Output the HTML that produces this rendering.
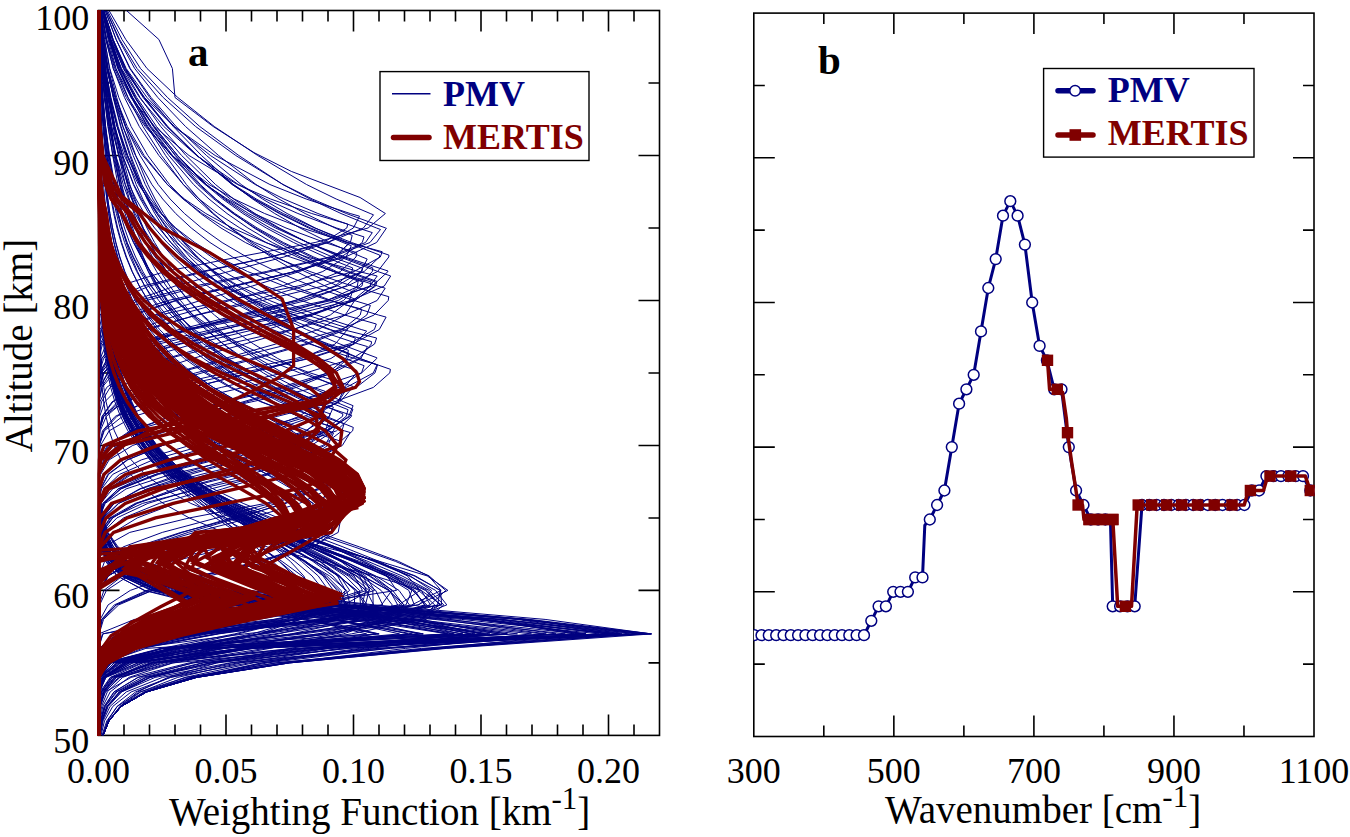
<!DOCTYPE html><html><head><meta charset="utf-8"><style>html,body{margin:0;padding:0;background:#fff}svg{display:block}</style></head><body>
<svg width="1350" height="837" viewBox="0 0 1350 837">
<rect width="1350" height="837" fill="#fff"/>
<rect x="98.5" y="10.5" width="561.00" height="724.90" fill="none" stroke="#000" stroke-width="1.6"/><path d="M226.00 735.4V714.4M226.00 10.5V31.5M353.50 735.4V714.4M353.50 10.5V31.5M481.00 735.4V714.4M481.00 10.5V31.5M608.50 735.4V714.4M608.50 10.5V31.5M124.00 735.4V724.4M124.00 10.5V21.5M149.50 735.4V724.4M149.50 10.5V21.5M175.00 735.4V724.4M175.00 10.5V21.5M200.50 735.4V724.4M200.50 10.5V21.5M251.50 735.4V724.4M251.50 10.5V21.5M277.00 735.4V724.4M277.00 10.5V21.5M302.50 735.4V724.4M302.50 10.5V21.5M328.00 735.4V724.4M328.00 10.5V21.5M379.00 735.4V724.4M379.00 10.5V21.5M404.50 735.4V724.4M404.50 10.5V21.5M430.00 735.4V724.4M430.00 10.5V21.5M455.50 735.4V724.4M455.50 10.5V21.5M506.50 735.4V724.4M506.50 10.5V21.5M532.00 735.4V724.4M532.00 10.5V21.5M557.50 735.4V724.4M557.50 10.5V21.5M583.00 735.4V724.4M583.00 10.5V21.5M634.00 735.4V724.4M634.00 10.5V21.5M98.5 590.42H119.5M659.5 590.42H638.5M98.5 445.44H119.5M659.5 445.44H638.5M98.5 300.46H119.5M659.5 300.46H638.5M98.5 155.48H119.5M659.5 155.48H638.5M98.5 662.91H109.5M659.5 662.91H648.5M98.5 517.93H109.5M659.5 517.93H648.5M98.5 372.95H109.5M659.5 372.95H648.5M98.5 227.97H109.5M659.5 227.97H648.5M98.5 82.99H109.5M659.5 82.99H648.5" stroke="#000" stroke-width="1.6" fill="none"/>
<rect x="753.8" y="13.1" width="560.20" height="723.40" fill="none" stroke="#000" stroke-width="1.6"/><path d="M893.85 736.5V715.5M893.85 13.1V34.1M1033.90 736.5V715.5M1033.90 13.1V34.1M1173.95 736.5V715.5M1173.95 13.1V34.1M823.82 736.5V725.5M823.82 13.1V24.1M963.88 736.5V725.5M963.88 13.1V24.1M1103.92 736.5V725.5M1103.92 13.1V24.1M1243.97 736.5V725.5M1243.97 13.1V24.1M753.8 591.82H774.8M1314.0 591.82H1293.0M753.8 447.14H774.8M1314.0 447.14H1293.0M753.8 302.46H774.8M1314.0 302.46H1293.0M753.8 157.78H774.8M1314.0 157.78H1293.0M753.8 664.16H764.8M1314.0 664.16H1303.0M753.8 519.48H764.8M1314.0 519.48H1303.0M753.8 374.80H764.8M1314.0 374.80H1303.0M753.8 230.12H764.8M1314.0 230.12H1303.0M753.8 85.44H764.8M1314.0 85.44H1303.0" stroke="#000" stroke-width="1.6" fill="none"/>
<defs><clipPath id="cl"><rect x="97.8" y="10.5" width="561.7" height="724.9"/></clipPath><clipPath id="cr"><rect x="753.8" y="13.1" width="561.0" height="723.4"/></clipPath></defs>
<g clip-path="url(#cl)"><g fill="none" stroke="#000080" stroke-width="1" stroke-linejoin="miter"><path d="M126.5 10.5 158.9 39.5 172.4 68.5 175.0 97.5 213.2 126.5 254.0 152.6 291.3 171.4 360.1 197.5 385.4 213.5 368.1 228.0 315.1 242.5 238.4 257.0 165.1 271.5 119.2 286.0 102.1 300.5 98.8 315.0 98.5 329.5 98.5 344.0 98.5 358.5 98.5 372.9 98.5 387.4 98.5 401.9 98.5 416.4 98.5 430.9 98.5 445.4 98.5 459.9 98.5 474.4 98.5 488.9 98.5 503.4 98.5 517.9 98.5 532.4 98.5 546.9 98.5 561.4 98.5 575.9 98.5 590.4 98.5 604.9 98.5 619.4 98.5 633.9 98.5 648.4 98.5 662.9 98.5 677.4 98.5 691.9 98.5 706.4 98.5 720.9 98.5 735.4"/><path d="M102.8 10.5 109.9 39.5 118.8 68.5 131.7 97.5 147.1 126.5 165.6 155.5 186.4 184.5 199.1 199.0 213.7 213.5 230.4 228.0 249.5 242.5 271.4 257.0 296.4 271.5 325.0 286.0 354.8 299.2 354.7 300.5 345.2 315.0 318.2 329.5 275.8 344.0 224.6 358.5 174.9 372.9 136.1 387.4 112.8 401.9 102.4 416.4 99.2 430.9 98.6 445.4 98.5 459.9 98.5 474.4 98.5 488.9 98.5 503.4 98.5 517.9 98.5 532.4 98.5 546.9 98.5 561.4 98.5 575.9 98.5 590.4 98.5 604.9 98.5 619.4 98.5 633.9 98.5 648.4 98.5 662.9 98.5 677.4 98.5 691.9 98.5 706.4 98.5 720.9 98.5 735.4"/><path d="M99.5 10.5 101.6 39.5 104.6 68.5 109.8 97.5 117.2 126.5 127.5 155.5 141.3 184.5 150.5 199.0 161.6 213.5 175.2 228.0 191.6 242.5 211.6 257.0 235.9 271.5 265.4 286.0 301.2 300.5 344.7 315.0 376.3 324.0 374.4 329.5 349.1 344.0 295.6 358.5 226.0 372.9 161.7 387.4 120.3 401.9 103.1 416.4 99.0 430.9 98.5 445.4 98.5 459.9 98.5 474.4 98.5 488.9 98.5 503.4 98.5 517.9 98.5 532.4 98.5 546.9 98.5 561.4 98.5 575.9 98.5 590.4 98.5 604.9 98.5 619.4 98.5 633.9 98.5 648.4 98.5 662.9 98.5 677.4 98.5 691.9 98.5 706.4 98.5 720.9 98.5 735.4"/><path d="M99.1 10.5 100.3 39.5 102.1 68.5 105.1 97.5 109.3 126.5 115.3 155.5 123.3 184.5 128.6 199.0 135.1 213.5 143.0 228.0 152.5 242.5 164.1 257.0 178.2 271.5 195.4 286.0 216.2 300.5 241.5 315.0 272.2 329.5 309.5 344.0 354.8 358.5 377.6 364.8 375.0 372.9 356.2 387.4 319.2 401.9 268.4 416.4 212.6 430.9 162.9 445.4 127.7 459.9 108.5 474.4 100.9 488.9 98.9 503.4 98.5 517.9 98.5 532.4 98.5 546.9 98.5 561.4 98.5 575.9 98.5 590.4 98.5 604.9 98.5 619.4 98.5 633.9 98.5 648.4 98.5 662.9 98.5 677.4 98.5 691.9 98.5 706.4 98.5 720.9 98.5 735.4"/><path d="M98.7 10.5 99.0 39.5 99.5 68.5 100.3 97.5 101.6 126.5 103.4 155.5 106.0 184.5 107.7 199.0 109.9 213.5 112.6 228.0 115.9 242.5 119.9 257.0 124.9 271.5 131.1 286.0 138.7 300.5 148.0 315.0 159.6 329.5 173.9 344.0 191.5 358.5 213.2 372.9 239.9 387.4 273.0 401.9 313.7 416.4 328.8 421.1 325.2 430.9 305.7 445.4 269.8 459.9 223.0 474.4 175.1 488.9 136.5 503.4 112.8 517.9 102.3 532.4 99.1 546.9 98.6 561.4 98.5 575.9 98.5 590.4 98.5 604.9 98.5 619.4 98.5 633.9 98.5 648.4 98.5 662.9 98.5 677.4 98.5 691.9 98.5 706.4 98.5 720.9 98.5 735.4"/><path d="M99.5 10.5 101.3 39.5 104.0 68.5 108.4 97.5 114.5 126.5 122.7 155.5 133.4 184.5 140.4 199.0 148.8 213.5 158.9 228.0 171.0 242.5 185.5 257.0 202.9 271.5 223.9 286.0 249.0 300.5 279.1 315.0 315.3 329.5 358.7 344.0 367.5 346.6 360.8 358.5 332.9 372.9 285.2 387.4 226.5 401.9 170.7 416.4 130.0 430.9 108.4 445.4 100.5 459.9 98.7 474.4 98.5 488.9 98.5 503.4 98.5 517.9 98.5 532.4 98.5 546.9 98.5 561.4 98.5 575.9 98.5 590.4 98.5 604.9 98.5 619.4 98.5 633.9 98.5 648.4 98.5 662.9 98.5 677.4 98.5 691.9 98.5 706.4 98.5 720.9 98.5 735.4"/><path d="M99.8 10.5 102.2 39.5 105.5 68.5 110.9 97.5 118.1 126.5 127.7 155.5 139.7 184.5 147.5 199.0 156.7 213.5 167.7 228.0 180.7 242.5 196.2 257.0 214.7 271.5 236.6 286.0 262.6 300.5 293.5 315.0 330.3 329.5 355.4 338.1 353.5 344.0 330.9 358.5 283.5 372.9 221.3 387.4 162.3 401.9 122.4 416.4 104.2 430.9 99.3 445.4 98.5 459.9 98.5 474.4 98.5 488.9 98.5 503.4 98.5 517.9 98.5 532.4 98.5 546.9 98.5 561.4 98.5 575.9 98.5 590.4 98.5 604.9 98.5 619.4 98.5 633.9 98.5 648.4 98.5 662.9 98.5 677.4 98.5 691.9 98.5 706.4 98.5 720.9 98.5 735.4"/><path d="M99.4 10.5 101.0 39.5 103.1 68.5 106.4 97.5 110.5 126.5 115.6 155.5 121.7 184.5 125.5 199.0 130.0 213.5 135.2 228.0 141.3 242.5 148.4 257.0 156.6 271.5 166.2 286.0 177.4 300.5 190.4 315.0 205.6 329.5 223.3 344.0 243.9 358.5 267.9 372.9 295.9 387.4 328.5 401.9 348.1 409.7 346.1 416.4 327.7 430.9 290.0 445.4 238.5 459.9 184.5 474.4 140.7 488.9 113.9 503.4 102.3 517.9 99.1 532.4 98.5 546.9 98.5 561.4 98.5 575.9 98.5 590.4 98.5 604.9 98.5 619.4 98.5 633.9 98.5 648.4 98.5 662.9 98.5 677.4 98.5 691.9 98.5 706.4 98.5 720.9 98.5 735.4"/><path d="M102.7 10.5 110.4 39.5 121.5 68.5 139.5 97.5 163.8 126.5 196.6 155.5 238.3 184.5 265.5 199.0 297.9 213.5 336.6 228.0 364.0 236.9 362.3 242.5 341.2 257.0 296.3 271.5 235.6 286.0 175.2 300.5 130.7 315.0 107.8 329.5 100.1 344.0 98.6 358.5 98.5 372.9 98.5 387.4 98.5 401.9 98.5 416.4 98.5 430.9 98.5 445.4 98.5 459.9 98.5 474.4 98.5 488.9 98.5 503.4 98.5 517.9 98.5 532.4 98.5 546.9 98.5 561.4 98.5 575.9 98.5 590.4 98.5 604.9 98.5 619.4 98.5 633.9 98.5 648.4 98.5 662.9 98.5 677.4 98.5 691.9 98.5 706.4 98.5 720.9 98.5 735.4"/><path d="M99.0 10.5 100.0 39.5 101.6 68.5 104.5 97.5 109.0 126.5 115.7 155.5 125.2 184.5 131.8 199.0 140.1 213.5 150.4 228.0 163.3 242.5 179.3 257.0 199.3 271.5 224.3 286.0 255.4 300.5 294.3 315.0 342.7 329.5 376.6 338.0 374.6 344.0 352.5 358.5 306.0 372.9 243.5 387.4 180.8 401.9 133.9 416.4 109.1 430.9 100.5 445.4 98.7 459.9 98.5 474.4 98.5 488.9 98.5 503.4 98.5 517.9 98.5 532.4 98.5 546.9 98.5 561.4 98.5 575.9 98.5 590.4 98.5 604.9 98.5 619.4 98.5 633.9 98.5 648.4 98.5 662.9 98.5 677.4 98.5 691.9 98.5 706.4 98.5 720.9 98.5 735.4"/><path d="M99.2 10.5 100.7 39.5 103.2 68.5 107.6 97.5 114.3 126.5 124.3 155.5 138.5 184.5 148.4 199.0 160.6 213.5 175.8 228.0 194.7 242.5 218.2 257.0 247.5 271.5 284.0 286.0 329.5 300.5 361.7 309.1 360.2 315.0 342.6 329.5 304.9 344.0 252.2 358.5 195.6 372.9 148.0 387.4 117.6 401.9 103.7 416.4 99.4 430.9 98.6 445.4 98.5 459.9 98.5 474.4 98.5 488.9 98.5 503.4 98.5 517.9 98.5 532.4 98.5 546.9 98.5 561.4 98.5 575.9 98.5 590.4 98.5 604.9 98.5 619.4 98.5 633.9 98.5 648.4 98.5 662.9 98.5 677.4 98.5 691.9 98.5 706.4 98.5 720.9 98.5 735.4"/><path d="M98.7 10.5 99.0 39.5 99.4 68.5 100.2 97.5 101.4 126.5 103.1 155.5 105.3 184.5 106.8 199.0 108.7 213.5 111.0 228.0 113.8 242.5 117.2 257.0 121.4 271.5 126.5 286.0 132.7 300.5 140.4 315.0 149.7 329.5 161.2 344.0 175.1 358.5 192.3 372.9 213.2 387.4 238.8 401.9 270.2 416.4 308.5 430.9 340.2 441.0 338.9 445.4 315.7 459.9 264.5 474.4 199.0 488.9 142.6 503.4 110.8 517.9 100.3 532.4 98.6 546.9 98.5 561.4 98.5 575.9 98.5 590.4 98.5 604.9 98.5 619.4 98.5 633.9 98.5 648.4 98.5 662.9 98.5 677.4 98.5 691.9 98.5 706.4 98.5 720.9 98.5 735.4"/><path d="M98.8 10.5 99.3 39.5 100.2 68.5 101.7 97.5 103.9 126.5 107.0 155.5 111.2 184.5 114.1 199.0 117.5 213.5 121.8 228.0 127.0 242.5 133.4 257.0 141.2 271.5 150.8 286.0 162.5 300.5 176.8 315.0 194.3 329.5 215.7 344.0 241.9 358.5 274.0 372.9 313.3 387.4 324.9 391.2 320.4 401.9 299.1 416.4 261.1 430.9 213.0 445.4 165.6 459.9 129.5 474.4 109.0 488.9 100.9 503.4 98.8 517.9 98.5 532.4 98.5 546.9 98.5 561.4 98.5 575.9 98.5 590.4 98.5 604.9 98.5 619.4 98.5 633.9 98.5 648.4 98.5 662.9 98.5 677.4 98.5 691.9 98.5 706.4 98.5 720.9 98.5 735.4"/><path d="M102.7 10.5 110.0 39.5 119.7 68.5 134.7 97.5 153.7 126.5 177.6 155.5 206.4 184.5 224.4 199.0 245.5 213.5 270.1 228.0 298.9 242.5 332.5 257.0 362.5 268.3 362.0 271.5 345.7 286.0 306.1 300.5 248.9 315.0 188.2 329.5 139.9 344.0 112.1 358.5 101.3 372.9 98.8 387.4 98.5 401.9 98.5 416.4 98.5 430.9 98.5 445.4 98.5 459.9 98.5 474.4 98.5 488.9 98.5 503.4 98.5 517.9 98.5 532.4 98.5 546.9 98.5 561.4 98.5 575.9 98.5 590.4 98.5 604.9 98.5 619.4 98.5 633.9 98.5 648.4 98.5 662.9 98.5 677.4 98.5 691.9 98.5 706.4 98.5 720.9 98.5 735.4"/><path d="M100.0 10.5 102.7 39.5 106.8 68.5 113.6 97.5 122.8 126.5 135.5 155.5 151.9 184.5 162.7 199.0 175.7 213.5 191.3 228.0 210.0 242.5 232.6 257.0 259.6 271.5 292.2 286.0 331.3 300.5 378.4 315.0 386.1 317.1 379.3 329.5 352.8 344.0 307.4 358.5 250.1 372.9 192.3 387.4 145.8 401.9 116.9 416.4 103.6 430.9 99.4 445.4 98.6 459.9 98.5 474.4 98.5 488.9 98.5 503.4 98.5 517.9 98.5 532.4 98.5 546.9 98.5 561.4 98.5 575.9 98.5 590.4 98.5 604.9 98.5 619.4 98.5 633.9 98.5 648.4 98.5 662.9 98.5 677.4 98.5 691.9 98.5 706.4 98.5 720.9 98.5 735.4"/><path d="M99.7 10.5 102.3 39.5 106.5 68.5 114.0 97.5 125.5 126.5 142.8 155.5 167.4 184.5 184.5 199.0 205.8 213.5 232.4 228.0 265.6 242.5 306.9 257.0 358.6 271.5 377.2 276.0 369.9 286.0 331.5 300.5 265.5 315.0 191.7 329.5 135.4 344.0 107.6 358.5 99.7 372.9 98.6 387.4 98.5 401.9 98.5 416.4 98.5 430.9 98.5 445.4 98.5 459.9 98.5 474.4 98.5 488.9 98.5 503.4 98.5 517.9 98.5 532.4 98.5 546.9 98.5 561.4 98.5 575.9 98.5 590.4 98.5 604.9 98.5 619.4 98.5 633.9 98.5 648.4 98.5 662.9 98.5 677.4 98.5 691.9 98.5 706.4 98.5 720.9 98.5 735.4"/><path d="M99.6 10.5 101.4 39.5 103.7 68.5 107.0 97.5 111.0 126.5 115.8 155.5 121.2 184.5 124.5 199.0 128.3 213.5 132.7 228.0 137.7 242.5 143.4 257.0 150.0 271.5 157.5 286.0 166.1 300.5 176.0 315.0 187.3 329.5 200.2 344.0 215.1 358.5 232.1 372.9 251.6 387.4 274.0 401.9 299.6 416.4 329.0 430.9 333.5 433.0 327.9 445.4 306.2 459.9 269.2 474.4 222.5 488.9 175.3 503.4 137.3 517.9 113.6 532.4 102.7 546.9 99.3 561.4 98.6 575.9 98.5 590.4 98.5 604.9 98.5 619.4 98.5 633.9 98.5 648.4 98.5 662.9 98.5 677.4 98.5 691.9 98.5 706.4 98.5 720.9 98.5 735.4"/><path d="M103.9 10.5 113.2 39.5 125.6 68.5 144.3 97.5 167.8 126.5 197.2 155.5 232.0 184.5 253.8 199.0 279.2 213.5 308.6 228.0 342.9 242.5 351.3 245.7 346.1 257.0 322.8 271.5 282.0 286.0 230.0 300.5 178.0 315.0 137.1 329.5 112.6 344.0 102.1 358.5 99.1 372.9 98.5 387.4 98.5 401.9 98.5 416.4 98.5 430.9 98.5 445.4 98.5 459.9 98.5 474.4 98.5 488.9 98.5 503.4 98.5 517.9 98.5 532.4 98.5 546.9 98.5 561.4 98.5 575.9 98.5 590.4 98.5 604.9 98.5 619.4 98.5 633.9 98.5 648.4 98.5 662.9 98.5 677.4 98.5 691.9 98.5 706.4 98.5 720.9 98.5 735.4"/><path d="M100.9 10.5 105.7 39.5 113.3 68.5 126.3 97.5 145.1 126.5 172.2 155.5 209.1 184.5 234.1 199.0 264.6 213.5 302.0 228.0 347.9 242.5 382.2 251.7 380.3 257.0 354.1 271.5 298.1 286.0 225.7 300.5 159.9 315.0 118.8 329.5 102.5 344.0 98.9 358.5 98.5 372.9 98.5 387.4 98.5 401.9 98.5 416.4 98.5 430.9 98.5 445.4 98.5 459.9 98.5 474.4 98.5 488.9 98.5 503.4 98.5 517.9 98.5 532.4 98.5 546.9 98.5 561.4 98.5 575.9 98.5 590.4 98.5 604.9 98.5 619.4 98.5 633.9 98.5 648.4 98.5 662.9 98.5 677.4 98.5 691.9 98.5 706.4 98.5 720.9 98.5 735.4"/><path d="M105.2 10.5 116.2 39.5 130.3 68.5 151.1 97.5 176.1 126.5 206.5 155.5 241.2 184.5 262.5 199.0 287.1 213.5 315.3 228.0 347.7 242.5 379.7 255.1 379.5 257.0 364.1 271.5 323.2 286.0 262.6 300.5 197.1 315.0 144.2 329.5 113.5 344.0 101.6 358.5 98.9 372.9 98.5 387.4 98.5 401.9 98.5 416.4 98.5 430.9 98.5 445.4 98.5 459.9 98.5 474.4 98.5 488.9 98.5 503.4 98.5 517.9 98.5 532.4 98.5 546.9 98.5 561.4 98.5 575.9 98.5 590.4 98.5 604.9 98.5 619.4 98.5 633.9 98.5 648.4 98.5 662.9 98.5 677.4 98.5 691.9 98.5 706.4 98.5 720.9 98.5 735.4"/><path d="M106.2 10.5 118.8 39.5 134.7 68.5 157.8 97.5 185.5 126.5 218.6 155.5 256.0 184.5 278.9 199.0 305.1 213.5 335.1 228.0 352.2 235.4 350.4 242.5 333.7 257.0 299.7 271.5 252.3 286.0 200.3 300.5 154.6 315.0 122.9 329.5 106.4 344.0 100.2 358.5 98.7 372.9 98.5 387.4 98.5 401.9 98.5 416.4 98.5 430.9 98.5 445.4 98.5 459.9 98.5 474.4 98.5 488.9 98.5 503.4 98.5 517.9 98.5 532.4 98.5 546.9 98.5 561.4 98.5 575.9 98.5 590.4 98.5 604.9 98.5 619.4 98.5 633.9 98.5 648.4 98.5 662.9 98.5 677.4 98.5 691.9 98.5 706.4 98.5 720.9 98.5 735.4"/><path d="M99.8 10.5 102.2 39.5 105.5 68.5 110.6 97.5 117.2 126.5 125.7 155.5 136.2 184.5 142.8 199.0 150.6 213.5 159.9 228.0 170.7 242.5 183.5 257.0 198.5 271.5 216.1 286.0 236.9 300.5 261.4 315.0 290.2 329.5 324.1 344.0 349.0 353.3 347.8 358.5 331.8 372.9 296.4 387.4 246.4 401.9 192.2 416.4 146.4 430.9 117.0 445.4 103.5 459.9 99.3 474.4 98.6 488.9 98.5 503.4 98.5 517.9 98.5 532.4 98.5 546.9 98.5 561.4 98.5 575.9 98.5 590.4 98.5 604.9 98.5 619.4 98.5 633.9 98.5 648.4 98.5 662.9 98.5 677.4 98.5 691.9 98.5 706.4 98.5 720.9 98.5 735.4"/><path d="M99.3 10.5 100.7 39.5 102.9 68.5 106.6 97.5 111.7 126.5 118.6 155.5 127.8 184.5 133.8 199.0 141.1 213.5 149.9 228.0 160.5 242.5 173.3 257.0 188.7 271.5 207.3 286.0 229.7 300.5 256.8 315.0 289.4 329.5 328.7 344.0 348.5 350.3 345.9 358.5 327.5 372.9 291.6 387.4 242.9 401.9 191.0 416.4 147.1 430.9 118.3 445.4 104.3 459.9 99.6 474.4 98.6 488.9 98.5 503.4 98.5 517.9 98.5 532.4 98.5 546.9 98.5 561.4 98.5 575.9 98.5 590.4 98.5 604.9 98.5 619.4 98.5 633.9 98.5 648.4 98.5 662.9 98.5 677.4 98.5 691.9 98.5 706.4 98.5 720.9 98.5 735.4"/><path d="M98.8 10.5 99.4 39.5 100.3 68.5 101.8 97.5 103.9 126.5 106.8 155.5 110.7 184.5 113.3 199.0 116.4 213.5 120.1 228.0 124.6 242.5 130.1 257.0 136.7 271.5 144.8 286.0 154.5 300.5 166.2 315.0 180.4 329.5 197.6 344.0 218.4 358.5 243.6 372.9 274.0 387.4 310.8 401.9 351.6 415.3 351.5 416.4 336.4 430.9 294.2 445.4 232.8 459.9 170.5 474.4 126.1 488.9 105.2 503.4 99.4 517.9 98.5 532.4 98.5 546.9 98.5 561.4 98.5 575.9 98.5 590.4 98.5 604.9 98.5 619.4 98.5 633.9 98.5 648.4 98.5 662.9 98.5 677.4 98.5 691.9 98.5 706.4 98.5 720.9 98.5 735.4"/><path d="M99.9 10.5 102.2 39.5 105.1 68.5 109.4 97.5 114.6 126.5 120.9 155.5 128.0 184.5 132.5 199.0 137.5 213.5 143.3 228.0 150.0 242.5 157.7 257.0 166.5 271.5 176.6 286.0 188.2 300.5 201.6 315.0 216.9 329.5 234.6 344.0 254.8 358.5 278.1 372.9 304.9 387.4 335.6 401.9 352.9 409.3 350.1 416.4 325.7 430.9 277.4 445.4 215.7 459.9 158.5 474.4 120.5 488.9 103.7 503.4 99.2 517.9 98.5 532.4 98.5 546.9 98.5 561.4 98.5 575.9 98.5 590.4 98.5 604.9 98.5 619.4 98.5 633.9 98.5 648.4 98.5 662.9 98.5 677.4 98.5 691.9 98.5 706.4 98.5 720.9 98.5 735.4"/><path d="M99.8 10.5 101.8 39.5 104.5 68.5 108.4 97.5 113.1 126.5 118.8 155.5 125.3 184.5 129.3 199.0 134.0 213.5 139.3 228.0 145.4 242.5 152.4 257.0 160.5 271.5 169.8 286.0 180.5 300.5 192.8 315.0 206.9 329.5 223.1 344.0 241.8 358.5 263.3 372.9 287.9 387.4 316.3 401.9 342.9 413.9 342.5 416.4 322.5 430.9 273.1 445.4 206.8 459.9 147.3 474.4 112.6 488.9 100.7 503.4 98.6 517.9 98.5 532.4 98.5 546.9 98.5 561.4 98.5 575.9 98.5 590.4 98.5 604.9 98.5 619.4 98.5 633.9 98.5 648.4 98.5 662.9 98.5 677.4 98.5 691.9 98.5 706.4 98.5 720.9 98.5 735.4"/><path d="M101.3 10.5 106.2 39.5 113.3 68.5 124.5 97.5 139.3 126.5 158.9 155.5 183.4 184.5 199.1 199.0 217.8 213.5 239.9 228.0 266.2 242.5 297.3 257.0 334.1 271.5 377.8 286.0 385.2 288.2 377.1 300.5 345.3 315.0 291.9 329.5 227.6 344.0 168.3 358.5 127.1 372.9 106.7 387.4 99.9 401.9 98.6 416.4 98.5 430.9 98.5 445.4 98.5 459.9 98.5 474.4 98.5 488.9 98.5 503.4 98.5 517.9 98.5 532.4 98.5 546.9 98.5 561.4 98.5 575.9 98.5 590.4 98.5 604.9 98.5 619.4 98.5 633.9 98.5 648.4 98.5 662.9 98.5 677.4 98.5 691.9 98.5 706.4 98.5 720.9 98.5 735.4"/><path d="M101.3 10.5 106.6 39.5 114.6 68.5 127.9 97.5 146.3 126.5 171.7 155.5 205.2 184.5 227.2 199.0 253.9 213.5 286.0 228.0 324.8 242.5 356.8 252.7 356.0 257.0 340.4 271.5 304.4 286.0 252.8 300.5 196.3 315.0 148.4 329.5 117.7 344.0 103.6 358.5 99.3 372.9 98.6 387.4 98.5 401.9 98.5 416.4 98.5 430.9 98.5 445.4 98.5 459.9 98.5 474.4 98.5 488.9 98.5 503.4 98.5 517.9 98.5 532.4 98.5 546.9 98.5 561.4 98.5 575.9 98.5 590.4 98.5 604.9 98.5 619.4 98.5 633.9 98.5 648.4 98.5 662.9 98.5 677.4 98.5 691.9 98.5 706.4 98.5 720.9 98.5 735.4"/><path d="M100.2 10.5 103.4 39.5 108.0 68.5 115.6 97.5 125.9 126.5 140.0 155.5 158.2 184.5 170.1 199.0 184.4 213.5 201.6 228.0 222.1 242.5 246.7 257.0 276.2 271.5 311.7 286.0 354.1 300.5 370.4 305.4 366.8 315.0 346.3 329.5 308.0 344.0 256.7 358.5 202.0 372.9 154.9 387.4 122.9 401.9 106.3 416.4 100.2 430.9 98.7 445.4 98.5 459.9 98.5 474.4 98.5 488.9 98.5 503.4 98.5 517.9 98.5 532.4 98.5 546.9 98.5 561.4 98.5 575.9 98.5 590.4 98.5 604.9 98.5 619.4 98.5 633.9 98.5 648.4 98.5 662.9 98.5 677.4 98.5 691.9 98.5 706.4 98.5 720.9 98.5 735.4"/><path d="M100.8 10.5 104.6 39.5 109.5 68.5 116.7 97.5 125.3 126.5 135.8 155.5 147.8 184.5 155.1 199.0 163.6 213.5 173.3 228.0 184.5 242.5 197.3 257.0 212.1 271.5 229.0 286.0 248.5 300.5 270.9 315.0 296.7 329.5 326.3 344.0 360.3 358.5 377.0 364.9 373.3 372.9 346.3 387.4 294.8 401.9 229.2 416.4 167.6 430.9 125.4 445.4 105.4 459.9 99.5 474.4 98.6 488.9 98.5 503.4 98.5 517.9 98.5 532.4 98.5 546.9 98.5 561.4 98.5 575.9 98.5 590.4 98.5 604.9 98.5 619.4 98.5 633.9 98.5 648.4 98.5 662.9 98.5 677.4 98.5 691.9 98.5 706.4 98.5 720.9 98.5 735.4"/><path d="M98.6 10.5 98.9 39.5 99.3 68.5 100.1 97.5 101.2 126.5 102.9 155.5 105.2 184.5 106.8 199.0 108.7 213.5 111.1 228.0 114.1 242.5 117.9 257.0 122.4 271.5 128.1 286.0 135.1 300.5 143.8 315.0 154.6 329.5 167.9 344.0 184.3 358.5 204.7 372.9 229.9 387.4 261.0 401.9 299.6 416.4 329.6 425.9 328.2 430.9 306.9 445.4 260.8 459.9 201.0 474.4 147.2 488.9 114.1 503.4 101.4 517.9 98.8 532.4 98.5 546.9 98.5 561.4 98.5 575.9 98.5 590.4 98.5 604.9 98.5 619.4 98.5 633.9 98.5 648.4 98.5 662.9 98.5 677.4 98.5 691.9 98.5 706.4 98.5 720.9 98.5 735.4"/><path d="M98.9 10.5 99.8 39.5 101.0 68.5 102.9 97.5 105.6 126.5 109.2 155.5 113.7 184.5 116.7 199.0 120.2 213.5 124.5 228.0 129.5 242.5 135.6 257.0 142.8 271.5 151.5 286.0 161.8 300.5 174.2 315.0 189.0 329.5 206.6 344.0 227.7 358.5 252.9 372.9 283.1 387.4 319.1 401.9 333.4 407.1 329.2 416.4 305.3 430.9 261.5 445.4 206.9 459.9 156.0 474.4 121.1 488.9 104.5 503.4 99.4 517.9 98.6 532.4 98.5 546.9 98.5 561.4 98.5 575.9 98.5 590.4 98.5 604.9 98.5 619.4 98.5 633.9 98.5 648.4 98.5 662.9 98.5 677.4 98.5 691.9 98.5 706.4 98.5 720.9 98.5 735.4"/><path d="M102.5 10.5 109.4 39.5 118.7 68.5 132.7 97.5 150.4 126.5 172.6 155.5 199.0 184.5 215.5 199.0 234.8 213.5 257.2 228.0 283.4 242.5 313.8 257.0 349.2 271.5 376.9 281.4 375.7 286.0 354.7 300.5 307.5 315.0 242.7 329.5 178.1 344.0 131.1 358.5 107.4 372.9 99.9 387.4 98.6 401.9 98.5 416.4 98.5 430.9 98.5 445.4 98.5 459.9 98.5 474.4 98.5 488.9 98.5 503.4 98.5 517.9 98.5 532.4 98.5 546.9 98.5 561.4 98.5 575.9 98.5 590.4 98.5 604.9 98.5 619.4 98.5 633.9 98.5 648.4 98.5 662.9 98.5 677.4 98.5 691.9 98.5 706.4 98.5 720.9 98.5 735.4"/><path d="M100.0 10.5 102.9 39.5 107.6 68.5 115.6 97.5 127.3 126.5 144.2 155.5 167.3 184.5 183.0 199.0 202.2 213.5 225.8 228.0 254.7 242.5 290.2 257.0 333.7 271.5 371.1 281.9 370.3 286.0 352.9 300.5 312.4 315.0 254.8 329.5 193.5 344.0 143.7 358.5 114.2 372.9 102.1 387.4 99.0 401.9 98.5 416.4 98.5 430.9 98.5 445.4 98.5 459.9 98.5 474.4 98.5 488.9 98.5 503.4 98.5 517.9 98.5 532.4 98.5 546.9 98.5 561.4 98.5 575.9 98.5 590.4 98.5 604.9 98.5 619.4 98.5 633.9 98.5 648.4 98.5 662.9 98.5 677.4 98.5 691.9 98.5 706.4 98.5 720.9 98.5 735.4"/><path d="M100.5 10.5 103.8 39.5 108.2 68.5 114.8 97.5 123.0 126.5 133.2 155.5 145.3 184.5 152.8 199.0 161.6 213.5 171.7 228.0 183.5 242.5 197.2 257.0 213.1 271.5 231.5 286.0 252.9 300.5 277.7 315.0 306.5 329.5 340.0 344.0 376.9 357.8 376.8 358.5 361.6 372.9 317.2 387.4 251.4 401.9 182.9 416.4 132.4 430.9 107.3 445.4 99.8 459.9 98.6 474.4 98.5 488.9 98.5 503.4 98.5 517.9 98.5 532.4 98.5 546.9 98.5 561.4 98.5 575.9 98.5 590.4 98.5 604.9 98.5 619.4 98.5 633.9 98.5 648.4 98.5 662.9 98.5 677.4 98.5 691.9 98.5 706.4 98.5 720.9 98.5 735.4"/><path d="M99.6 10.5 101.7 39.5 104.8 68.5 110.0 97.5 117.1 126.5 126.9 155.5 139.6 184.5 148.0 199.0 158.1 213.5 170.2 228.0 184.8 242.5 202.4 257.0 223.6 271.5 249.1 286.0 279.8 300.5 316.7 315.0 361.2 329.5 366.7 331.1 354.5 344.0 309.9 358.5 241.2 372.9 171.3 387.4 123.7 401.9 103.6 416.4 99.0 430.9 98.5 445.4 98.5 459.9 98.5 474.4 98.5 488.9 98.5 503.4 98.5 517.9 98.5 532.4 98.5 546.9 98.5 561.4 98.5 575.9 98.5 590.4 98.5 604.9 98.5 619.4 98.5 633.9 98.5 648.4 98.5 662.9 98.5 677.4 98.5 691.9 98.5 706.4 98.5 720.9 98.5 735.4"/><path d="M99.4 10.5 100.9 39.5 102.9 68.5 105.8 97.5 109.5 126.5 114.1 155.5 119.6 184.5 122.9 199.0 126.9 213.5 131.4 228.0 136.7 242.5 142.8 257.0 149.9 271.5 158.2 286.0 167.7 300.5 178.9 315.0 191.7 329.5 206.7 344.0 224.1 358.5 244.2 372.9 267.6 387.4 294.7 401.9 326.2 416.4 353.3 427.4 352.6 430.9 336.0 445.4 296.2 459.9 239.8 474.4 180.9 488.9 135.2 503.4 109.9 517.9 100.7 532.4 98.7 546.9 98.5 561.4 98.5 575.9 98.5 590.4 98.5 604.9 98.5 619.4 98.5 633.9 98.5 648.4 98.5 662.9 98.5 677.4 98.5 691.9 98.5 706.4 98.5 720.9 98.5 735.4"/><path d="M102.4 10.5 109.0 39.5 117.8 68.5 131.2 97.5 147.9 126.5 168.8 155.5 193.6 184.5 209.0 199.0 227.0 213.5 247.9 228.0 272.3 242.5 300.5 257.0 333.4 271.5 358.2 281.1 357.3 286.0 343.5 300.5 312.5 315.0 267.0 329.5 215.0 344.0 166.6 358.5 130.7 372.9 110.1 387.4 101.5 401.9 99.0 416.4 98.5 430.9 98.5 445.4 98.5 459.9 98.5 474.4 98.5 488.9 98.5 503.4 98.5 517.9 98.5 532.4 98.5 546.9 98.5 561.4 98.5 575.9 98.5 590.4 98.5 604.9 98.5 619.4 98.5 633.9 98.5 648.4 98.5 662.9 98.5 677.4 98.5 691.9 98.5 706.4 98.5 720.9 98.5 735.4"/><path d="M105.2 10.5 116.1 39.5 129.8 68.5 149.7 97.5 173.3 126.5 201.5 155.5 233.3 184.5 252.6 199.0 274.7 213.5 300.1 228.0 329.0 242.5 362.1 257.0 367.2 259.0 361.0 271.5 336.9 286.0 295.6 300.5 243.2 315.0 189.6 329.5 145.8 344.0 117.6 358.5 104.1 372.9 99.6 387.4 98.6 401.9 98.5 416.4 98.5 430.9 98.5 445.4 98.5 459.9 98.5 474.4 98.5 488.9 98.5 503.4 98.5 517.9 98.5 532.4 98.5 546.9 98.5 561.4 98.5 575.9 98.5 590.4 98.5 604.9 98.5 619.4 98.5 633.9 98.5 648.4 98.5 662.9 98.5 677.4 98.5 691.9 98.5 706.4 98.5 720.9 98.5 735.4"/><path d="M99.0 10.5 99.8 39.5 100.9 68.5 102.8 97.5 105.2 126.5 108.4 155.5 112.5 184.5 115.1 199.0 118.2 213.5 121.8 228.0 126.2 242.5 131.4 257.0 137.5 271.5 144.7 286.0 153.3 300.5 163.5 315.0 175.7 329.5 190.0 344.0 207.1 358.5 227.3 372.9 251.2 387.4 279.7 401.9 313.4 416.4 335.5 424.7 333.5 430.9 311.5 445.4 266.5 459.9 208.2 474.4 154.0 488.9 118.4 503.4 103.0 517.9 99.0 532.4 98.5 546.9 98.5 561.4 98.5 575.9 98.5 590.4 98.5 604.9 98.5 619.4 98.5 633.9 98.5 648.4 98.5 662.9 98.5 677.4 98.5 691.9 98.5 706.4 98.5 720.9 98.5 735.4"/><path d="M102.1 10.5 108.1 39.5 116.1 68.5 128.1 97.5 143.0 126.5 161.5 155.5 183.3 184.5 196.9 199.0 212.6 213.5 230.8 228.0 252.0 242.5 276.5 257.0 305.0 271.5 338.0 286.0 352.4 291.7 349.4 300.5 330.3 315.0 293.8 329.5 244.7 344.0 192.5 358.5 148.3 372.9 119.1 387.4 104.7 401.9 99.7 416.4 98.6 430.9 98.5 445.4 98.5 459.9 98.5 474.4 98.5 488.9 98.5 503.4 98.5 517.9 98.5 532.4 98.5 546.9 98.5 561.4 98.5 575.9 98.5 590.4 98.5 604.9 98.5 619.4 98.5 633.9 98.5 648.4 98.5 662.9 98.5 677.4 98.5 691.9 98.5 706.4 98.5 720.9 98.5 735.4"/><path d="M98.8 10.5 99.3 39.5 100.1 68.5 101.5 97.5 103.4 126.5 106.0 155.5 109.4 184.5 111.7 199.0 114.4 213.5 117.7 228.0 121.7 242.5 126.5 257.0 132.3 271.5 139.3 286.0 147.8 300.5 158.1 315.0 170.5 329.5 185.4 344.0 203.5 358.5 225.3 372.9 251.6 387.4 283.4 401.9 321.8 416.4 344.1 423.7 341.9 430.9 322.8 445.4 284.6 459.9 233.0 474.4 179.7 488.9 137.3 503.4 112.2 517.9 101.7 532.4 99.0 546.9 98.5 561.4 98.5 575.9 98.5 590.4 98.5 604.9 98.5 619.4 98.5 633.9 98.5 648.4 98.5 662.9 98.5 677.4 98.5 691.9 98.5 706.4 98.5 720.9 98.5 735.4"/><path d="M103.6 10.5 112.2 39.5 123.4 68.5 140.1 97.5 160.7 126.5 186.0 155.5 215.5 184.5 233.7 199.0 254.9 213.5 279.3 228.0 307.5 242.5 340.1 257.0 377.8 271.5 390.7 276.0 384.3 286.0 351.0 300.5 291.9 315.0 220.9 329.5 158.4 344.0 119.3 358.5 103.1 372.9 99.0 387.4 98.5 401.9 98.5 416.4 98.5 430.9 98.5 445.4 98.5 459.9 98.5 474.4 98.5 488.9 98.5 503.4 98.5 517.9 98.5 532.4 98.5 546.9 98.5 561.4 98.5 575.9 98.5 590.4 98.5 604.9 98.5 619.4 98.5 633.9 98.5 648.4 98.5 662.9 98.5 677.4 98.5 691.9 98.5 706.4 98.5 720.9 98.5 735.4"/><path d="M102.9 10.5 110.3 39.5 120.3 68.5 135.3 97.5 154.1 126.5 177.5 155.5 205.3 184.5 222.7 199.0 242.9 213.5 266.3 228.0 293.6 242.5 325.3 257.0 352.6 267.9 352.0 271.5 335.1 286.0 294.9 300.5 238.0 315.0 179.0 329.5 133.7 344.0 109.2 358.5 100.5 372.9 98.7 387.4 98.5 401.9 98.5 416.4 98.5 430.9 98.5 445.4 98.5 459.9 98.5 474.4 98.5 488.9 98.5 503.4 98.5 517.9 98.5 532.4 98.5 546.9 98.5 561.4 98.5 575.9 98.5 590.4 98.5 604.9 98.5 619.4 98.5 633.9 98.5 648.4 98.5 662.9 98.5 677.4 98.5 691.9 98.5 706.4 98.5 720.9 98.5 735.4"/><path d="M99.0 10.5 100.0 39.5 101.6 68.5 104.2 97.5 107.9 126.5 113.0 155.5 119.9 184.5 124.5 199.0 130.1 213.5 136.9 228.0 145.1 242.5 155.1 257.0 167.2 271.5 181.9 286.0 199.8 300.5 221.5 315.0 247.8 329.5 279.8 344.0 318.7 358.5 356.8 370.4 356.5 372.9 344.4 387.4 313.5 401.9 266.6 416.4 212.4 430.9 162.6 445.4 127.0 459.9 107.8 474.4 100.5 488.9 98.8 503.4 98.5 517.9 98.5 532.4 98.5 546.9 98.5 561.4 98.5 575.9 98.5 590.4 98.5 604.9 98.5 619.4 98.5 633.9 98.5 648.4 98.5 662.9 98.5 677.4 98.5 691.9 98.5 706.4 98.5 720.9 98.5 735.4"/><path d="M98.7 10.5 99.2 39.5 99.9 68.5 101.2 97.5 102.9 126.5 105.4 155.5 108.8 184.5 111.0 199.0 113.7 213.5 117.0 228.0 121.1 242.5 126.0 257.0 132.0 271.5 139.3 286.0 148.2 300.5 159.0 315.0 172.1 329.5 188.2 344.0 207.7 358.5 231.5 372.9 260.4 387.4 295.7 401.9 330.0 413.8 329.6 416.4 312.6 430.9 270.2 445.4 211.7 459.9 155.5 474.4 118.4 488.9 102.7 503.4 98.9 517.9 98.5 532.4 98.5 546.9 98.5 561.4 98.5 575.9 98.5 590.4 98.5 604.9 98.5 619.4 98.5 633.9 98.5 648.4 98.5 662.9 98.5 677.4 98.5 691.9 98.5 706.4 98.5 720.9 98.5 735.4"/><path d="M103.0 10.5 110.6 39.5 120.9 68.5 136.7 97.5 156.5 126.5 181.6 155.5 211.6 184.5 230.4 199.0 252.4 213.5 278.0 228.0 307.8 242.5 342.7 257.0 372.8 267.9 372.3 271.5 359.0 286.0 326.9 300.5 278.8 315.0 223.0 329.5 171.0 344.0 132.4 358.5 110.5 372.9 101.5 387.4 99.0 401.9 98.5 416.4 98.5 430.9 98.5 445.4 98.5 459.9 98.5 474.4 98.5 488.9 98.5 503.4 98.5 517.9 98.5 532.4 98.5 546.9 98.5 561.4 98.5 575.9 98.5 590.4 98.5 604.9 98.5 619.4 98.5 633.9 98.5 648.4 98.5 662.9 98.5 677.4 98.5 691.9 98.5 706.4 98.5 720.9 98.5 735.4"/><path d="M99.3 10.5 101.0 39.5 103.5 68.5 107.7 97.5 113.7 126.5 122.3 155.5 133.8 184.5 141.5 199.0 150.9 213.5 162.3 228.0 176.2 242.5 193.2 257.0 213.8 271.5 239.0 286.0 269.6 300.5 306.9 315.0 347.6 328.1 347.5 329.5 335.2 344.0 301.3 358.5 250.0 372.9 193.0 387.4 144.9 401.9 115.2 416.4 102.5 430.9 99.0 445.4 98.5 459.9 98.5 474.4 98.5 488.9 98.5 503.4 98.5 517.9 98.5 532.4 98.5 546.9 98.5 561.4 98.5 575.9 98.5 590.4 98.5 604.9 98.5 619.4 98.5 633.9 98.5 648.4 98.5 662.9 98.5 677.4 98.5 691.9 98.5 706.4 98.5 720.9 98.5 735.4"/><path d="M102.2 10.5 108.8 39.5 118.0 68.5 132.4 97.5 151.2 126.5 175.8 155.5 206.2 184.5 225.6 199.0 248.6 213.5 275.6 228.0 307.5 242.5 345.2 257.0 388.0 271.0 388.0 271.5 372.3 286.0 326.1 300.5 257.3 315.0 185.8 329.5 133.3 344.0 107.4 358.5 99.8 372.9 98.6 387.4 98.5 401.9 98.5 416.4 98.5 430.9 98.5 445.4 98.5 459.9 98.5 474.4 98.5 488.9 98.5 503.4 98.5 517.9 98.5 532.4 98.5 546.9 98.5 561.4 98.5 575.9 98.5 590.4 98.5 604.9 98.5 619.4 98.5 633.9 98.5 648.4 98.5 662.9 98.5 677.4 98.5 691.9 98.5 706.4 98.5 720.9 98.5 735.4"/><path d="M100.5 10.5 104.3 39.5 109.8 68.5 118.8 97.5 131.1 126.5 147.8 155.5 169.5 184.5 183.7 199.0 200.6 213.5 221.0 228.0 245.4 242.5 274.7 257.0 309.9 271.5 352.1 286.0 388.8 296.7 388.2 300.5 374.1 315.0 340.5 329.5 290.2 344.0 231.8 358.5 177.0 372.9 135.8 387.4 112.0 401.9 102.0 416.4 99.1 430.9 98.6 445.4 98.5 459.9 98.5 474.4 98.5 488.9 98.5 503.4 98.5 517.9 98.5 532.4 98.5 546.9 98.5 561.4 98.5 575.9 98.5 590.4 98.5 604.9 98.5 619.4 98.5 633.9 98.5 648.4 98.5 662.9 98.5 677.4 98.5 691.9 98.5 706.4 98.5 720.9 98.5 735.4"/><path d="M103.7 10.5 113.1 39.5 126.2 68.5 147.0 97.5 174.4 126.5 210.4 155.5 255.2 184.5 283.9 199.0 317.9 213.5 358.1 228.0 372.3 232.6 365.5 242.5 329.3 257.0 266.3 271.5 194.7 286.0 138.4 300.5 109.1 315.0 100.0 329.5 98.6 344.0 98.5 358.5 98.5 372.9 98.5 387.4 98.5 401.9 98.5 416.4 98.5 430.9 98.5 445.4 98.5 459.9 98.5 474.4 98.5 488.9 98.5 503.4 98.5 517.9 98.5 532.4 98.5 546.9 98.5 561.4 98.5 575.9 98.5 590.4 98.5 604.9 98.5 619.4 98.5 633.9 98.5 648.4 98.5 662.9 98.5 677.4 98.5 691.9 98.5 706.4 98.5 720.9 98.5 735.4"/><path d="M99.2 10.5 100.5 39.5 102.2 68.5 104.9 97.5 108.3 126.5 112.7 155.5 117.9 184.5 121.2 199.0 125.1 213.5 129.7 228.0 135.0 242.5 141.2 257.0 148.5 271.5 157.1 286.0 167.1 300.5 178.9 315.0 192.6 329.5 208.7 344.0 227.5 358.5 249.6 372.9 275.4 387.4 305.7 401.9 324.2 409.8 322.5 416.4 306.5 430.9 273.4 445.4 227.9 459.9 179.6 474.4 139.5 488.9 114.2 503.4 102.7 517.9 99.2 532.4 98.6 546.9 98.5 561.4 98.5 575.9 98.5 590.4 98.5 604.9 98.5 619.4 98.5 633.9 98.5 648.4 98.5 662.9 98.5 677.4 98.5 691.9 98.5 706.4 98.5 720.9 98.5 735.4"/><path d="M109.0 10.5 125.8 39.5 147.0 68.5 177.8 97.5 214.3 126.5 257.7 155.5 306.5 184.5 336.2 199.0 370.2 213.5 373.5 214.8 363.4 228.0 327.7 242.5 270.3 257.0 204.9 271.5 149.5 286.0 115.9 300.5 102.3 315.0 99.0 329.5 98.5 344.0 98.5 358.5 98.5 372.9 98.5 387.4 98.5 401.9 98.5 416.4 98.5 430.9 98.5 445.4 98.5 459.9 98.5 474.4 98.5 488.9 98.5 503.4 98.5 517.9 98.5 532.4 98.5 546.9 98.5 561.4 98.5 575.9 98.5 590.4 98.5 604.9 98.5 619.4 98.5 633.9 98.5 648.4 98.5 662.9 98.5 677.4 98.5 691.9 98.5 706.4 98.5 720.9 98.5 735.4"/><path d="M98.9 10.5 99.6 39.5 100.6 68.5 102.3 97.5 104.6 126.5 107.8 155.5 112.0 184.5 114.8 199.0 118.2 213.5 122.2 228.0 127.1 242.5 132.9 257.0 140.0 271.5 148.5 286.0 158.7 300.5 171.0 315.0 185.9 329.5 203.8 344.0 225.4 358.5 251.4 372.9 282.7 387.4 320.4 401.9 324.7 403.4 317.4 416.4 290.7 430.9 247.0 445.4 195.4 459.9 149.1 474.4 118.2 488.9 103.7 503.4 99.3 517.9 98.6 532.4 98.5 546.9 98.5 561.4 98.5 575.9 98.5 590.4 98.5 604.9 98.5 619.4 98.5 633.9 98.5 648.4 98.5 662.9 98.5 677.4 98.5 691.9 98.5 706.4 98.5 720.9 98.5 735.4"/><path d="M102.8 10.5 111.1 39.5 123.6 68.5 144.5 97.5 174.0 126.5 215.2 155.5 269.9 184.5 306.2 199.0 350.2 213.5 359.5 216.2 353.4 228.0 327.9 242.5 283.9 257.0 228.9 271.5 175.1 286.0 134.1 300.5 110.8 315.0 101.4 329.5 98.9 344.0 98.5 358.5 98.5 372.9 98.5 387.4 98.5 401.9 98.5 416.4 98.5 430.9 98.5 445.4 98.5 459.9 98.5 474.4 98.5 488.9 98.5 503.4 98.5 517.9 98.5 532.4 98.5 546.9 98.5 561.4 98.5 575.9 98.5 590.4 98.5 604.9 98.5 619.4 98.5 633.9 98.5 648.4 98.5 662.9 98.5 677.4 98.5 691.9 98.5 706.4 98.5 720.9 98.5 735.4"/><path d="M99.2 10.5 100.5 39.5 102.6 68.5 106.3 97.5 111.5 126.5 119.0 155.5 129.1 184.5 136.0 199.0 144.4 213.5 154.6 228.0 167.2 242.5 182.5 257.0 201.3 271.5 224.3 286.0 252.4 300.5 286.9 315.0 329.0 329.5 371.5 341.6 371.3 344.0 359.2 358.5 327.9 372.9 280.0 387.4 223.8 401.9 171.1 416.4 132.2 430.9 110.2 445.4 101.3 459.9 98.9 474.4 98.5 488.9 98.5 503.4 98.5 517.9 98.5 532.4 98.5 546.9 98.5 561.4 98.5 575.9 98.5 590.4 98.5 604.9 98.5 619.4 98.5 633.9 98.5 648.4 98.5 662.9 98.5 677.4 98.5 691.9 98.5 706.4 98.5 720.9 98.5 735.4"/><path d="M107.4 10.5 122.0 39.5 140.5 68.5 167.5 97.5 199.8 126.5 238.8 155.5 282.9 184.5 310.0 199.0 341.0 213.5 376.5 228.0 380.5 229.5 370.0 242.5 331.9 257.0 270.8 271.5 202.2 286.0 145.9 300.5 113.5 315.0 101.4 329.5 98.8 344.0 98.5 358.5 98.5 372.9 98.5 387.4 98.5 401.9 98.5 416.4 98.5 430.9 98.5 445.4 98.5 459.9 98.5 474.4 98.5 488.9 98.5 503.4 98.5 517.9 98.5 532.4 98.5 546.9 98.5 561.4 98.5 575.9 98.5 590.4 98.5 604.9 98.5 619.4 98.5 633.9 98.5 648.4 98.5 662.9 98.5 677.4 98.5 691.9 98.5 706.4 98.5 720.9 98.5 735.4"/><path d="M99.5 10.5 101.2 39.5 103.3 68.5 106.5 97.5 110.3 126.5 114.9 155.5 120.1 184.5 123.3 199.0 127.0 213.5 131.3 228.0 136.2 242.5 141.8 257.0 148.2 271.5 155.6 286.0 164.2 300.5 174.0 315.0 185.2 329.5 198.2 344.0 213.0 358.5 230.1 372.9 249.7 387.4 272.3 401.9 298.2 416.4 328.0 430.9 332.2 432.9 324.8 445.4 296.7 459.9 250.3 474.4 195.9 488.9 147.9 503.4 116.9 517.9 103.0 532.4 99.1 546.9 98.5 561.4 98.5 575.9 98.5 590.4 98.5 604.9 98.5 619.4 98.5 633.9 98.5 648.4 98.5 662.9 98.5 677.4 98.5 691.9 98.5 706.4 98.5 720.9 98.5 735.4"/><path d="M98.9 10.5 99.6 39.5 100.6 68.5 102.5 97.5 105.2 126.5 109.0 155.5 114.2 184.5 117.6 199.0 121.9 213.5 127.0 228.0 133.4 242.5 141.1 257.0 150.6 271.5 162.1 286.0 176.2 300.5 193.4 315.0 214.5 329.5 240.2 344.0 271.6 358.5 310.0 372.9 352.8 386.3 352.7 387.4 339.9 401.9 303.8 416.4 249.4 430.9 189.9 445.4 141.3 459.9 112.7 474.4 101.5 488.9 98.8 503.4 98.5 517.9 98.5 532.4 98.5 546.9 98.5 561.4 98.5 575.9 98.5 590.4 98.5 604.9 98.5 619.4 98.5 633.9 98.5 648.4 98.5 662.9 98.5 677.4 98.5 691.9 98.5 706.4 98.5 720.9 98.5 735.4"/><path d="M106.3 10.5 119.6 39.5 137.0 68.5 163.2 97.5 195.6 126.5 235.8 155.5 283.0 184.5 312.3 199.0 346.3 213.5 385.7 228.0 386.4 228.2 376.6 242.5 345.4 257.0 294.9 271.5 234.2 286.0 176.6 300.5 134.0 315.0 110.4 329.5 101.2 344.0 98.9 358.5 98.5 372.9 98.5 387.4 98.5 401.9 98.5 416.4 98.5 430.9 98.5 445.4 98.5 459.9 98.5 474.4 98.5 488.9 98.5 503.4 98.5 517.9 98.5 532.4 98.5 546.9 98.5 561.4 98.5 575.9 98.5 590.4 98.5 604.9 98.5 619.4 98.5 633.9 98.5 648.4 98.5 662.9 98.5 677.4 98.5 691.9 98.5 706.4 98.5 720.9 98.5 735.4"/><path d="M98.9 10.5 99.7 39.5 100.9 68.5 102.8 97.5 105.6 126.5 109.6 155.5 114.8 184.5 118.3 199.0 122.5 213.5 127.6 228.0 133.8 242.5 141.3 257.0 150.5 271.5 161.6 286.0 175.0 300.5 191.4 315.0 211.2 329.5 235.2 344.0 264.3 358.5 299.7 372.9 342.6 387.4 346.7 388.7 338.3 401.9 308.5 416.4 260.1 430.9 203.4 445.4 152.9 459.9 119.5 474.4 104.0 488.9 99.4 503.4 98.6 517.9 98.5 532.4 98.5 546.9 98.5 561.4 98.5 575.9 98.5 590.4 98.5 604.9 98.5 619.4 98.5 633.9 98.5 648.4 98.5 662.9 98.5 677.4 98.5 691.9 98.5 706.4 98.5 720.9 98.5 735.4"/><path d="M98.7 10.5 99.0 39.5 99.5 68.5 100.4 97.5 101.7 126.5 103.5 155.5 106.1 184.5 107.8 199.0 109.9 213.5 112.5 228.0 115.7 242.5 119.6 257.0 124.4 271.5 130.3 286.0 137.5 300.5 146.4 315.0 157.2 329.5 170.6 344.0 187.0 358.5 207.1 372.9 231.7 387.4 262.0 401.9 299.1 416.4 344.7 430.9 350.2 432.5 342.4 445.4 314.0 459.9 267.1 474.4 211.0 488.9 159.4 503.4 123.6 517.9 105.7 532.4 99.8 546.9 98.6 561.4 98.5 575.9 98.5 590.4 98.5 604.9 98.5 619.4 98.5 633.9 98.5 648.4 98.5 662.9 98.5 677.4 98.5 691.9 98.5 706.4 98.5 720.9 98.5 735.4"/><path d="M102.5 10.5 109.3 39.5 118.4 68.5 132.2 97.5 149.6 126.5 171.5 155.5 197.6 184.5 213.9 199.0 233.0 213.5 255.2 228.0 281.0 242.5 311.1 257.0 346.2 271.5 375.4 282.0 374.5 286.0 354.8 300.5 308.9 315.0 245.1 329.5 180.5 344.0 132.7 358.5 108.1 372.9 100.1 387.4 98.6 401.9 98.5 416.4 98.5 430.9 98.5 445.4 98.5 459.9 98.5 474.4 98.5 488.9 98.5 503.4 98.5 517.9 98.5 532.4 98.5 546.9 98.5 561.4 98.5 575.9 98.5 590.4 98.5 604.9 98.5 619.4 98.5 633.9 98.5 648.4 98.5 662.9 98.5 677.4 98.5 691.9 98.5 706.4 98.5 720.9 98.5 735.4"/><path d="M103.6 10.5 112.5 39.5 124.5 68.5 143.1 97.5 166.7 126.5 196.9 155.5 233.3 184.5 256.3 199.0 283.2 213.5 314.7 228.0 351.6 242.5 388.9 255.1 388.8 257.0 377.6 271.5 347.3 286.0 300.0 300.5 243.0 315.0 187.2 329.5 143.3 344.0 116.1 358.5 103.5 372.9 99.5 387.4 98.6 401.9 98.5 416.4 98.5 430.9 98.5 445.4 98.5 459.9 98.5 474.4 98.5 488.9 98.5 503.4 98.5 517.9 98.5 532.4 98.5 546.9 98.5 561.4 98.5 575.9 98.5 590.4 98.5 604.9 98.5 619.4 98.5 633.9 98.5 648.4 98.5 662.9 98.5 677.4 98.5 691.9 98.5 706.4 98.5 720.9 98.5 735.4"/><path d="M103.8 10.5 112.9 39.5 125.2 68.5 143.8 97.5 167.3 126.5 197.0 155.5 232.4 184.5 254.6 199.0 280.5 213.5 310.7 228.0 345.9 242.5 348.4 243.4 336.2 257.0 295.0 271.5 232.2 286.0 168.1 300.5 123.6 315.0 103.9 329.5 99.1 344.0 98.5 358.5 98.5 372.9 98.5 387.4 98.5 401.9 98.5 416.4 98.5 430.9 98.5 445.4 98.5 459.9 98.5 474.4 98.5 488.9 98.5 503.4 98.5 517.9 98.5 532.4 98.5 546.9 98.5 561.4 98.5 575.9 98.5 590.4 98.5 604.9 98.5 619.4 98.5 633.9 98.5 648.4 98.5 662.9 98.5 677.4 98.5 691.9 98.5 706.4 98.5 720.9 98.5 735.4"/><path d="M103.2 10.5 110.9 39.5 120.8 68.5 135.5 97.5 153.4 126.5 175.2 155.5 200.3 184.5 215.8 199.0 233.6 213.5 254.1 228.0 277.8 242.5 305.1 257.0 336.5 271.5 362.9 282.2 361.9 286.0 338.3 300.5 283.9 315.0 212.7 329.5 149.9 344.0 113.5 358.5 100.9 372.9 98.7 387.4 98.5 401.9 98.5 416.4 98.5 430.9 98.5 445.4 98.5 459.9 98.5 474.4 98.5 488.9 98.5 503.4 98.5 517.9 98.5 532.4 98.5 546.9 98.5 561.4 98.5 575.9 98.5 590.4 98.5 604.9 98.5 619.4 98.5 633.9 98.5 648.4 98.5 662.9 98.5 677.4 98.5 691.9 98.5 706.4 98.5 720.9 98.5 735.4"/><path d="M101.2 10.5 106.7 39.5 115.5 68.5 131.2 97.5 154.6 126.5 189.0 155.5 237.5 184.5 270.6 199.0 311.7 213.5 347.8 224.1 346.8 228.0 323.4 242.5 270.2 257.0 201.8 271.5 143.0 286.0 110.6 300.5 100.2 315.0 98.6 329.5 98.5 344.0 98.5 358.5 98.5 372.9 98.5 387.4 98.5 401.9 98.5 416.4 98.5 430.9 98.5 445.4 98.5 459.9 98.5 474.4 98.5 488.9 98.5 503.4 98.5 517.9 98.5 532.4 98.5 546.9 98.5 561.4 98.5 575.9 98.5 590.4 98.5 604.9 98.5 619.4 98.5 633.9 98.5 648.4 98.5 662.9 98.5 677.4 98.5 691.9 98.5 706.4 98.5 720.9 98.5 735.4"/><path d="M99.8 10.5 102.0 39.5 104.8 68.5 108.9 97.5 114.0 126.5 120.2 155.5 127.3 184.5 131.8 199.0 136.9 213.5 142.7 228.0 149.5 242.5 157.4 257.0 166.4 271.5 176.8 286.0 188.8 300.5 202.7 315.0 218.7 329.5 237.1 344.0 258.4 358.5 282.9 372.9 311.2 387.4 343.8 401.9 353.1 405.7 348.7 416.4 327.8 430.9 290.4 445.4 241.3 459.9 190.1 474.4 147.1 488.9 118.7 503.4 104.7 517.9 99.8 532.4 98.7 546.9 98.5 561.4 98.5 575.9 98.5 590.4 98.5 604.9 98.5 619.4 98.5 633.9 98.5 648.4 98.5 662.9 98.5 677.4 98.5 691.9 98.5 706.4 98.5 720.9 98.5 735.4"/><path d="M99.9 10.5 102.2 39.5 105.2 68.5 109.7 97.5 115.2 126.5 122.0 155.5 129.9 184.5 134.8 199.0 140.5 213.5 147.0 228.0 154.6 242.5 163.4 257.0 173.5 271.5 185.2 286.0 198.8 300.5 214.4 315.0 232.6 329.5 253.5 344.0 277.8 358.5 305.8 372.9 338.2 387.4 343.9 389.8 337.9 401.9 313.5 416.4 271.9 430.9 220.1 445.4 169.7 459.9 131.5 474.4 109.8 488.9 101.1 503.4 98.9 517.9 98.5 532.4 98.5 546.9 98.5 561.4 98.5 575.9 98.5 590.4 98.5 604.9 98.5 619.4 98.5 633.9 98.5 648.4 98.5 662.9 98.5 677.4 98.5 691.9 98.5 706.4 98.5 720.9 98.5 735.4"/><path d="M100.3 10.5 103.4 39.5 107.4 68.5 113.5 97.5 121.1 126.5 130.6 155.5 141.9 184.5 148.9 199.0 157.0 213.5 166.4 228.0 177.4 242.5 190.1 257.0 204.9 271.5 222.0 286.0 242.0 300.5 265.1 315.0 292.0 329.5 323.2 344.0 359.5 358.5 390.4 369.3 389.8 372.9 373.4 387.4 334.3 401.9 277.2 416.4 213.7 430.9 158.7 445.4 122.5 459.9 105.2 474.4 99.7 488.9 98.6 503.4 98.5 517.9 98.5 532.4 98.5 546.9 98.5 561.4 98.5 575.9 98.5 590.4 98.5 604.9 98.5 619.4 98.5 633.9 98.5 648.4 98.5 662.9 98.5 677.4 98.5 691.9 98.5 706.4 98.5 720.9 98.5 735.4"/><path d="M100.3 10.5 103.3 39.5 107.3 68.5 113.2 97.5 120.6 126.5 129.7 155.5 140.4 184.5 147.1 199.0 154.8 213.5 163.8 228.0 174.2 242.5 186.2 257.0 200.2 271.5 216.4 286.0 235.1 300.5 256.9 315.0 282.0 329.5 311.2 344.0 345.1 358.5 364.1 365.7 361.5 372.9 339.1 387.4 294.5 401.9 235.5 416.4 176.8 430.9 132.8 445.4 109.1 459.9 100.6 474.4 98.7 488.9 98.5 503.4 98.5 517.9 98.5 532.4 98.5 546.9 98.5 561.4 98.5 575.9 98.5 590.4 98.5 604.9 98.5 619.4 98.5 633.9 98.5 648.4 98.5 662.9 98.5 677.4 98.5 691.9 98.5 706.4 98.5 720.9 98.5 735.4"/><path d="M98.5 10.5 98.5 39.5 98.6 68.5 98.6 97.5 98.8 126.5 99.0 155.5 99.3 184.5 99.6 199.0 100.0 213.5 100.4 228.0 101.1 242.5 101.9 257.0 103.0 271.5 104.5 286.0 106.5 300.5 109.1 315.0 112.5 329.5 117.0 344.0 122.9 358.5 130.5 372.9 140.4 387.4 153.0 401.9 168.8 416.4 188.3 430.9 211.6 445.4 238.5 459.9 267.7 474.4 296.7 488.9 321.0 503.4 334.6 517.9 331.1 532.4 305.7 546.9 259.9 561.4 203.7 575.9 152.5 590.4 118.7 604.9 103.5 619.4 99.2 633.9 98.5 648.4 98.5 662.9 98.5 677.4 98.5 691.9 98.5 706.4 98.5 720.9 98.5 735.4"/><path d="M98.5 10.5 98.6 39.5 98.8 68.5 99.1 97.5 99.6 126.5 100.5 155.5 101.7 184.5 102.6 199.0 103.8 213.5 105.2 228.0 107.1 242.5 109.4 257.0 112.5 271.5 116.3 286.0 121.1 300.5 127.1 315.0 134.6 329.5 144.0 344.0 155.5 358.5 169.4 372.9 186.1 387.4 205.6 401.9 227.7 416.4 251.8 430.9 276.6 445.4 299.7 459.9 318.1 474.4 327.5 488.9 321.6 503.4 291.1 517.9 239.2 532.4 180.4 546.9 133.4 561.4 108.3 575.9 100.0 590.4 98.6 604.9 98.5 619.4 98.5 633.9 98.5 648.4 98.5 662.9 98.5 677.4 98.5 691.9 98.5 706.4 98.5 720.9 98.5 735.4"/><path d="M98.5 10.5 98.6 39.5 98.7 68.5 98.8 97.5 99.1 126.5 99.6 155.5 100.3 184.5 100.8 199.0 101.4 213.5 102.2 228.0 103.2 242.5 104.5 257.0 106.2 271.5 108.3 286.0 111.0 300.5 114.5 315.0 118.8 329.5 124.2 344.0 131.1 358.5 139.6 372.9 150.1 387.4 162.9 401.9 178.4 416.4 196.8 430.9 218.0 445.4 241.6 459.9 266.7 474.4 291.6 488.9 313.4 503.4 328.5 517.9 332.4 532.4 314.2 546.9 269.7 561.4 209.1 575.9 152.2 590.4 116.2 604.9 101.9 619.4 98.8 633.9 98.5 648.4 98.5 662.9 98.5 677.4 98.5 691.9 98.5 706.4 98.5 720.9 98.5 735.4"/><path d="M98.5 10.5 98.6 39.5 98.8 68.5 99.0 97.5 99.5 126.5 100.3 155.5 101.6 184.5 102.6 199.0 103.8 213.5 105.4 228.0 107.5 242.5 110.2 257.0 113.7 271.5 118.2 286.0 123.9 300.5 131.3 315.0 140.6 329.5 152.3 344.0 166.9 358.5 184.6 372.9 205.8 387.4 230.2 401.9 257.3 416.4 285.3 430.9 311.4 445.4 331.3 459.9 339.6 474.4 321.9 488.9 265.5 503.4 189.6 517.9 129.8 532.4 103.9 546.9 98.9 561.4 98.5 575.9 98.5 590.4 98.5 604.9 98.5 619.4 98.5 633.9 98.5 648.4 98.5 662.9 98.5 677.4 98.5 691.9 98.5 706.4 98.5 720.9 98.5 735.4"/><path d="M98.5 10.5 98.6 39.5 98.7 68.5 99.0 97.5 99.3 126.5 99.9 155.5 100.8 184.5 101.4 199.0 102.2 213.5 103.2 228.0 104.4 242.5 106.0 257.0 108.1 271.5 110.7 286.0 113.9 300.5 118.0 315.0 123.2 329.5 129.6 344.0 137.6 358.5 147.4 372.9 159.5 387.4 174.1 401.9 191.4 416.4 211.6 430.9 234.5 445.4 259.5 459.9 285.3 474.4 309.6 488.9 329.5 503.4 340.9 517.9 338.2 532.4 311.4 546.9 261.3 561.4 200.2 575.9 146.8 590.4 114.3 604.9 101.6 619.4 98.8 633.9 98.5 648.4 98.5 662.9 98.5 677.4 98.5 691.9 98.5 706.4 98.5 720.9 98.5 735.4"/><path d="M98.5 10.5 98.5 39.5 98.6 68.5 98.7 97.5 98.9 126.5 99.3 155.5 99.8 184.5 100.2 199.0 100.8 213.5 101.6 228.0 102.5 242.5 103.8 257.0 105.5 271.5 107.8 286.0 110.7 300.5 114.6 315.0 119.6 329.5 126.1 344.0 134.5 358.5 145.3 372.9 158.9 387.4 175.7 401.9 196.2 416.4 220.2 430.9 247.3 445.4 275.9 459.9 302.8 474.4 323.4 488.9 331.9 503.4 319.5 517.9 280.7 532.4 222.6 546.9 163.7 561.4 122.4 575.9 103.9 590.4 99.1 604.9 98.5 619.4 98.5 633.9 98.5 648.4 98.5 662.9 98.5 677.4 98.5 691.9 98.5 706.4 98.5 720.9 98.5 735.4"/><path d="M98.5 10.5 98.6 39.5 98.7 68.5 98.9 97.5 99.2 126.5 99.7 155.5 100.5 184.5 101.1 199.0 101.8 213.5 102.7 228.0 103.9 242.5 105.4 257.0 107.3 271.5 109.8 286.0 112.8 300.5 116.7 315.0 121.7 329.5 127.8 344.0 135.5 358.5 145.1 372.9 156.8 387.4 171.0 401.9 188.1 416.4 208.0 430.9 230.6 445.4 255.4 459.9 280.9 474.4 305.0 488.9 324.4 503.4 335.0 517.9 331.2 532.4 304.9 546.9 257.5 561.4 199.9 575.9 148.7 590.4 116.2 604.9 102.4 619.4 99.0 633.9 98.5 648.4 98.5 662.9 98.5 677.4 98.5 691.9 98.5 706.4 98.5 720.9 98.5 735.4"/><path d="M98.5 10.5 98.5 39.5 98.6 68.5 98.7 97.5 98.9 126.5 99.2 155.5 99.7 184.5 100.1 199.0 100.6 213.5 101.2 228.0 102.1 242.5 103.2 257.0 104.7 271.5 106.5 286.0 109.0 300.5 112.2 315.0 116.3 329.5 121.6 344.0 128.4 358.5 137.0 372.9 147.9 387.4 161.4 401.9 177.9 416.4 197.7 430.9 220.5 445.4 245.7 459.9 271.5 474.4 295.2 488.9 312.5 503.4 318.2 517.9 305.9 532.4 272.6 546.9 223.3 561.4 171.0 575.9 130.3 590.4 108.1 604.9 100.2 619.4 98.7 633.9 98.5 648.4 98.5 662.9 98.5 677.4 98.5 691.9 98.5 706.4 98.5 720.9 98.5 735.4"/><path d="M98.5 10.5 98.6 39.5 98.7 68.5 98.9 97.5 99.2 126.5 99.8 155.5 100.7 184.5 101.4 199.0 102.2 213.5 103.4 228.0 104.8 242.5 106.7 257.0 109.1 271.5 112.1 286.0 116.1 300.5 121.2 315.0 127.7 329.5 135.9 344.0 146.2 358.5 159.1 372.9 174.9 387.4 193.9 401.9 216.2 416.4 241.5 430.9 268.8 445.4 296.1 459.9 320.0 474.4 336.2 488.9 338.8 503.4 313.8 517.9 258.9 532.4 190.6 546.9 135.1 561.4 107.2 575.9 99.5 590.4 98.5 604.9 98.5 619.4 98.5 633.9 98.5 648.4 98.5 662.9 98.5 677.4 98.5 691.9 98.5 706.4 98.5 720.9 98.5 735.4"/><path d="M98.5 10.5 98.6 39.5 98.7 68.5 98.8 97.5 99.2 126.5 99.8 155.5 100.7 184.5 101.4 199.0 102.4 213.5 103.6 228.0 105.2 242.5 107.4 257.0 110.2 271.5 114.0 286.0 118.8 300.5 125.1 315.0 133.3 329.5 143.7 344.0 156.8 358.5 173.1 372.9 193.0 387.4 216.2 401.9 242.4 416.4 269.7 430.9 295.1 445.4 314.1 459.9 320.7 474.4 307.4 488.9 270.6 503.4 216.9 517.9 162.3 532.4 123.2 546.9 104.6 561.4 99.3 575.9 98.5 590.4 98.5 604.9 98.5 619.4 98.5 633.9 98.5 648.4 98.5 662.9 98.5 677.4 98.5 691.9 98.5 706.4 98.5 720.9 98.5 735.4"/><path d="M98.5 10.5 98.6 39.5 98.8 68.5 99.1 97.5 99.6 126.5 100.3 155.5 101.5 184.5 102.4 199.0 103.5 213.5 104.9 228.0 106.7 242.5 109.0 257.0 112.0 271.5 115.8 286.0 120.5 300.5 126.5 315.0 134.1 329.5 143.5 344.0 155.1 358.5 169.3 372.9 186.3 387.4 206.2 401.9 228.9 416.4 253.7 430.9 279.0 445.4 302.6 459.9 320.8 474.4 329.4 488.9 319.8 503.4 281.2 517.9 221.0 532.4 159.9 546.9 119.0 561.4 102.4 575.9 98.8 590.4 98.5 604.9 98.5 619.4 98.5 633.9 98.5 648.4 98.5 662.9 98.5 677.4 98.5 691.9 98.5 706.4 98.5 720.9 98.5 735.4"/><path d="M98.6 10.5 98.7 39.5 99.0 68.5 99.6 97.5 100.4 126.5 101.6 155.5 103.5 184.5 104.8 199.0 106.4 213.5 108.4 228.0 111.0 242.5 114.2 257.0 118.2 271.5 123.2 286.0 129.4 300.5 137.0 315.0 146.3 329.5 157.6 344.0 171.3 358.5 187.5 372.9 206.3 387.4 227.8 401.9 251.5 416.4 276.4 430.9 301.1 445.4 322.9 459.9 338.7 474.4 344.7 488.9 332.6 503.4 295.7 517.9 239.6 532.4 179.5 546.9 133.0 561.4 108.4 575.9 100.1 590.4 98.6 604.9 98.5 619.4 98.5 633.9 98.5 648.4 98.5 662.9 98.5 677.4 98.5 691.9 98.5 706.4 98.5 720.9 98.5 735.4"/><path d="M98.5 10.5 98.6 39.5 98.7 68.5 98.9 97.5 99.3 126.5 99.8 155.5 100.7 184.5 101.4 199.0 102.3 213.5 103.4 228.0 104.8 242.5 106.7 257.0 109.1 271.5 112.2 286.0 116.1 300.5 121.2 315.0 127.6 329.5 135.8 344.0 146.0 358.5 158.8 372.9 174.5 387.4 193.5 401.9 215.8 416.4 241.2 430.9 268.9 445.4 297.0 459.9 322.4 474.4 340.6 488.9 346.5 503.4 331.5 517.9 291.2 532.4 232.7 546.9 172.6 561.4 128.4 575.9 106.4 590.4 99.7 604.9 98.6 619.4 98.5 633.9 98.5 648.4 98.5 662.9 98.5 677.4 98.5 691.9 98.5 706.4 98.5 720.9 98.5 735.4"/><path d="M98.5 10.5 98.6 39.5 98.8 68.5 99.0 97.5 99.5 126.5 100.3 155.5 101.6 184.5 102.6 199.0 103.8 213.5 105.4 228.0 107.5 242.5 110.2 257.0 113.6 271.5 118.1 286.0 123.8 300.5 131.0 315.0 140.3 329.5 151.8 344.0 166.1 358.5 183.6 372.9 204.5 387.4 228.6 401.9 255.3 416.4 283.0 430.9 308.9 445.4 328.9 459.9 337.8 474.4 329.4 488.9 299.4 503.4 250.7 517.9 194.5 532.4 146.0 546.9 115.5 561.4 102.5 575.9 99.0 590.4 98.5 604.9 98.5 619.4 98.5 633.9 98.5 648.4 98.5 662.9 98.5 677.4 98.5 691.9 98.5 706.4 98.5 720.9 98.5 735.4"/><path d="M98.5 10.5 98.6 39.5 98.8 68.5 99.2 97.5 99.7 126.5 100.6 155.5 102.0 184.5 102.9 199.0 104.2 213.5 105.7 228.0 107.7 242.5 110.3 257.0 113.5 271.5 117.6 286.0 122.7 300.5 129.2 315.0 137.2 329.5 147.3 344.0 159.6 358.5 174.5 372.9 192.4 387.4 213.2 401.9 237.0 416.4 262.8 430.9 289.5 445.4 314.5 459.9 334.4 474.4 344.9 488.9 339.1 503.4 306.0 517.9 249.0 532.4 184.6 546.9 134.1 561.4 107.9 575.9 99.8 590.4 98.6 604.9 98.5 619.4 98.5 633.9 98.5 648.4 98.5 662.9 98.5 677.4 98.5 691.9 98.5 706.4 98.5 720.9 98.5 735.4"/><path d="M98.5 10.5 98.6 39.5 98.8 68.5 99.1 97.5 99.7 126.5 100.6 155.5 102.0 184.5 103.1 199.0 104.5 213.5 106.2 228.0 108.5 242.5 111.5 257.0 115.4 271.5 120.3 286.0 126.6 300.5 134.6 315.0 144.7 329.5 157.3 344.0 172.7 358.5 191.4 372.9 213.3 387.4 238.2 401.9 265.0 416.4 291.6 430.9 314.8 445.4 329.8 459.9 331.6 474.4 316.6 488.9 284.1 503.4 238.2 517.9 188.2 532.4 145.4 546.9 117.3 561.4 103.8 575.9 99.5 590.4 98.6 604.9 98.5 619.4 98.5 633.9 98.5 648.4 98.5 662.9 98.5 677.4 98.5 691.9 98.5 706.4 98.5 720.9 98.5 735.4"/><path d="M98.5 10.5 98.5 39.5 98.6 68.5 98.8 97.5 99.0 126.5 99.5 155.5 100.3 184.5 100.9 199.0 101.7 213.5 102.8 228.0 104.2 242.5 106.2 257.0 108.7 271.5 112.2 286.0 116.7 300.5 122.7 315.0 130.6 329.5 140.8 344.0 153.9 358.5 170.4 372.9 190.7 387.4 214.8 401.9 242.1 416.4 270.7 430.9 297.1 445.4 315.9 459.9 320.5 474.4 307.5 488.9 276.6 503.4 231.6 517.9 182.4 532.4 140.8 546.9 114.4 561.4 102.6 575.9 99.1 590.4 98.6 604.9 98.5 619.4 98.5 633.9 98.5 648.4 98.5 662.9 98.5 677.4 98.5 691.9 98.5 706.4 98.5 720.9 98.5 735.4"/><path d="M98.5 10.5 98.6 39.5 98.7 68.5 98.9 97.5 99.3 126.5 99.9 155.5 100.9 184.5 101.7 199.0 102.7 213.5 104.0 228.0 105.7 242.5 108.0 257.0 111.0 271.5 114.9 286.0 119.9 300.5 126.5 315.0 134.8 329.5 145.5 344.0 158.9 358.5 175.5 372.9 195.6 387.4 219.2 401.9 245.7 416.4 273.4 430.9 299.6 445.4 319.7 459.9 328.0 474.4 318.1 488.9 286.0 503.4 236.1 517.9 180.9 532.4 136.1 546.9 110.4 561.4 100.8 575.9 98.7 590.4 98.5 604.9 98.5 619.4 98.5 633.9 98.5 648.4 98.5 662.9 98.5 677.4 98.5 691.9 98.5 706.4 98.5 720.9 98.5 735.4"/><path d="M98.5 10.5 98.5 39.5 98.5 68.5 98.5 97.5 98.5 126.5 98.5 155.5 98.5 184.5 98.5 199.0 98.6 213.5 98.6 228.0 98.6 242.5 98.7 257.0 98.8 271.5 98.9 286.0 99.1 300.5 99.3 315.0 99.7 329.5 100.2 344.0 101.0 358.5 102.2 372.9 103.8 387.4 106.1 401.9 109.5 416.4 114.4 430.9 121.3 445.4 131.2 459.9 145.1 474.4 164.4 488.9 190.8 503.4 225.9 517.9 270.5 532.4 323.4 546.9 379.6 561.4 427.2 575.9 447.9 590.4 417.8 604.9 328.8 619.4 215.4 633.9 133.7 648.4 103.4 662.9 98.7 677.4 98.5 691.9 98.5 706.4 98.5 720.9 98.5 735.4"/><path d="M98.5 10.5 98.5 39.5 98.5 68.5 98.5 97.5 98.5 126.5 98.5 155.5 98.5 184.5 98.5 199.0 98.5 213.5 98.6 228.0 98.6 242.5 98.6 257.0 98.7 271.5 98.8 286.0 98.9 300.5 99.1 315.0 99.3 329.5 99.7 344.0 100.2 358.5 101.0 372.9 102.1 387.4 103.7 401.9 106.0 416.4 109.3 430.9 114.1 445.4 120.9 459.9 130.6 474.4 144.2 488.9 163.2 503.4 189.2 517.9 223.6 532.4 267.3 546.9 319.3 561.4 374.4 575.9 421.2 590.4 441.5 604.9 348.0 619.4 162.2 633.9 100.5 648.4 98.5 662.9 98.5 677.4 98.5 691.9 98.5 706.4 98.5 720.9 98.5 735.4"/><path d="M98.5 10.5 98.6 39.5 98.7 68.5 98.8 97.5 99.1 126.5 99.4 155.5 99.9 184.5 100.2 199.0 100.6 213.5 101.1 228.0 101.8 242.5 102.5 257.0 103.5 271.5 104.6 286.0 106.0 300.5 107.8 315.0 109.9 329.5 112.5 344.0 115.7 358.5 119.6 372.9 124.3 387.4 130.1 401.9 137.0 416.4 145.3 430.9 155.2 445.4 166.9 459.9 180.5 474.4 196.1 488.9 213.8 503.4 233.2 517.9 253.9 532.4 274.9 546.9 294.9 561.4 312.0 575.9 323.6 590.4 326.6 604.9 250.5 619.4 130.7 633.9 99.2 648.4 98.5 662.9 98.5 677.4 98.5 691.9 98.5 706.4 98.5 720.9 98.5 735.4"/><path d="M98.5 10.5 98.5 39.5 98.6 68.5 98.7 97.5 98.8 126.5 99.0 155.5 99.3 184.5 99.5 199.0 99.8 213.5 100.1 228.0 100.6 242.5 101.1 257.0 101.8 271.5 102.7 286.0 103.8 300.5 105.3 315.0 107.1 329.5 109.4 344.0 112.3 358.5 115.9 372.9 120.5 387.4 126.3 401.9 133.5 416.4 142.5 430.9 153.6 445.4 167.3 459.9 183.9 474.4 204.0 488.9 227.7 503.4 255.3 517.9 286.3 532.4 319.9 546.9 354.3 561.4 386.6 575.9 412.4 590.4 426.7 604.9 381.1 619.4 179.8 633.9 100.4 648.4 98.5 662.9 98.5 677.4 98.5 691.9 98.5 706.4 98.5 720.9 98.5 735.4"/><path d="M98.5 10.5 98.5 39.5 98.5 68.5 98.6 97.5 98.6 126.5 98.7 155.5 98.8 184.5 98.9 199.0 99.0 213.5 99.2 228.0 99.4 242.5 99.7 257.0 100.1 271.5 100.6 286.0 101.3 300.5 102.1 315.0 103.3 329.5 104.8 344.0 106.8 358.5 109.3 372.9 112.7 387.4 117.1 401.9 122.9 416.4 130.3 430.9 139.9 445.4 152.2 459.9 167.8 474.4 187.5 488.9 211.8 503.4 241.1 517.9 275.6 532.4 314.4 546.9 355.4 561.4 394.4 575.9 425.3 590.4 439.9 604.9 409.9 619.4 302.7 633.9 177.4 648.4 111.6 662.9 99.1 677.4 98.5 691.9 98.5 706.4 98.5 720.9 98.5 735.4"/><path d="M98.5 10.5 98.5 39.5 98.6 68.5 98.7 97.5 98.8 126.5 99.0 155.5 99.3 184.5 99.5 199.0 99.8 213.5 100.1 228.0 100.5 242.5 101.1 257.0 101.7 271.5 102.6 286.0 103.7 300.5 105.1 315.0 106.9 329.5 109.1 344.0 111.9 358.5 115.5 372.9 119.9 387.4 125.5 401.9 132.5 416.4 141.1 430.9 151.9 445.4 165.0 459.9 181.0 474.4 200.1 488.9 222.7 503.4 248.8 517.9 278.0 532.4 309.3 546.9 341.0 561.4 370.1 575.9 392.6 590.4 403.6 604.9 387.3 619.4 317.8 633.9 218.0 648.4 138.2 662.9 104.8 677.4 98.8 691.9 98.5 706.4 98.5 720.9 98.5 735.4"/><path d="M98.5 10.5 98.5 39.5 98.6 68.5 98.7 97.5 98.8 126.5 99.0 155.5 99.4 184.5 99.6 199.0 99.9 213.5 100.2 228.0 100.7 242.5 101.2 257.0 101.9 271.5 102.8 286.0 103.9 300.5 105.3 315.0 107.0 329.5 109.2 344.0 111.9 358.5 115.3 372.9 119.6 387.4 124.8 401.9 131.3 416.4 139.3 430.9 149.1 445.4 160.9 459.9 175.0 474.4 191.7 488.9 211.0 503.4 232.9 517.9 256.7 532.4 281.6 546.9 305.8 561.4 326.6 575.9 341.0 590.4 344.8 604.9 319.8 619.4 258.8 633.9 183.4 648.4 127.0 662.9 103.5 677.4 98.8 691.9 98.5 706.4 98.5 720.9 98.5 735.4"/><path d="M98.5 10.5 98.5 39.5 98.6 68.5 98.6 97.5 98.7 126.5 98.9 155.5 99.1 184.5 99.3 199.0 99.5 213.5 99.8 228.0 100.2 242.5 100.6 257.0 101.2 271.5 102.0 286.0 102.9 300.5 104.2 315.0 105.8 329.5 107.8 344.0 110.4 358.5 113.7 372.9 117.9 387.4 123.2 401.9 129.9 416.4 138.3 430.9 148.8 445.4 161.8 459.9 177.9 474.4 197.3 488.9 220.5 503.4 247.5 517.9 278.1 532.4 311.1 546.9 344.7 561.4 375.6 575.9 399.0 590.4 409.4 604.9 393.3 619.4 336.1 633.9 250.5 648.4 168.8 662.9 119.0 677.4 101.6 691.9 98.7 706.4 98.5 720.9 98.5 735.4"/><path d="M98.5 10.5 98.5 39.5 98.5 68.5 98.6 97.5 98.6 126.5 98.7 155.5 98.8 184.5 99.0 199.0 99.1 213.5 99.3 228.0 99.5 242.5 99.9 257.0 100.3 271.5 100.8 286.0 101.6 300.5 102.5 315.0 103.7 329.5 105.4 344.0 107.5 358.5 110.3 372.9 113.8 387.4 118.5 401.9 124.5 416.4 132.3 430.9 142.3 445.4 154.9 459.9 170.8 474.4 190.4 488.9 214.3 503.4 242.6 517.9 274.8 532.4 309.5 546.9 344.0 561.4 373.6 575.9 391.9 590.4 381.5 604.9 274.4 619.4 145.4 633.9 101.2 648.4 98.5 662.9 98.5 677.4 98.5 691.9 98.5 706.4 98.5 720.9 98.5 735.4"/><path d="M98.5 10.5 98.6 39.5 98.8 68.5 99.0 97.5 99.3 126.5 99.7 155.5 100.3 184.5 100.8 199.0 101.2 213.5 101.8 228.0 102.5 242.5 103.4 257.0 104.5 271.5 105.8 286.0 107.3 300.5 109.2 315.0 111.5 329.5 114.2 344.0 117.5 358.5 121.5 372.9 126.2 387.4 131.9 401.9 138.6 416.4 146.5 430.9 155.8 445.4 166.6 459.9 179.0 474.4 193.0 488.9 208.7 503.4 225.7 517.9 243.6 532.4 261.8 546.9 279.1 561.4 294.1 575.9 305.1 590.4 310.0 604.9 299.7 619.4 259.8 633.9 199.5 648.4 142.9 662.9 110.3 677.4 100.0 691.9 98.6 706.4 98.5 720.9 98.5 735.4"/><path d="M98.5 10.5 98.5 39.5 98.5 68.5 98.6 97.5 98.7 126.5 98.8 155.5 99.0 184.5 99.2 199.0 99.4 213.5 99.6 228.0 99.9 242.5 100.3 257.0 100.8 271.5 101.5 286.0 102.4 300.5 103.4 315.0 104.9 329.5 106.7 344.0 109.0 358.5 111.9 372.9 115.6 387.4 120.4 401.9 126.4 416.4 134.0 430.9 143.5 445.4 155.3 459.9 169.7 474.4 187.2 488.9 208.0 503.4 232.0 517.9 258.8 532.4 287.3 546.9 315.2 561.4 339.3 575.9 354.9 590.4 354.4 604.9 297.5 619.4 196.4 633.9 121.4 648.4 100.1 662.9 98.5 677.4 98.5 691.9 98.5 706.4 98.5 720.9 98.5 735.4"/><path d="M98.5 10.5 98.5 39.5 98.5 68.5 98.6 97.5 98.7 126.5 98.8 155.5 99.0 184.5 99.1 199.0 99.3 213.5 99.5 228.0 99.8 242.5 100.2 257.0 100.7 271.5 101.3 286.0 102.1 300.5 103.2 315.0 104.5 329.5 106.2 344.0 108.5 358.5 111.3 372.9 115.0 387.4 119.6 401.9 125.6 416.4 133.1 430.9 142.6 445.4 154.4 459.9 169.2 474.4 187.3 488.9 209.1 503.4 234.9 517.9 264.5 532.4 297.1 546.9 331.0 561.4 362.9 575.9 388.5 590.4 401.7 604.9 355.0 619.4 185.2 633.9 102.8 648.4 98.5 662.9 98.5 677.4 98.5 691.9 98.5 706.4 98.5 720.9 98.5 735.4"/><path d="M98.5 10.5 98.5 39.5 98.5 68.5 98.6 97.5 98.6 126.5 98.7 155.5 98.9 184.5 99.0 199.0 99.2 213.5 99.4 228.0 99.7 242.5 100.1 257.0 100.5 271.5 101.2 286.0 102.1 300.5 103.2 315.0 104.7 329.5 106.6 344.0 109.2 358.5 112.6 372.9 117.0 387.4 122.8 401.9 130.3 416.4 140.0 430.9 152.5 445.4 168.4 459.9 188.4 474.4 213.2 488.9 243.2 503.4 278.4 517.9 317.9 532.4 359.4 546.9 398.5 561.4 428.6 575.9 441.1 590.4 411.8 604.9 322.0 619.4 208.2 633.9 129.2 648.4 102.2 662.9 98.6 677.4 98.5 691.9 98.5 706.4 98.5 720.9 98.5 735.4"/><path d="M98.5 10.5 98.6 39.5 98.6 68.5 98.8 97.5 98.9 126.5 99.2 155.5 99.6 184.5 99.9 199.0 100.3 213.5 100.7 228.0 101.3 242.5 102.0 257.0 102.8 271.5 103.9 286.0 105.3 300.5 106.9 315.0 109.0 329.5 111.6 344.0 114.8 358.5 118.8 372.9 123.7 387.4 129.7 401.9 137.1 416.4 146.2 430.9 157.2 445.4 170.4 459.9 186.2 474.4 204.7 488.9 226.3 503.4 250.7 517.9 277.5 532.4 306.0 546.9 334.5 561.4 360.6 575.9 381.1 590.4 392.2 604.9 385.7 619.4 343.3 633.9 269.7 648.4 189.2 662.9 131.1 677.4 105.3 691.9 99.2 706.4 98.5 720.9 98.5 735.4"/><path d="M98.5 10.5 98.5 39.5 98.6 68.5 98.7 97.5 98.8 126.5 99.1 155.5 99.4 184.5 99.6 199.0 99.9 213.5 100.3 228.0 100.7 242.5 101.3 257.0 102.1 271.5 103.0 286.0 104.1 300.5 105.6 315.0 107.4 329.5 109.7 344.0 112.6 358.5 116.1 372.9 120.6 387.4 126.1 401.9 133.0 416.4 141.4 430.9 151.6 445.4 164.0 459.9 178.8 474.4 196.3 488.9 216.5 503.4 239.1 517.9 263.7 532.4 288.9 546.9 312.9 561.4 332.9 575.9 345.4 590.4 340.5 604.9 258.9 619.4 147.3 633.9 102.2 648.4 98.5 662.9 98.5 677.4 98.5 691.9 98.5 706.4 98.5 720.9 98.5 735.4"/><path d="M98.5 10.5 98.5 39.5 98.5 68.5 98.6 97.5 98.7 126.5 98.8 155.5 99.0 184.5 99.1 199.0 99.3 213.5 99.6 228.0 99.9 242.5 100.3 257.0 100.8 271.5 101.5 286.0 102.3 300.5 103.5 315.0 104.9 329.5 106.7 344.0 109.1 358.5 112.1 372.9 116.0 387.4 121.0 401.9 127.3 416.4 135.2 430.9 145.2 445.4 157.7 459.9 173.1 474.4 191.7 488.9 214.0 503.4 239.9 517.9 268.9 532.4 299.7 546.9 330.0 561.4 356.0 575.9 372.8 590.4 373.2 604.9 335.2 619.4 259.5 633.9 176.1 648.4 121.1 662.9 101.7 677.4 98.7 691.9 98.5 706.4 98.5 720.9 98.5 735.4"/><path d="M98.5 10.5 98.5 39.5 98.5 68.5 98.6 97.5 98.6 126.5 98.8 155.5 98.9 184.5 99.1 199.0 99.2 213.5 99.4 228.0 99.7 242.5 100.0 257.0 100.5 271.5 101.1 286.0 101.8 300.5 102.8 315.0 104.0 329.5 105.6 344.0 107.7 358.5 110.3 372.9 113.7 387.4 118.0 401.9 123.4 416.4 130.4 430.9 139.1 445.4 150.0 459.9 163.5 474.4 180.0 488.9 199.7 503.4 222.7 517.9 248.7 532.4 276.7 546.9 304.7 561.4 329.5 575.9 346.6 590.4 350.0 604.9 300.2 619.4 199.9 633.9 122.1 648.4 100.0 662.9 98.5 677.4 98.5 691.9 98.5 706.4 98.5 720.9 98.5 735.4"/><path d="M98.5 10.5 98.6 39.5 98.6 68.5 98.8 97.5 99.0 126.5 99.3 155.5 99.7 184.5 100.0 199.0 100.4 213.5 100.9 228.0 101.4 242.5 102.1 257.0 103.0 271.5 104.1 286.0 105.5 300.5 107.1 315.0 109.2 329.5 111.7 344.0 114.8 358.5 118.7 372.9 123.4 387.4 129.2 401.9 136.2 416.4 144.7 430.9 155.0 445.4 167.3 459.9 181.8 474.4 198.8 488.9 218.3 503.4 240.4 517.9 264.5 532.4 289.8 546.9 315.2 561.4 338.4 575.9 356.8 590.4 367.1 604.9 358.3 619.4 291.3 633.9 190.5 648.4 120.4 662.9 100.2 677.4 98.5 691.9 98.5 706.4 98.5 720.9 98.5 735.4"/><path d="M98.5 10.5 98.5 39.5 98.5 68.5 98.6 97.5 98.6 126.5 98.7 155.5 98.9 184.5 99.0 199.0 99.2 213.5 99.4 228.0 99.7 242.5 100.0 257.0 100.5 271.5 101.1 286.0 101.9 300.5 102.9 315.0 104.2 329.5 105.8 344.0 108.0 358.5 110.8 372.9 114.4 387.4 119.0 401.9 124.9 416.4 132.5 430.9 142.0 445.4 154.0 459.9 168.9 474.4 187.2 488.9 209.1 503.4 234.8 517.9 263.8 532.4 294.9 546.9 325.5 561.4 352.0 575.9 369.0 590.4 365.5 604.9 289.9 619.4 174.0 633.9 109.3 648.4 98.8 662.9 98.5 677.4 98.5 691.9 98.5 706.4 98.5 720.9 98.5 735.4"/><path d="M98.5 10.5 98.5 39.5 98.5 68.5 98.6 97.5 98.7 126.5 98.8 155.5 99.0 184.5 99.2 199.0 99.3 213.5 99.6 228.0 99.9 242.5 100.3 257.0 100.8 271.5 101.5 286.0 102.4 300.5 103.5 315.0 104.9 329.5 106.8 344.0 109.2 358.5 112.2 372.9 116.0 387.4 121.0 401.9 127.2 416.4 135.1 430.9 145.0 445.4 157.3 459.9 172.4 474.4 190.8 488.9 212.6 503.4 237.9 517.9 266.1 532.4 296.0 546.9 325.1 561.4 350.0 575.9 365.6 590.4 362.2 604.9 297.2 619.4 191.1 633.9 118.3 648.4 99.7 662.9 98.5 677.4 98.5 691.9 98.5 706.4 98.5 720.9 98.5 735.4"/><path d="M98.5 10.5 98.5 39.5 98.6 68.5 98.7 97.5 98.8 126.5 99.0 155.5 99.3 184.5 99.5 199.0 99.7 213.5 100.1 228.0 100.5 242.5 101.0 257.0 101.7 271.5 102.5 286.0 103.6 300.5 105.0 315.0 106.7 329.5 108.9 344.0 111.7 358.5 115.2 372.9 119.6 387.4 125.0 401.9 131.9 416.4 140.3 430.9 150.8 445.4 163.6 459.9 179.2 474.4 197.7 488.9 219.5 503.4 244.5 517.9 272.3 532.4 301.7 546.9 330.9 561.4 356.9 575.9 375.7 590.4 382.7 604.9 330.7 619.4 205.9 633.9 116.9 648.4 99.1 662.9 98.5 677.4 98.5 691.9 98.5 706.4 98.5 720.9 98.5 735.4"/><path d="M98.5 10.5 98.5 39.5 98.6 68.5 98.7 97.5 98.8 126.5 99.0 155.5 99.3 184.5 99.5 199.0 99.7 213.5 100.0 228.0 100.4 242.5 101.0 257.0 101.6 271.5 102.4 286.0 103.5 300.5 104.8 315.0 106.5 329.5 108.6 344.0 111.3 358.5 114.6 372.9 118.8 387.4 124.0 401.9 130.5 416.4 138.5 430.9 148.3 445.4 160.2 459.9 174.6 474.4 191.5 488.9 211.1 503.4 233.2 517.9 257.1 532.4 281.5 546.9 304.5 561.4 323.0 575.9 333.4 590.4 329.4 604.9 296.6 619.4 238.1 633.9 173.2 648.4 125.6 662.9 104.2 677.4 99.1 691.9 98.5 706.4 98.5 720.9 98.5 735.4"/><path d="M98.5 10.5 98.5 39.5 98.6 68.5 98.6 97.5 98.8 126.5 98.9 155.5 99.2 184.5 99.4 199.0 99.6 213.5 99.9 228.0 100.3 242.5 100.7 257.0 101.3 271.5 102.1 286.0 103.0 300.5 104.2 315.0 105.6 329.5 107.5 344.0 109.8 358.5 112.7 372.9 116.3 387.4 120.8 401.9 126.4 416.4 133.3 430.9 141.7 445.4 152.0 459.9 164.3 474.4 179.0 488.9 196.1 503.4 215.5 517.9 237.0 532.4 259.7 546.9 282.1 561.4 302.0 575.9 316.5 590.4 322.1 604.9 286.4 619.4 193.4 633.9 118.5 648.4 99.4 662.9 98.5 677.4 98.5 691.9 98.5 706.4 98.5 720.9 98.5 735.4"/><path d="M98.5 10.5 98.5 39.5 98.5 68.5 98.6 97.5 98.6 126.5 98.7 155.5 98.8 184.5 98.9 199.0 99.1 213.5 99.3 228.0 99.5 242.5 99.9 257.0 100.3 271.5 100.9 286.0 101.6 300.5 102.7 315.0 104.0 329.5 105.8 344.0 108.2 358.5 111.3 372.9 115.4 387.4 120.7 401.9 127.8 416.4 136.9 430.9 148.8 445.4 163.9 459.9 183.2 474.4 207.3 488.9 236.7 503.4 271.7 517.9 311.5 532.4 354.2 546.9 395.5 561.4 429.0 575.9 445.7 590.4 430.3 604.9 364.5 619.4 264.0 633.9 170.1 648.4 116.9 662.9 100.7 677.4 98.6 691.9 98.5 706.4 98.5 720.9 98.5 735.4"/><path d="M98.5 10.5 98.5 39.5 98.5 68.5 98.6 97.5 98.6 126.5 98.7 155.5 98.9 184.5 99.0 199.0 99.2 213.5 99.4 228.0 99.6 242.5 100.0 257.0 100.4 271.5 101.0 286.0 101.8 300.5 102.8 315.0 104.1 329.5 105.8 344.0 108.1 358.5 111.0 372.9 114.8 387.4 119.6 401.9 125.9 416.4 133.9 430.9 144.1 445.4 156.9 459.9 172.9 474.4 192.5 488.9 215.8 503.4 242.9 517.9 272.8 532.4 303.8 546.9 332.5 561.4 354.1 575.9 362.5 590.4 316.4 604.9 201.6 619.4 117.0 633.9 99.1 648.4 98.5 662.9 98.5 677.4 98.5 691.9 98.5 706.4 98.5 720.9 98.5 735.4"/><path d="M98.5 10.5 98.5 39.5 98.5 68.5 98.5 97.5 98.6 126.5 98.6 155.5 98.7 184.5 98.8 199.0 98.8 213.5 99.0 228.0 99.1 242.5 99.3 257.0 99.6 271.5 100.0 286.0 100.6 300.5 101.3 315.0 102.2 329.5 103.5 344.0 105.3 358.5 107.6 372.9 110.7 387.4 114.9 401.9 120.5 416.4 127.9 430.9 137.7 445.4 150.5 459.9 167.2 474.4 188.6 488.9 215.5 503.4 248.5 517.9 287.5 532.4 331.1 546.9 375.8 561.4 415.3 575.9 440.2 590.4 437.6 604.9 387.6 619.4 295.6 633.9 196.0 648.4 129.0 662.9 103.5 677.4 98.8 691.9 98.5 706.4 98.5 720.9 98.5 735.4"/><path d="M98.5 10.5 98.5 39.5 98.5 68.5 98.6 97.5 98.6 126.5 98.7 155.5 98.8 184.5 98.9 199.0 99.1 213.5 99.3 228.0 99.5 242.5 99.8 257.0 100.3 271.5 100.8 286.0 101.6 300.5 102.6 315.0 103.8 329.5 105.5 344.0 107.8 358.5 110.7 372.9 114.5 387.4 119.5 401.9 126.1 416.4 134.5 430.9 145.4 445.4 159.4 459.9 177.0 474.4 199.1 488.9 226.1 503.4 258.3 517.9 295.2 532.4 335.4 546.9 375.5 561.4 410.1 575.9 431.6 590.4 419.1 604.9 297.9 619.4 152.4 633.9 101.8 648.4 98.5 662.9 98.5 677.4 98.5 691.9 98.5 706.4 98.5 720.9 98.5 735.4"/><path d="M98.5 10.5 98.5 39.5 98.5 68.5 98.6 97.5 98.6 126.5 98.7 155.5 98.9 184.5 99.1 199.0 99.2 213.5 99.4 228.0 99.7 242.5 100.1 257.0 100.6 271.5 101.3 286.0 102.2 300.5 103.3 315.0 104.8 329.5 106.8 344.0 109.3 358.5 112.6 372.9 117.0 387.4 122.6 401.9 129.8 416.4 139.1 430.9 151.0 445.4 166.1 459.9 184.9 474.4 208.0 488.9 235.9 503.4 268.4 517.9 304.8 532.4 343.0 546.9 379.1 561.4 407.3 575.9 420.1 590.4 398.7 604.9 322.7 619.4 218.8 633.9 138.0 648.4 104.8 662.9 98.8 677.4 98.5 691.9 98.5 706.4 98.5 720.9 98.5 735.4"/><path d="M98.5 10.5 98.5 39.5 98.5 68.5 98.6 97.5 98.7 126.5 98.8 155.5 99.0 184.5 99.1 199.0 99.3 213.5 99.6 228.0 99.9 242.5 100.3 257.0 100.8 271.5 101.5 286.0 102.4 300.5 103.6 315.0 105.0 329.5 106.9 344.0 109.4 358.5 112.6 372.9 116.6 387.4 121.8 401.9 128.4 416.4 136.9 430.9 147.5 445.4 160.8 459.9 177.4 474.4 197.7 488.9 222.2 503.4 251.1 517.9 284.0 532.4 319.9 546.9 356.5 561.4 389.9 575.9 414.8 590.4 424.5 604.9 374.5 619.4 244.6 633.9 133.6 648.4 100.7 662.9 98.5 677.4 98.5 691.9 98.5 706.4 98.5 720.9 98.5 735.4"/><path d="M98.5 10.5 98.5 39.5 98.6 68.5 98.6 97.5 98.7 126.5 98.8 155.5 99.1 184.5 99.2 199.0 99.5 213.5 99.7 228.0 100.1 242.5 100.6 257.0 101.2 271.5 102.0 286.0 103.0 300.5 104.3 315.0 105.9 329.5 108.1 344.0 110.8 358.5 114.3 372.9 118.8 387.4 124.6 401.9 131.9 416.4 141.1 430.9 152.7 445.4 167.1 459.9 184.8 474.4 206.4 488.9 232.1 503.4 261.9 517.9 295.1 532.4 330.3 546.9 364.6 561.4 393.8 575.9 411.9 590.4 406.0 604.9 319.8 619.4 189.5 633.9 113.2 648.4 99.0 662.9 98.5 677.4 98.5 691.9 98.5 706.4 98.5 720.9 98.5 735.4"/><path d="M98.5 10.5 98.6 39.5 98.7 68.5 98.8 97.5 99.1 126.5 99.4 155.5 99.9 184.5 100.2 199.0 100.6 213.5 101.1 228.0 101.8 242.5 102.5 257.0 103.4 271.5 104.6 286.0 106.0 300.5 107.8 315.0 109.9 329.5 112.5 344.0 115.7 358.5 119.6 372.9 124.4 387.4 130.2 401.9 137.2 416.4 145.6 430.9 155.6 445.4 167.5 459.9 181.4 474.4 197.5 488.9 215.9 503.4 236.3 517.9 258.3 532.4 281.2 546.9 303.7 561.4 323.7 575.9 339.0 590.4 346.8 604.9 335.5 619.4 278.8 633.9 195.1 648.4 129.1 662.9 102.8 677.4 98.7 691.9 98.5 706.4 98.5 720.9 98.5 735.4"/><path d="M98.5 10.5 98.6 39.5 98.7 68.5 98.8 97.5 99.0 126.5 99.4 155.5 99.8 184.5 100.1 199.0 100.5 213.5 101.0 228.0 101.6 242.5 102.4 257.0 103.3 271.5 104.4 286.0 105.8 300.5 107.6 315.0 109.7 329.5 112.3 344.0 115.6 358.5 119.5 372.9 124.4 387.4 130.3 401.9 137.4 416.4 146.0 430.9 156.3 445.4 168.4 459.9 182.7 474.4 199.1 488.9 217.6 503.4 237.9 517.9 259.5 532.4 281.2 546.9 301.5 561.4 318.2 575.9 328.5 590.4 318.6 604.9 186.9 619.4 102.4 633.9 98.5 648.4 98.5 662.9 98.5 677.4 98.5 691.9 98.5 706.4 98.5 720.9 98.5 735.4"/><path d="M98.5 10.5 98.5 39.5 98.5 68.5 98.5 97.5 98.6 126.5 98.7 155.5 98.8 184.5 98.9 199.0 99.0 213.5 99.2 228.0 99.4 242.5 99.8 257.0 100.2 271.5 100.7 286.0 101.4 300.5 102.3 315.0 103.5 329.5 105.2 344.0 107.3 358.5 110.1 372.9 113.8 387.4 118.6 401.9 124.9 416.4 133.0 430.9 143.6 445.4 157.2 459.9 174.5 474.4 196.2 488.9 222.9 503.4 255.1 517.9 292.5 532.4 333.8 546.9 376.1 561.4 414.2 575.9 440.5 590.4 441.7 604.9 331.0 619.4 166.2 633.9 102.7 648.4 98.5 662.9 98.5 677.4 98.5 691.9 98.5 706.4 98.5 720.9 98.5 735.4"/><path d="M98.5 10.5 98.5 39.5 98.6 68.5 98.7 97.5 98.9 126.5 99.1 155.5 99.5 184.5 99.7 199.0 100.0 213.5 100.4 228.0 100.9 242.5 101.6 257.0 102.4 271.5 103.4 286.0 104.6 300.5 106.2 315.0 108.1 329.5 110.5 344.0 113.6 358.5 117.4 372.9 122.0 387.4 127.9 401.9 135.0 416.4 143.8 430.9 154.5 445.4 167.4 459.9 182.9 474.4 201.0 488.9 222.0 503.4 245.5 517.9 271.2 532.4 297.7 546.9 323.2 561.4 345.0 575.9 359.5 590.4 360.5 604.9 283.7 619.4 158.7 633.9 103.3 648.4 98.5 662.9 98.5 677.4 98.5 691.9 98.5 706.4 98.5 720.9 98.5 735.4"/><path d="M98.5 10.5 98.6 39.5 98.8 68.5 99.0 97.5 99.3 126.5 99.8 155.5 100.4 184.5 100.8 199.0 101.3 213.5 101.9 228.0 102.6 242.5 103.4 257.0 104.5 271.5 105.8 286.0 107.3 300.5 109.1 315.0 111.3 329.5 114.0 344.0 117.2 358.5 121.0 372.9 125.6 387.4 131.0 401.9 137.4 416.4 145.0 430.9 153.9 445.4 164.2 459.9 176.0 474.4 189.3 488.9 204.3 503.4 220.5 517.9 237.8 532.4 255.5 546.9 272.7 561.4 288.1 575.9 300.1 590.4 306.9 604.9 301.5 619.4 252.4 633.9 174.9 648.4 117.9 662.9 100.2 677.4 98.5 691.9 98.5 706.4 98.5 720.9 98.5 735.4"/><path d="M98.5 10.5 98.5 39.5 98.6 68.5 98.7 97.5 98.8 126.5 99.0 155.5 99.3 184.5 99.5 199.0 99.8 213.5 100.1 228.0 100.6 242.5 101.1 257.0 101.8 271.5 102.7 286.0 103.9 300.5 105.3 315.0 107.2 329.5 109.5 344.0 112.5 358.5 116.3 372.9 121.0 387.4 127.0 401.9 134.5 416.4 143.9 430.9 155.5 445.4 169.9 459.9 187.4 474.4 208.5 488.9 233.6 503.4 262.7 517.9 295.7 532.4 331.4 546.9 367.9 561.4 402.0 575.9 429.2 590.4 443.8 604.9 426.1 619.4 330.2 633.9 200.0 648.4 119.2 662.9 99.8 677.4 98.5 691.9 98.5 706.4 98.5 720.9 98.5 735.4"/><path d="M98.5 10.5 98.5 39.5 98.6 68.5 98.7 97.5 98.8 126.5 99.0 155.5 99.3 184.5 99.5 199.0 99.7 213.5 100.1 228.0 100.5 242.5 101.1 257.0 101.7 271.5 102.6 286.0 103.7 300.5 105.1 315.0 106.9 329.5 109.2 344.0 112.0 358.5 115.6 372.9 120.2 387.4 125.8 401.9 132.8 416.4 141.5 430.9 152.3 445.4 165.3 459.9 180.9 474.4 199.4 488.9 220.8 503.4 244.7 517.9 270.3 532.4 296.2 546.9 319.7 561.4 337.5 575.9 345.6 590.4 331.0 604.9 277.6 619.4 201.5 633.9 137.1 648.4 106.3 662.9 99.1 677.4 98.5 691.9 98.5 706.4 98.5 720.9 98.5 735.4"/><path d="M98.5 10.5 98.5 39.5 98.5 68.5 98.6 97.5 98.7 126.5 98.8 155.5 99.0 184.5 99.1 199.0 99.3 213.5 99.5 228.0 99.8 242.5 100.2 257.0 100.7 271.5 101.4 286.0 102.2 300.5 103.3 315.0 104.8 329.5 106.6 344.0 109.0 358.5 112.0 372.9 115.9 387.4 120.9 401.9 127.3 416.4 135.5 430.9 145.8 445.4 158.8 459.9 175.0 474.4 194.9 488.9 219.0 503.4 247.4 517.9 280.1 532.4 315.9 546.9 352.8 561.4 387.1 575.9 413.4 590.4 425.1 604.9 403.3 619.4 327.8 633.9 224.1 648.4 141.6 662.9 105.9 677.4 99.0 691.9 98.5 706.4 98.5 720.9 98.5 735.4"/><path d="M98.5 10.5 98.5 39.5 98.6 68.5 98.6 97.5 98.7 126.5 98.9 155.5 99.1 184.5 99.3 199.0 99.5 213.5 99.8 228.0 100.2 242.5 100.7 257.0 101.3 271.5 102.1 286.0 103.1 300.5 104.4 315.0 106.0 329.5 108.0 344.0 110.7 358.5 114.0 372.9 118.2 387.4 123.5 401.9 130.2 416.4 138.6 430.9 148.9 445.4 161.6 459.9 177.0 474.4 195.4 488.9 216.9 503.4 241.2 517.9 267.7 532.4 294.8 546.9 320.0 561.4 339.8 575.9 349.7 590.4 330.8 604.9 250.5 619.4 154.8 633.9 106.8 648.4 98.8 662.9 98.5 677.4 98.5 691.9 98.5 706.4 98.5 720.9 98.5 735.4"/><path d="M98.5 10.5 98.5 39.5 98.6 68.5 98.7 97.5 98.9 126.5 99.1 155.5 99.4 184.5 99.7 199.0 100.0 213.5 100.3 228.0 100.8 242.5 101.4 257.0 102.1 271.5 103.0 286.0 104.2 300.5 105.6 315.0 107.5 329.5 109.7 344.0 112.5 358.5 116.1 372.9 120.4 387.4 125.8 401.9 132.5 416.4 140.6 430.9 150.6 445.4 162.7 459.9 177.2 474.4 194.3 488.9 214.2 503.4 236.8 517.9 261.7 532.4 288.1 546.9 314.4 561.4 338.1 575.9 356.2 590.4 364.8 604.9 343.9 619.4 261.5 633.9 162.3 648.4 109.2 662.9 99.0 677.4 98.5 691.9 98.5 706.4 98.5 720.9 98.5 735.4"/><path d="M98.5 10.5 98.6 39.5 98.7 68.5 98.8 97.5 99.1 126.5 99.4 155.5 99.9 184.5 100.3 199.0 100.7 213.5 101.2 228.0 101.8 242.5 102.6 257.0 103.6 271.5 104.8 286.0 106.2 300.5 108.0 315.0 110.2 329.5 112.9 344.0 116.2 358.5 120.2 372.9 125.1 387.4 131.0 401.9 138.1 416.4 146.5 430.9 156.6 445.4 168.4 459.9 182.1 474.4 197.7 488.9 215.1 503.4 233.9 517.9 253.6 532.4 272.9 546.9 290.3 561.4 303.7 575.9 310.8 590.4 284.8 604.9 168.9 619.4 103.0 633.9 98.5 648.4 98.5 662.9 98.5 677.4 98.5 691.9 98.5 706.4 98.5 720.9 98.5 735.4"/><path d="M98.5 10.5 98.5 39.5 98.6 68.5 98.7 97.5 98.8 126.5 99.0 155.5 99.4 184.5 99.6 199.0 99.9 213.5 100.2 228.0 100.7 242.5 101.2 257.0 101.9 271.5 102.8 286.0 104.0 300.5 105.4 315.0 107.2 329.5 109.4 344.0 112.3 358.5 115.8 372.9 120.2 387.4 125.7 401.9 132.5 416.4 140.9 430.9 151.2 445.4 163.7 459.9 178.8 474.4 196.8 488.9 217.7 503.4 241.6 517.9 267.9 532.4 295.8 546.9 323.4 561.4 348.1 575.9 366.2 590.4 373.6 604.9 325.7 619.4 200.0 633.9 113.6 648.4 98.8 662.9 98.5 677.4 98.5 691.9 98.5 706.4 98.5 720.9 98.5 735.4"/><path d="M98.5 10.5 98.5 39.5 98.5 68.5 98.6 97.5 98.7 126.5 98.8 155.5 99.0 184.5 99.1 199.0 99.3 213.5 99.6 228.0 99.9 242.5 100.3 257.0 100.9 271.5 101.6 286.0 102.6 300.5 103.8 315.0 105.4 329.5 107.4 344.0 110.1 358.5 113.5 372.9 117.9 387.4 123.6 401.9 130.9 416.4 140.2 430.9 152.0 445.4 166.7 459.9 184.9 474.4 207.0 488.9 233.3 503.4 263.6 517.9 296.9 532.4 331.3 546.9 363.1 561.4 387.0 575.9 396.6 590.4 301.7 604.9 134.5 619.4 98.8 633.9 98.5 648.4 98.5 662.9 98.5 677.4 98.5 691.9 98.5 706.4 98.5 720.9 98.5 735.4"/><path d="M98.5 10.5 98.5 39.5 98.6 68.5 98.6 97.5 98.7 126.5 98.9 155.5 99.1 184.5 99.3 199.0 99.5 213.5 99.8 228.0 100.2 242.5 100.6 257.0 101.2 271.5 102.0 286.0 103.0 300.5 104.3 315.0 106.0 329.5 108.2 344.0 110.9 358.5 114.4 372.9 118.9 387.4 124.6 401.9 131.9 416.4 141.1 430.9 152.6 445.4 167.0 459.9 184.8 474.4 206.5 488.9 232.5 503.4 263.1 517.9 297.7 532.4 335.5 546.9 373.9 561.4 409.1 575.9 435.6 590.4 446.8 604.9 409.3 619.4 294.7 633.9 169.8 648.4 109.2 662.9 98.9 677.4 98.5 691.9 98.5 706.4 98.5 720.9 98.5 735.4"/><path d="M98.5 10.5 98.5 39.5 98.5 68.5 98.6 97.5 98.6 126.5 98.7 155.5 98.8 184.5 98.9 199.0 99.1 213.5 99.3 228.0 99.5 242.5 99.8 257.0 100.3 271.5 100.8 286.0 101.5 300.5 102.5 315.0 103.8 329.5 105.4 344.0 107.6 358.5 110.4 372.9 114.1 387.4 119.0 401.9 125.2 416.4 133.3 430.9 143.6 445.4 156.7 459.9 173.1 474.4 193.4 488.9 217.8 503.4 246.4 517.9 278.2 532.4 311.3 546.9 342.3 561.4 365.6 575.9 374.6 590.4 327.3 604.9 210.5 619.4 120.6 633.9 99.4 648.4 98.5 662.9 98.5 677.4 98.5 691.9 98.5 706.4 98.5 720.9 98.5 735.4"/><path d="M98.5 10.5 98.5 39.5 98.5 68.5 98.5 97.5 98.6 126.5 98.7 155.5 98.8 184.5 98.9 199.0 99.0 213.5 99.1 228.0 99.4 242.5 99.6 257.0 100.0 271.5 100.5 286.0 101.1 300.5 102.0 315.0 103.1 329.5 104.5 344.0 106.5 358.5 109.0 372.9 112.3 387.4 116.7 401.9 122.4 416.4 129.8 430.9 139.5 445.4 151.8 459.9 167.6 474.4 187.5 488.9 212.1 503.4 241.8 517.9 276.6 532.4 315.5 546.9 356.0 561.4 393.5 575.9 421.2 590.4 430.5 604.9 391.3 619.4 292.2 633.9 181.1 648.4 116.6 662.9 99.9 677.4 98.5 691.9 98.5 706.4 98.5 720.9 98.5 735.4"/><path d="M98.5 10.5 98.5 39.5 98.6 68.5 98.6 97.5 98.8 126.5 98.9 155.5 99.2 184.5 99.4 199.0 99.7 213.5 100.0 228.0 100.4 242.5 100.9 257.0 101.6 271.5 102.4 286.0 103.5 300.5 104.9 315.0 106.6 329.5 108.8 344.0 111.5 358.5 115.0 372.9 119.4 387.4 125.0 401.9 131.9 416.4 140.6 430.9 151.4 445.4 164.6 459.9 180.6 474.4 200.0 488.9 222.8 503.4 249.1 517.9 278.4 532.4 309.7 546.9 341.0 561.4 369.1 575.9 389.7 590.4 397.7 604.9 339.7 619.4 200.1 633.9 111.8 648.4 98.7 662.9 98.5 677.4 98.5 691.9 98.5 706.4 98.5 720.9 98.5 735.4"/><path d="M98.5 10.5 98.5 39.5 98.5 68.5 98.6 97.5 98.6 126.5 98.7 155.5 98.9 184.5 99.0 199.0 99.2 213.5 99.4 228.0 99.6 242.5 100.0 257.0 100.4 271.5 101.0 286.0 101.8 300.5 102.8 315.0 104.1 329.5 105.8 344.0 108.0 358.5 110.8 372.9 114.5 387.4 119.3 401.9 125.5 416.4 133.5 430.9 143.7 445.4 156.5 459.9 172.7 474.4 192.7 488.9 217.1 503.4 246.0 517.9 279.2 532.4 315.5 546.9 352.4 561.4 385.5 575.9 408.8 590.4 414.3 604.9 371.4 619.4 274.8 633.9 171.7 648.4 114.1 662.9 99.7 677.4 98.5 691.9 98.5 706.4 98.5 720.9 98.5 735.4"/><path d="M98.5 10.5 98.5 39.5 98.5 68.5 98.6 97.5 98.6 126.5 98.7 155.5 98.9 184.5 99.0 199.0 99.2 213.5 99.4 228.0 99.6 242.5 100.0 257.0 100.4 271.5 101.0 286.0 101.7 300.5 102.7 315.0 103.9 329.5 105.5 344.0 107.5 358.5 110.2 372.9 113.6 387.4 118.0 401.9 123.6 416.4 130.7 430.9 139.8 445.4 151.3 459.9 165.6 474.4 183.3 488.9 204.9 503.4 230.6 517.9 260.3 532.4 293.5 546.9 328.3 561.4 361.7 575.9 389.0 590.4 404.1 604.9 393.0 619.4 325.2 633.9 221.6 648.4 137.9 662.9 104.1 677.4 98.7 691.9 98.5 706.4 98.5 720.9 98.5 735.4"/><path d="M98.5 10.5 98.6 39.5 98.6 68.5 98.8 97.5 98.9 126.5 99.2 155.5 99.6 184.5 99.9 199.0 100.2 213.5 100.6 228.0 101.1 242.5 101.7 257.0 102.5 271.5 103.5 286.0 104.6 300.5 106.1 315.0 107.9 329.5 110.1 344.0 112.9 358.5 116.2 372.9 120.3 387.4 125.4 401.9 131.5 416.4 138.8 430.9 147.7 445.4 158.2 459.9 170.6 474.4 185.0 488.9 201.5 503.4 219.8 517.9 239.5 532.4 259.8 546.9 279.5 561.4 296.7 575.9 309.1 590.4 313.9 604.9 294.2 619.4 234.7 633.9 161.6 648.4 114.3 662.9 100.1 677.4 98.5 691.9 98.5 706.4 98.5 720.9 98.5 735.4"/><path d="M98.5 10.5 98.5 39.5 98.6 68.5 98.7 97.5 98.9 126.5 99.1 155.5 99.5 184.5 99.7 199.0 100.0 213.5 100.4 228.0 100.9 242.5 101.5 257.0 102.3 271.5 103.2 286.0 104.4 300.5 105.9 315.0 107.8 329.5 110.1 344.0 113.0 358.5 116.6 372.9 121.0 387.4 126.5 401.9 133.3 416.4 141.5 430.9 151.6 445.4 163.6 459.9 178.0 474.4 194.8 488.9 214.1 503.4 235.7 517.9 259.0 532.4 282.9 546.9 305.7 561.4 324.8 575.9 337.0 590.4 336.9 604.9 296.4 619.4 217.4 633.9 142.1 648.4 106.0 662.9 98.9 677.4 98.5 691.9 98.5 706.4 98.5 720.9 98.5 735.4"/><path d="M98.5 10.5 98.5 39.5 98.6 68.5 98.6 97.5 98.8 126.5 98.9 155.5 99.2 184.5 99.4 199.0 99.7 213.5 100.0 228.0 100.4 242.5 100.9 257.0 101.6 271.5 102.4 286.0 103.5 300.5 104.9 315.0 106.6 329.5 108.8 344.0 111.6 358.5 115.1 372.9 119.6 387.4 125.2 401.9 132.3 416.4 141.1 430.9 152.1 445.4 165.6 459.9 182.3 474.4 202.4 488.9 226.3 503.4 254.3 517.9 286.1 532.4 320.8 546.9 356.6 561.4 390.7 575.9 418.6 590.4 434.8 604.9 422.1 619.4 319.8 633.9 181.3 648.4 109.8 662.9 98.8 677.4 98.5 691.9 98.5 706.4 98.5 720.9 98.5 735.4"/><path d="M98.5 10.5 98.5 39.5 98.6 68.5 98.6 97.5 98.7 126.5 98.9 155.5 99.1 184.5 99.3 199.0 99.5 213.5 99.8 228.0 100.2 242.5 100.7 257.0 101.3 271.5 102.1 286.0 103.2 300.5 104.5 315.0 106.2 329.5 108.4 344.0 111.3 358.5 114.9 372.9 119.4 387.4 125.2 401.9 132.6 416.4 141.8 430.9 153.3 445.4 167.5 459.9 184.8 474.4 205.5 488.9 229.7 503.4 257.0 517.9 286.6 532.4 316.5 546.9 343.4 561.4 363.0 575.9 369.9 590.4 344.0 604.9 273.5 619.4 186.2 633.9 124.5 648.4 102.1 662.9 98.7 677.4 98.5 691.9 98.5 706.4 98.5 720.9 98.5 735.4"/><path d="M98.5 10.5 98.5 39.5 98.6 68.5 98.6 97.5 98.8 126.5 98.9 155.5 99.2 184.5 99.4 199.0 99.7 213.5 100.0 228.0 100.5 242.5 101.0 257.0 101.7 271.5 102.6 286.0 103.7 300.5 105.2 315.0 107.0 329.5 109.4 344.0 112.4 358.5 116.1 372.9 120.9 387.4 127.0 401.9 134.5 416.4 143.9 430.9 155.6 445.4 169.9 459.9 187.1 474.4 207.6 488.9 231.3 503.4 258.0 517.9 286.6 532.4 315.2 546.9 340.9 561.4 359.6 575.9 366.4 590.4 324.9 604.9 220.7 619.4 129.8 633.9 100.8 648.4 98.5 662.9 98.5 677.4 98.5 691.9 98.5 706.4 98.5 720.9 98.5 735.4"/><path d="M98.5 10.5 98.5 39.5 98.5 68.5 98.6 97.5 98.6 126.5 98.7 155.5 98.8 184.5 99.0 199.0 99.1 213.5 99.3 228.0 99.5 242.5 99.8 257.0 100.3 271.5 100.8 286.0 101.5 300.5 102.5 315.0 103.7 329.5 105.3 344.0 107.4 358.5 110.2 372.9 113.8 387.4 118.4 401.9 124.5 416.4 132.3 430.9 142.3 445.4 155.0 459.9 171.2 474.4 191.3 488.9 216.1 503.4 245.8 517.9 280.5 532.4 319.2 546.9 359.6 561.4 397.6 575.9 427.0 590.4 439.8 604.9 419.7 619.4 351.4 633.9 253.0 648.4 164.1 662.9 115.1 677.4 100.5 691.9 98.6 706.4 98.5 720.9 98.5 735.4"/><path d="M98.5 10.5 98.5 39.5 98.5 68.5 98.5 97.5 98.5 126.5 98.5 155.5 98.5 184.5 98.5 199.0 98.5 213.5 98.5 228.0 98.5 242.5 98.5 257.0 98.5 271.5 98.5 286.0 98.5 300.5 98.5 315.0 98.5 329.5 98.5 344.0 98.5 358.5 98.5 372.9 98.5 387.4 98.5 401.9 98.5 416.4 98.5 430.9 98.5 445.4 98.6 459.9 98.7 474.4 99.0 488.9 99.6 503.4 101.0 517.9 104.0 532.4 110.8 546.9 125.5 561.4 157.4 575.9 223.1 590.4 346.7 604.9 529.7 619.4 651.9 633.9 446.8 648.4 289.5 662.9 196.6 677.4 146.6 691.9 121.2 706.4 108.9 720.9 103.1 735.4"/><path d="M98.5 10.5 98.5 39.5 98.5 68.5 98.5 97.5 98.5 126.5 98.5 155.5 98.5 184.5 98.5 199.0 98.5 213.5 98.5 228.0 98.5 242.5 98.5 257.0 98.5 271.5 98.5 286.0 98.5 300.5 98.5 315.0 98.5 329.5 98.5 344.0 98.5 358.5 98.5 372.9 98.5 387.4 98.5 401.9 98.5 416.4 98.5 430.9 98.5 445.4 98.5 459.9 98.5 474.4 98.6 488.9 98.8 503.4 99.2 517.9 100.2 532.4 102.6 546.9 108.6 561.4 123.1 575.9 157.0 590.4 230.0 604.9 354.6 619.4 447.9 633.9 250.1 648.4 149.8 662.9 113.9 677.4 102.8 691.9 99.6 706.4 98.8 720.9 98.6 735.4"/><path d="M98.5 10.5 98.5 39.5 98.5 68.5 98.5 97.5 98.5 126.5 98.5 155.5 98.5 184.5 98.5 199.0 98.5 213.5 98.5 228.0 98.5 242.5 98.5 257.0 98.5 271.5 98.5 286.0 98.5 300.5 98.5 315.0 98.5 329.5 98.5 344.0 98.5 358.5 98.5 372.9 98.5 387.4 98.5 401.9 98.5 416.4 98.5 430.9 98.6 445.4 98.6 459.9 98.8 474.4 99.1 488.9 99.8 503.4 101.2 517.9 104.2 532.4 110.2 546.9 122.6 561.4 147.3 575.9 194.4 590.4 275.6 604.9 385.9 619.4 454.4 633.9 160.6 648.4 104.9 662.9 99.0 677.4 98.5 691.9 98.5 706.4 98.5 720.9 98.5 735.4"/><path d="M98.5 10.5 98.5 39.5 98.5 68.5 98.5 97.5 98.5 126.5 98.5 155.5 98.5 184.5 98.5 199.0 98.5 213.5 98.5 228.0 98.5 242.5 98.5 257.0 98.5 271.5 98.5 286.0 98.5 300.5 98.5 315.0 98.5 329.5 98.5 344.0 98.5 358.5 98.5 372.9 98.5 387.4 98.5 401.9 98.5 416.4 98.6 430.9 98.6 445.4 98.8 459.9 99.1 474.4 99.6 488.9 100.8 503.4 103.2 517.9 108.1 532.4 118.0 546.9 137.7 561.4 176.1 575.9 247.6 590.4 367.5 604.9 525.8 619.4 622.0 633.9 240.4 648.4 124.6 662.9 102.5 677.4 99.0 691.9 98.6 706.4 98.5 720.9 98.5 735.4"/><path d="M98.5 10.5 98.5 39.5 98.5 68.5 98.5 97.5 98.5 126.5 98.5 155.5 98.5 184.5 98.5 199.0 98.5 213.5 98.5 228.0 98.5 242.5 98.5 257.0 98.5 271.5 98.5 286.0 98.5 300.5 98.5 315.0 98.5 329.5 98.5 344.0 98.5 358.5 98.5 372.9 98.5 387.4 98.5 401.9 98.5 416.4 98.5 430.9 98.5 445.4 98.5 459.9 98.6 474.4 98.7 488.9 98.9 503.4 99.5 517.9 100.8 532.4 104.0 546.9 111.5 561.4 129.0 575.9 168.3 590.4 249.1 604.9 380.5 619.4 475.2 633.9 320.2 648.4 210.0 662.9 150.5 677.4 121.5 691.9 108.2 706.4 102.5 720.9 100.1 735.4"/><path d="M98.5 10.5 98.5 39.5 98.5 68.5 98.5 97.5 98.5 126.5 98.5 155.5 98.5 184.5 98.5 199.0 98.5 213.5 98.5 228.0 98.5 242.5 98.5 257.0 98.5 271.5 98.5 286.0 98.5 300.5 98.5 315.0 98.5 329.5 98.5 344.0 98.5 358.5 98.5 372.9 98.5 387.4 98.5 401.9 98.5 416.4 98.5 430.9 98.5 445.4 98.6 459.9 98.6 474.4 98.8 488.9 99.2 503.4 99.9 517.9 101.7 532.4 105.5 546.9 113.8 561.4 131.4 575.9 167.7 590.4 235.1 604.9 334.0 619.4 399.5 633.9 240.1 648.4 151.7 662.9 116.5 677.4 104.1 691.9 100.2 706.4 99.0 720.9 98.6 735.4"/><path d="M98.5 10.5 98.5 39.5 98.5 68.5 98.5 97.5 98.5 126.5 98.5 155.5 98.5 184.5 98.5 199.0 98.5 213.5 98.5 228.0 98.5 242.5 98.5 257.0 98.5 271.5 98.5 286.0 98.5 300.5 98.5 315.0 98.5 329.5 98.5 344.0 98.5 358.5 98.5 372.9 98.5 387.4 98.5 401.9 98.5 416.4 98.5 430.9 98.6 445.4 98.6 459.9 98.7 474.4 99.0 488.9 99.7 503.4 101.0 517.9 104.0 532.4 110.5 546.9 124.4 561.4 153.7 575.9 212.9 590.4 321.6 604.9 478.8 619.4 581.6 633.9 379.7 648.4 237.9 662.9 162.4 677.4 126.3 691.9 110.1 706.4 103.1 720.9 100.3 735.4"/><path d="M98.5 10.5 98.5 39.5 98.5 68.5 98.5 97.5 98.5 126.5 98.5 155.5 98.5 184.5 98.5 199.0 98.5 213.5 98.5 228.0 98.5 242.5 98.5 257.0 98.5 271.5 98.5 286.0 98.5 300.5 98.5 315.0 98.5 329.5 98.5 344.0 98.5 358.5 98.5 372.9 98.5 387.4 98.5 401.9 98.5 416.4 98.5 430.9 98.5 445.4 98.6 459.9 98.6 474.4 98.8 488.9 99.2 503.4 100.2 517.9 102.3 532.4 107.2 546.9 118.1 561.4 142.4 575.9 194.3 590.4 295.1 604.9 449.8 619.4 556.0 633.9 347.3 648.4 211.4 662.9 145.5 677.4 116.9 691.9 105.4 706.4 101.0 720.9 99.3 735.4"/><path d="M98.5 10.5 98.5 39.5 98.5 68.5 98.5 97.5 98.5 126.5 98.5 155.5 98.5 184.5 98.5 199.0 98.5 213.5 98.5 228.0 98.5 242.5 98.5 257.0 98.5 271.5 98.5 286.0 98.5 300.5 98.5 315.0 98.5 329.5 98.5 344.0 98.5 358.5 98.5 372.9 98.5 387.4 98.5 401.9 98.5 416.4 98.5 430.9 98.5 445.4 98.5 459.9 98.6 474.4 98.6 488.9 98.8 503.4 99.3 517.9 100.6 532.4 103.8 546.9 111.7 561.4 131.3 575.9 178.2 590.4 281.3 604.9 461.5 619.4 599.2 633.9 377.8 648.4 229.5 662.9 155.1 677.4 121.5 691.9 107.4 706.4 101.8 720.9 99.7 735.4"/><path d="M98.5 10.5 98.5 39.5 98.5 68.5 98.5 97.5 98.5 126.5 98.5 155.5 98.5 184.5 98.5 199.0 98.5 213.5 98.5 228.0 98.5 242.5 98.5 257.0 98.5 271.5 98.5 286.0 98.5 300.5 98.5 315.0 98.5 329.5 98.5 344.0 98.5 358.5 98.5 372.9 98.5 387.4 98.5 401.9 98.5 416.4 98.5 430.9 98.6 445.4 98.6 459.9 98.8 474.4 99.1 488.9 99.7 503.4 101.2 517.9 104.4 532.4 111.3 546.9 126.4 561.4 158.4 575.9 223.7 590.4 344.4 604.9 520.5 619.4 636.5 633.9 443.2 648.4 289.5 662.9 196.6 677.4 146.6 691.9 121.2 706.4 108.9 720.9 103.1 735.4"/><path d="M98.5 10.5 98.5 39.5 98.5 68.5 98.5 97.5 98.5 126.5 98.5 155.5 98.5 184.5 98.5 199.0 98.5 213.5 98.5 228.0 98.5 242.5 98.5 257.0 98.5 271.5 98.5 286.0 98.5 300.5 98.5 315.0 98.5 329.5 98.5 344.0 98.5 358.5 98.5 372.9 98.5 387.4 98.5 401.9 98.5 416.4 98.5 430.9 98.5 445.4 98.5 459.9 98.5 474.4 98.6 488.9 98.8 503.4 99.1 517.9 100.1 532.4 102.4 546.9 108.0 561.4 121.4 575.9 152.4 590.4 218.4 604.9 329.8 619.4 412.4 633.9 250.3 648.4 157.7 662.9 119.3 677.4 105.3 691.9 100.6 706.4 99.1 720.9 98.7 735.4"/><path d="M98.5 10.5 98.5 39.5 98.5 68.5 98.5 97.5 98.5 126.5 98.5 155.5 98.5 184.5 98.5 199.0 98.5 213.5 98.5 228.0 98.5 242.5 98.5 257.0 98.5 271.5 98.5 286.0 98.5 300.5 98.5 315.0 98.5 329.5 98.5 344.0 98.5 358.5 98.5 372.9 98.5 387.4 98.5 401.9 98.5 416.4 98.5 430.9 98.5 445.4 98.5 459.9 98.6 474.4 98.6 488.9 98.8 503.4 99.3 517.9 100.3 532.4 102.7 546.9 108.4 561.4 121.6 575.9 150.9 590.4 210.7 604.9 307.1 619.4 376.0 633.9 290.0 648.4 216.9 662.9 167.9 677.4 137.7 691.9 120.0 706.4 108.9 720.9 103.1 735.4"/><path d="M98.5 10.5 98.5 39.5 98.5 68.5 98.5 97.5 98.5 126.5 98.5 155.5 98.5 184.5 98.5 199.0 98.5 213.5 98.5 228.0 98.5 242.5 98.5 257.0 98.5 271.5 98.5 286.0 98.5 300.5 98.5 315.0 98.5 329.5 98.5 344.0 98.5 358.5 98.5 372.9 98.5 387.4 98.5 401.9 98.5 416.4 98.6 430.9 98.6 445.4 98.7 459.9 99.0 474.4 99.5 488.9 100.5 503.4 102.7 517.9 107.2 532.4 116.3 546.9 134.8 561.4 171.3 575.9 240.4 590.4 358.3 604.9 516.6 619.4 614.1 633.9 200.7 648.4 111.0 662.9 99.7 677.4 98.6 691.9 98.5 706.4 98.5 720.9 98.5 735.4"/><path d="M98.5 10.5 98.5 39.5 98.5 68.5 98.5 97.5 98.5 126.5 98.5 155.5 98.5 184.5 98.5 199.0 98.5 213.5 98.5 228.0 98.5 242.5 98.5 257.0 98.5 271.5 98.5 286.0 98.5 300.5 98.5 315.0 98.5 329.5 98.5 344.0 98.5 358.5 98.5 372.9 98.5 387.4 98.5 401.9 98.5 416.4 98.5 430.9 98.6 445.4 98.7 459.9 98.8 474.4 99.2 488.9 99.9 503.4 101.3 517.9 104.4 532.4 110.7 546.9 123.6 561.4 149.5 575.9 198.7 590.4 283.7 604.9 399.2 619.4 470.9 633.9 302.9 648.4 192.4 662.9 138.1 677.4 114.2 691.9 104.4 706.4 100.7 720.9 99.3 735.4"/><path d="M98.5 10.5 98.5 39.5 98.5 68.5 98.5 97.5 98.5 126.5 98.5 155.5 98.5 184.5 98.5 199.0 98.5 213.5 98.5 228.0 98.5 242.5 98.5 257.0 98.5 271.5 98.5 286.0 98.5 300.5 98.5 315.0 98.5 329.5 98.5 344.0 98.5 358.5 98.5 372.9 98.5 387.4 98.5 401.9 98.5 416.4 98.6 430.9 98.6 445.4 98.7 459.9 98.9 474.4 99.4 488.9 100.3 503.4 102.1 517.9 105.8 532.4 113.2 546.9 127.9 561.4 156.4 575.9 209.2 590.4 297.3 604.9 413.1 619.4 483.1 633.9 364.3 648.4 263.1 662.9 195.2 677.4 146.6 691.9 121.2 706.4 108.9 720.9 103.1 735.4"/><path d="M98.5 10.5 98.5 39.5 98.5 68.5 98.5 97.5 98.5 126.5 98.5 155.5 98.5 184.5 98.5 199.0 98.5 213.5 98.5 228.0 98.5 242.5 98.5 257.0 98.5 271.5 98.5 286.0 98.5 300.5 98.5 315.0 98.5 329.5 98.5 344.0 98.5 358.5 98.5 372.9 98.5 387.4 98.5 401.9 98.5 416.4 98.5 430.9 98.5 445.4 98.6 459.9 98.7 474.4 98.9 488.9 99.5 503.4 100.7 517.9 103.4 532.4 109.4 546.9 122.8 561.4 151.9 575.9 212.7 590.4 328.4 604.9 502.1 619.4 619.1 633.9 201.2 648.4 111.0 662.9 99.7 677.4 98.6 691.9 98.5 706.4 98.5 720.9 98.5 735.4"/><path d="M98.5 10.5 98.5 39.5 98.5 68.5 98.5 97.5 98.5 126.5 98.5 155.5 98.5 184.5 98.5 199.0 98.5 213.5 98.5 228.0 98.5 242.5 98.5 257.0 98.5 271.5 98.5 286.0 98.5 300.5 98.5 315.0 98.5 329.5 98.5 344.0 98.5 358.5 98.5 372.9 98.5 387.4 98.5 401.9 98.5 416.4 98.5 430.9 98.5 445.4 98.5 459.9 98.5 474.4 98.6 488.9 98.8 503.4 99.2 517.9 100.3 532.4 103.0 546.9 110.0 561.4 127.5 575.9 170.0 590.4 265.1 604.9 434.1 619.4 565.3 633.9 242.2 648.4 129.7 662.9 104.2 677.4 99.4 691.9 98.6 706.4 98.5 720.9 98.5 735.4"/><path d="M98.5 10.5 98.5 39.5 98.5 68.5 98.5 97.5 98.5 126.5 98.5 155.5 98.5 184.5 98.5 199.0 98.5 213.5 98.5 228.0 98.5 242.5 98.5 257.0 98.5 271.5 98.5 286.0 98.5 300.5 98.5 315.0 98.5 329.5 98.5 344.0 98.5 358.5 98.5 372.9 98.5 387.4 98.5 401.9 98.5 416.4 98.5 430.9 98.5 445.4 98.5 459.9 98.5 474.4 98.6 488.9 98.7 503.4 99.0 517.9 99.7 532.4 101.7 546.9 107.0 561.4 120.4 575.9 153.8 590.4 231.0 604.9 372.8 619.4 485.8 633.9 215.7 648.4 123.4 662.9 102.9 677.4 99.2 691.9 98.6 706.4 98.5 720.9 98.5 735.4"/><path d="M98.5 10.5 98.5 39.5 98.5 68.5 98.5 97.5 98.5 126.5 98.5 155.5 98.5 184.5 98.5 199.0 98.5 213.5 98.5 228.0 98.5 242.5 98.5 257.0 98.5 271.5 98.5 286.0 98.5 300.5 98.5 315.0 98.5 329.5 98.5 344.0 98.5 358.5 98.5 372.9 98.5 387.4 98.5 401.9 98.5 416.4 98.6 430.9 98.6 445.4 98.7 459.9 99.0 474.4 99.5 488.9 100.6 503.4 102.8 517.9 107.4 532.4 116.9 546.9 136.2 561.4 174.7 575.9 248.0 590.4 374.2 604.9 545.1 619.4 651.1 633.9 305.3 648.4 156.2 662.9 112.5 677.4 101.6 691.9 99.1 706.4 98.6 720.9 98.5 735.4"/><path d="M98.5 10.5 98.5 39.5 98.5 68.5 98.5 97.5 98.5 126.5 98.5 155.5 98.5 184.5 98.5 199.0 98.5 213.5 98.5 228.0 98.5 242.5 98.5 257.0 98.5 271.5 98.5 286.0 98.5 300.5 98.5 315.0 98.5 329.5 98.5 344.0 98.5 358.5 98.5 372.9 98.5 387.4 98.5 401.9 98.5 416.4 98.5 430.9 98.6 445.4 98.6 459.9 98.8 474.4 99.1 488.9 99.8 503.4 101.3 517.9 104.7 532.4 111.9 546.9 127.6 561.4 160.5 575.9 227.1 590.4 349.4 604.9 526.2 619.4 641.8 633.9 432.2 648.4 275.8 662.9 186.4 677.4 140.0 691.9 117.3 706.4 106.8 720.9 102.0 735.4"/><path d="M98.5 10.5 98.5 39.5 98.5 68.5 98.5 97.5 98.5 126.5 98.5 155.5 98.5 184.5 98.5 199.0 98.5 213.5 98.5 228.0 98.5 242.5 98.5 257.0 98.5 271.5 98.5 286.0 98.5 300.5 98.5 315.0 98.5 329.5 98.5 344.0 98.5 358.5 98.5 372.9 98.5 387.4 98.5 401.9 98.5 416.4 98.5 430.9 98.5 445.4 98.6 459.9 98.7 474.4 98.8 488.9 99.3 503.4 100.2 517.9 102.3 532.4 106.9 546.9 117.1 561.4 139.1 575.9 184.7 590.4 270.7 604.9 398.4 619.4 483.8 633.9 307.8 648.4 193.3 662.9 137.9 677.4 113.9 691.9 104.2 706.4 100.5 720.9 99.2 735.4"/><path d="M98.5 10.5 98.5 39.5 98.5 68.5 98.5 97.5 98.5 126.5 98.5 155.5 98.5 184.5 98.5 199.0 98.5 213.5 98.5 228.0 98.5 242.5 98.5 257.0 98.5 271.5 98.5 286.0 98.5 300.5 98.5 315.0 98.5 329.5 98.5 344.0 98.5 358.5 98.5 372.9 98.5 387.4 98.5 401.9 98.5 416.4 98.5 430.9 98.5 445.4 98.5 459.9 98.6 474.4 98.6 488.9 98.9 503.4 99.4 517.9 100.6 532.4 103.4 546.9 110.3 561.4 126.4 575.9 162.9 590.4 238.4 604.9 362.4 619.4 452.4 633.9 329.4 648.4 231.2 662.9 170.3 677.4 135.7 691.9 117.1 706.4 107.6 720.9 102.8 735.4"/><path d="M98.5 10.5 98.5 39.5 98.5 68.5 98.5 97.5 98.5 126.5 98.5 155.5 98.5 184.5 98.5 199.0 98.5 213.5 98.5 228.0 98.5 242.5 98.5 257.0 98.5 271.5 98.5 286.0 98.5 300.5 98.5 315.0 98.5 329.5 98.5 344.0 98.5 358.5 98.5 372.9 98.5 387.4 98.5 401.9 98.5 416.4 98.5 430.9 98.6 445.4 98.7 459.9 98.9 474.4 99.2 488.9 100.0 503.4 101.6 517.9 104.8 532.4 111.3 546.9 124.6 561.4 150.6 575.9 199.5 590.4 282.6 604.9 393.5 619.4 461.6 633.9 340.1 648.4 240.9 662.9 177.7 677.4 140.8 691.9 120.4 706.4 108.9 720.9 103.1 735.4"/><path d="M98.5 10.5 98.5 39.5 98.5 68.5 98.5 97.5 98.5 126.5 98.5 155.5 98.5 184.5 98.5 199.0 98.5 213.5 98.5 228.0 98.5 242.5 98.5 257.0 98.5 271.5 98.5 286.0 98.5 300.5 98.5 315.0 98.5 329.5 98.5 344.0 98.5 358.5 98.5 372.9 98.5 387.4 98.5 401.9 98.5 416.4 98.5 430.9 98.5 445.4 98.6 459.9 98.6 474.4 98.8 488.9 99.1 503.4 99.8 517.9 101.4 532.4 104.9 546.9 112.9 561.4 130.1 575.9 166.2 590.4 235.0 604.9 338.3 619.4 408.0 633.9 264.9 648.4 172.9 662.9 128.9 677.4 110.2 691.9 102.8 706.4 100.0 720.9 99.0 735.4"/><path d="M98.5 10.5 98.5 39.5 98.5 68.5 98.5 97.5 98.5 126.5 98.5 155.5 98.5 184.5 98.5 199.0 98.5 213.5 98.5 228.0 98.5 242.5 98.5 257.0 98.5 271.5 98.5 286.0 98.5 300.5 98.5 315.0 98.5 329.5 98.5 344.0 98.5 358.5 98.5 372.9 98.5 387.4 98.5 401.9 98.5 416.4 98.5 430.9 98.5 445.4 98.6 459.9 98.7 474.4 98.8 488.9 99.3 503.4 100.2 517.9 102.2 532.4 106.6 546.9 116.1 561.4 136.6 575.9 178.5 590.4 256.6 604.9 371.3 619.4 447.3 633.9 163.2 648.4 105.8 662.9 99.1 677.4 98.5 691.9 98.5 706.4 98.5 720.9 98.5 735.4"/><path d="M98.5 10.5 98.5 39.5 98.5 68.5 98.5 97.5 98.5 126.5 98.5 155.5 98.5 184.5 98.5 199.0 98.5 213.5 98.5 228.0 98.5 242.5 98.5 257.0 98.5 271.5 98.5 286.0 98.5 300.5 98.5 315.0 98.5 329.5 98.5 344.0 98.5 358.5 98.5 372.9 98.5 387.4 98.5 401.9 98.5 416.4 98.5 430.9 98.5 445.4 98.5 459.9 98.5 474.4 98.6 488.9 98.7 503.4 99.0 517.9 99.7 532.4 101.6 546.9 106.2 561.4 117.4 575.9 144.0 590.4 202.0 604.9 302.4 619.4 378.5 633.9 244.0 648.4 160.7 662.9 122.7 677.4 107.3 691.9 101.6 706.4 99.5 720.9 98.8 735.4"/><path d="M98.5 10.5 98.5 39.5 98.5 68.5 98.5 97.5 98.5 126.5 98.5 155.5 98.5 184.5 98.5 199.0 98.5 213.5 98.5 228.0 98.5 242.5 98.5 257.0 98.5 271.5 98.5 286.0 98.5 300.5 98.5 315.0 98.5 329.5 98.5 344.0 98.5 358.5 98.5 372.9 98.5 387.4 98.5 401.9 98.5 416.4 98.5 430.9 98.5 445.4 98.5 459.9 98.5 474.4 98.6 488.9 98.7 503.4 99.1 517.9 100.0 532.4 102.3 546.9 108.4 561.4 123.9 575.9 162.6 590.4 251.5 604.9 413.8 619.4 542.7 633.9 348.2 648.4 216.7 662.9 150.1 677.4 119.7 691.9 106.8 706.4 101.7 720.9 99.7 735.4"/><path d="M98.5 10.5 98.5 39.5 98.5 68.5 98.5 97.5 98.5 126.5 98.5 155.5 98.5 184.5 98.5 199.0 98.5 213.5 98.5 228.0 98.5 242.5 98.5 257.0 98.5 271.5 98.5 286.0 98.5 300.5 98.5 315.0 98.5 329.5 98.5 344.0 98.5 358.5 98.5 372.9 98.5 387.4 98.5 401.9 98.5 416.4 98.5 430.9 98.6 445.4 98.7 459.9 98.8 474.4 99.2 488.9 100.0 503.4 101.6 517.9 104.9 532.4 111.8 546.9 125.7 561.4 153.5 575.9 206.5 590.4 297.6 604.9 421.1 619.4 497.6 633.9 328.3 648.4 210.8 662.9 149.2 677.4 120.2 691.9 107.4 706.4 102.0 720.9 99.8 735.4"/><path d="M98.5 10.5 98.5 39.5 98.5 68.5 98.5 97.5 98.5 126.5 98.5 155.5 98.5 184.5 98.5 199.0 98.5 213.5 98.5 228.0 98.5 242.5 98.5 257.0 98.5 271.5 98.5 286.0 98.5 300.5 98.5 315.0 98.5 329.5 98.5 344.0 98.5 358.5 98.5 372.9 98.5 387.4 98.5 401.9 98.5 416.4 98.5 430.9 98.5 445.4 98.6 459.9 98.7 474.4 99.0 488.9 99.5 503.4 100.7 517.9 103.5 532.4 109.5 546.9 122.6 561.4 150.9 575.9 209.1 590.4 318.1 604.9 479.0 619.4 586.1 633.9 431.3 648.4 289.5 662.9 196.6 677.4 146.6 691.9 121.2 706.4 108.9 720.9 103.1 735.4"/><path d="M98.5 10.5 98.5 39.5 98.5 68.5 98.5 97.5 98.5 126.5 98.5 155.5 98.5 184.5 98.5 199.0 98.5 213.5 98.5 228.0 98.5 242.5 98.5 257.0 98.5 271.5 98.5 286.0 98.5 300.5 98.5 315.0 98.5 329.5 98.5 344.0 98.5 358.5 98.5 372.9 98.5 387.4 98.5 401.9 98.5 416.4 98.5 430.9 98.6 445.4 98.7 459.9 98.9 474.4 99.2 488.9 100.0 503.4 101.6 517.9 105.0 532.4 111.8 546.9 125.6 561.4 152.8 575.9 204.2 590.4 291.8 604.9 409.4 619.4 481.7 633.9 163.3 648.4 105.0 662.9 99.0 677.4 98.5 691.9 98.5 706.4 98.5 720.9 98.5 735.4"/><path d="M98.5 10.5 98.5 39.5 98.5 68.5 98.5 97.5 98.5 126.5 98.5 155.5 98.5 184.5 98.5 199.0 98.5 213.5 98.5 228.0 98.5 242.5 98.5 257.0 98.5 271.5 98.5 286.0 98.5 300.5 98.5 315.0 98.5 329.5 98.5 344.0 98.5 358.5 98.5 372.9 98.5 387.4 98.5 401.9 98.5 416.4 98.5 430.9 98.5 445.4 98.5 459.9 98.5 474.4 98.6 488.9 98.8 503.4 99.2 517.9 100.2 532.4 102.6 546.9 108.7 561.4 123.5 575.9 158.5 590.4 234.3 604.9 364.7 619.4 463.1 633.9 211.6 648.4 123.2 662.9 103.1 677.4 99.3 691.9 98.6 706.4 98.5 720.9 98.5 735.4"/><path d="M98.5 10.5 98.5 39.5 98.5 68.5 98.5 97.5 98.5 126.5 98.5 155.5 98.5 184.5 98.5 199.0 98.5 213.5 98.5 228.0 98.5 242.5 98.5 257.0 98.5 271.5 98.5 286.0 98.5 300.5 98.5 315.0 98.5 329.5 98.5 344.0 98.5 358.5 98.5 372.9 98.5 387.4 98.5 401.9 98.5 416.4 98.5 430.9 98.5 445.4 98.5 459.9 98.5 474.4 98.6 488.9 98.8 503.4 99.3 517.9 100.5 532.4 103.5 546.9 111.1 561.4 129.9 575.9 174.8 590.4 273.8 604.9 446.8 619.4 579.1 633.9 214.4 648.4 116.8 662.9 100.9 677.4 98.8 691.9 98.5 706.4 98.5 720.9 98.5 735.4"/><path d="M98.5 10.5 98.5 39.5 98.5 68.5 98.5 97.5 98.5 126.5 98.5 155.5 98.5 184.5 98.5 199.0 98.5 213.5 98.5 228.0 98.5 242.5 98.5 257.0 98.5 271.5 98.5 286.0 98.5 300.5 98.5 315.0 98.5 329.5 98.5 344.0 98.5 358.5 98.5 372.9 98.5 387.4 98.5 401.9 98.5 416.4 98.5 430.9 98.5 445.4 98.5 459.9 98.6 474.4 98.7 488.9 98.9 503.4 99.5 517.9 100.9 532.4 104.5 546.9 113.4 561.4 134.7 575.9 184.6 590.4 291.9 604.9 474.6 619.4 611.4 633.9 292.5 648.4 153.5 662.9 112.1 677.4 101.5 691.9 99.1 706.4 98.6 720.9 98.5 735.4"/><path d="M98.5 10.5 98.5 39.5 98.5 68.5 98.5 97.5 98.5 126.5 98.5 155.5 98.5 184.5 98.5 199.0 98.5 213.5 98.5 228.0 98.5 242.5 98.5 257.0 98.5 271.5 98.5 286.0 98.5 300.5 98.5 315.0 98.5 329.5 98.5 344.0 98.5 358.5 98.5 372.9 98.5 387.4 98.5 401.9 98.5 416.4 98.5 430.9 98.5 445.4 98.5 459.9 98.5 474.4 98.6 488.9 98.7 503.4 98.9 517.9 99.5 532.4 101.2 546.9 105.6 561.4 116.8 575.9 144.8 590.4 209.6 604.9 328.5 619.4 423.3 633.9 209.2 648.4 125.9 662.9 104.3 677.4 99.6 691.9 98.7 706.4 98.5 720.9 98.5 735.4"/><path d="M98.5 10.5 98.5 39.5 98.5 68.5 98.5 97.5 98.5 126.5 98.5 155.5 98.5 184.5 98.5 199.0 98.5 213.5 98.5 228.0 98.5 242.5 98.5 257.0 98.5 271.5 98.5 286.0 98.5 300.5 98.5 315.0 98.5 329.5 98.5 344.0 98.5 358.5 98.5 372.9 98.5 387.4 98.5 401.9 98.5 416.4 98.5 430.9 98.5 445.4 98.6 459.9 98.7 474.4 98.9 488.9 99.5 503.4 100.7 517.9 103.4 532.4 109.6 546.9 123.4 561.4 153.5 575.9 216.8 590.4 337.9 604.9 520.9 619.4 644.9 633.9 296.9 648.4 151.8 662.9 110.9 677.4 101.1 691.9 99.0 706.4 98.6 720.9 98.5 735.4"/><path d="M98.5 10.5 98.5 39.5 98.5 68.5 98.5 97.5 98.5 126.5 98.5 155.5 98.5 184.5 98.5 199.0 98.5 213.5 98.5 228.0 98.5 242.5 98.5 257.0 98.5 271.5 98.5 286.0 98.5 300.5 98.5 315.0 98.5 329.5 98.5 344.0 98.5 358.5 98.5 372.9 98.5 387.4 98.5 401.9 98.5 416.4 98.5 430.9 98.5 445.4 98.5 459.9 98.6 474.4 98.6 488.9 98.8 503.4 99.3 517.9 100.5 532.4 103.5 546.9 110.8 561.4 128.4 575.9 169.4 590.4 257.2 604.9 406.3 619.4 517.5 633.9 240.1 648.4 133.1 662.9 105.8 677.4 99.9 691.9 98.7 706.4 98.5 720.9 98.5 735.4"/><path d="M98.5 10.5 98.5 39.5 98.5 68.5 98.5 97.5 98.5 126.5 98.5 155.5 98.5 184.5 98.5 199.0 98.5 213.5 98.5 228.0 98.5 242.5 98.5 257.0 98.5 271.5 98.5 286.0 98.5 300.5 98.5 315.0 98.5 329.5 98.5 344.0 98.5 358.5 98.5 372.9 98.5 387.4 98.5 401.9 98.5 416.4 98.5 430.9 98.5 445.4 98.5 459.9 98.5 474.4 98.6 488.9 98.7 503.4 99.0 517.9 99.8 532.4 102.0 546.9 107.7 561.4 122.4 575.9 159.4 590.4 245.3 604.9 404.1 619.4 531.5 633.9 385.9 648.4 267.4 662.9 192.2 677.4 146.6 691.9 121.2 706.4 108.9 720.9 103.1 735.4"/><path d="M98.5 10.5 98.5 39.5 98.5 68.5 98.5 97.5 98.5 126.5 98.5 155.5 98.5 184.5 98.5 199.0 98.5 213.5 98.5 228.0 98.5 242.5 98.5 257.0 98.5 271.5 98.5 286.0 98.5 300.5 98.5 315.0 98.5 329.5 98.5 344.0 98.5 358.5 98.5 372.9 98.5 387.4 98.5 401.9 98.5 416.4 98.5 430.9 98.5 445.4 98.5 459.9 98.6 474.4 98.7 488.9 99.0 503.4 99.7 517.9 101.4 532.4 105.3 546.9 114.2 561.4 134.5 575.9 178.9 590.4 267.8 604.9 408.2 619.4 507.0 633.9 323.1 648.4 201.9 662.9 142.2 677.4 115.9 691.9 105.1 706.4 100.9 720.9 99.3 735.4"/><path d="M98.5 10.5 98.5 39.5 98.5 68.5 98.5 97.5 98.5 126.5 98.5 155.5 98.5 184.5 98.5 199.0 98.5 213.5 98.5 228.0 98.5 242.5 98.5 257.0 98.5 271.5 98.5 286.0 98.5 300.5 98.5 315.0 98.5 329.5 98.5 344.0 98.5 358.5 98.5 372.9 98.5 387.4 98.5 401.9 98.5 416.4 98.5 430.9 98.5 445.4 98.5 459.9 98.6 474.4 98.7 488.9 99.0 503.4 99.5 517.9 100.9 532.4 103.8 546.9 110.5 561.4 125.1 575.9 156.0 590.4 215.3 604.9 305.4 619.4 366.6 633.9 225.1 648.4 146.3 662.9 114.7 677.4 103.6 691.9 100.0 706.4 98.9 720.9 98.6 735.4"/><path d="M98.5 10.5 98.5 39.5 98.5 68.5 98.5 97.5 98.5 126.5 98.5 155.5 98.5 184.5 98.5 199.0 98.5 213.5 98.5 228.0 98.5 242.5 98.5 257.0 98.5 271.5 98.5 286.0 98.5 300.5 98.5 315.0 98.5 329.5 98.5 344.0 98.5 358.5 98.5 372.9 98.5 387.4 98.5 401.9 98.5 416.4 98.5 430.9 98.5 445.4 98.5 459.9 98.6 474.4 98.8 488.9 99.1 503.4 100.0 517.9 102.0 532.4 106.7 546.9 117.7 561.4 142.7 575.9 197.8 590.4 308.7 604.9 485.2 619.4 609.9 633.9 421.8 648.4 276.9 662.9 190.7 677.4 144.0 691.9 120.1 706.4 108.5 720.9 103.0 735.4"/><path d="M98.5 10.5 98.5 39.5 98.5 68.5 98.5 97.5 98.5 126.5 98.5 155.5 98.5 184.5 98.5 199.0 98.5 213.5 98.5 228.0 98.5 242.5 98.5 257.0 98.5 271.5 98.5 286.0 98.5 300.5 98.5 315.0 98.5 329.5 98.5 344.0 98.5 358.5 98.5 372.9 98.5 387.4 98.5 401.9 98.5 416.4 98.5 430.9 98.5 445.4 98.5 459.9 98.6 474.4 98.6 488.9 98.9 503.4 99.4 517.9 100.6 532.4 103.6 546.9 110.8 561.4 128.0 575.9 167.3 590.4 250.2 604.9 388.3 619.4 489.9 633.9 359.8 648.4 253.1 662.9 184.9 677.4 144.9 691.9 121.2 706.4 108.9 720.9 103.1 735.4"/><path d="M98.5 10.5 98.5 39.5 98.5 68.5 98.5 97.5 98.5 126.5 98.5 155.5 98.5 184.5 98.5 199.0 98.5 213.5 98.5 228.0 98.5 242.5 98.5 257.0 98.5 271.5 98.5 286.0 98.5 300.5 98.5 315.0 98.5 329.5 98.5 344.0 98.5 358.5 98.5 372.9 98.5 387.4 98.5 401.9 98.5 416.4 98.5 430.9 98.5 445.4 98.5 459.9 98.6 474.4 98.8 488.9 99.1 503.4 100.0 517.9 102.0 532.4 106.6 546.9 117.6 561.4 143.0 575.9 199.3 590.4 313.9 604.9 498.1 619.4 629.6 633.9 434.7 648.4 284.2 662.9 194.6 677.4 146.0 691.9 121.1 706.4 108.9 720.9 103.1 735.4"/><path d="M98.5 10.5 98.5 39.5 98.5 68.5 98.5 97.5 98.5 126.5 98.5 155.5 98.5 184.5 98.5 199.0 98.5 213.5 98.5 228.0 98.5 242.5 98.5 257.0 98.5 271.5 98.5 286.0 98.5 300.5 98.5 315.0 98.5 329.5 98.5 344.0 98.5 358.5 98.5 372.9 98.5 387.4 98.5 401.9 98.5 416.4 98.5 430.9 98.5 445.4 98.5 459.9 98.6 474.4 98.7 488.9 98.9 503.4 99.5 517.9 100.8 532.4 103.7 546.9 110.4 561.4 125.2 575.9 156.9 590.4 218.7 604.9 313.8 619.4 379.2 633.9 145.9 648.4 103.2 662.9 98.9 677.4 98.5 691.9 98.5 706.4 98.5 720.9 98.5 735.4"/><path d="M98.5 10.5 98.5 39.5 98.5 68.5 98.5 97.5 98.5 126.5 98.5 155.5 98.5 184.5 98.5 199.0 98.5 213.5 98.5 228.0 98.5 242.5 98.5 257.0 98.5 271.5 98.5 286.0 98.5 300.5 98.5 315.0 98.5 329.5 98.5 344.0 98.5 358.5 98.5 372.9 98.5 387.4 98.5 401.9 98.5 416.4 98.5 430.9 98.5 445.4 98.5 459.9 98.6 474.4 98.8 488.9 99.1 503.4 99.9 517.9 101.6 532.4 105.7 546.9 115.0 561.4 136.0 575.9 181.3 590.4 270.8 604.9 410.5 619.4 507.6 633.9 175.0 648.4 107.2 662.9 99.3 677.4 98.6 691.9 98.5 706.4 98.5 720.9 98.5 735.4"/><path d="M98.5 10.5 98.5 39.5 98.5 68.5 98.5 97.5 98.5 126.5 98.5 155.5 98.5 184.5 98.5 199.0 98.5 213.5 98.5 228.0 98.5 242.5 98.5 257.0 98.5 271.5 98.5 286.0 98.5 300.5 98.5 315.0 98.5 329.5 98.5 344.0 98.5 358.5 98.5 372.9 98.5 387.4 98.5 401.9 98.5 416.4 98.6 430.9 98.6 445.4 98.7 459.9 99.0 474.4 99.5 488.9 100.6 503.4 102.7 517.9 107.1 532.4 115.9 546.9 133.6 561.4 168.2 575.9 232.8 590.4 341.7 604.9 486.0 619.4 574.0 633.9 191.1 648.4 109.6 662.9 99.6 677.4 98.6 691.9 98.5 706.4 98.5 720.9 98.5 735.4"/><path d="M98.5 10.5 98.5 39.5 98.5 68.5 98.5 97.5 98.5 126.5 98.5 155.5 98.5 184.5 98.5 199.0 98.5 213.5 98.5 228.0 98.5 242.5 98.5 257.0 98.5 271.5 98.5 286.0 98.5 300.5 98.5 315.0 98.5 329.5 98.5 344.0 98.5 358.5 98.5 372.9 98.5 387.4 98.5 401.9 98.5 416.4 98.5 430.9 98.5 445.4 98.5 459.9 98.6 474.4 98.6 488.9 98.8 503.4 99.3 517.9 100.6 532.4 103.8 546.9 111.9 561.4 132.0 575.9 180.3 590.4 287.1 604.9 475.0 619.4 619.4 633.9 431.6 648.4 285.0 662.9 196.5 677.4 146.6 691.9 121.2 706.4 108.9 720.9 103.1 735.4"/><path d="M98.5 10.5 98.5 39.5 98.5 68.5 98.5 97.5 98.5 126.5 98.5 155.5 98.5 184.5 98.5 199.0 98.5 213.5 98.5 228.0 98.5 242.5 98.5 257.0 98.5 271.5 98.5 286.0 98.5 300.5 98.5 315.0 98.5 329.5 98.5 344.0 98.5 358.5 98.5 372.9 98.5 387.4 98.5 401.9 98.5 416.4 98.5 430.9 98.6 445.4 98.6 459.9 98.8 474.4 99.1 488.9 99.9 503.4 101.4 517.9 104.8 532.4 111.9 546.9 126.8 561.4 157.9 575.9 219.3 590.4 329.7 604.9 485.6 619.4 585.8 633.9 390.6 648.4 248.9 662.9 170.5 677.4 131.2 691.9 112.8 706.4 104.5 720.9 101.0 735.4"/><path d="M98.5 10.5 98.5 39.5 98.5 68.5 98.5 97.5 98.5 126.5 98.5 155.5 98.5 184.5 98.5 199.0 98.5 213.5 98.5 228.0 98.5 242.5 98.5 257.0 98.5 271.5 98.5 286.0 98.5 300.5 98.5 315.0 98.5 329.5 98.5 344.0 98.5 358.5 98.5 372.9 98.5 387.4 98.5 401.9 98.5 416.4 98.5 430.9 98.5 445.4 98.6 459.9 98.7 474.4 98.9 488.9 99.3 503.4 100.4 517.9 102.8 532.4 108.4 546.9 121.2 561.4 149.8 575.9 211.4 590.4 332.5 604.9 520.6 619.4 650.9 633.9 248.7 648.4 126.2 662.9 102.8 677.4 99.1 691.9 98.6 706.4 98.5 720.9 98.5 735.4"/><path d="M98.5 10.5 98.5 39.5 98.5 68.5 98.5 97.5 98.5 126.5 98.5 155.5 98.5 184.5 98.5 199.0 98.5 213.5 98.5 228.0 98.5 242.5 98.5 257.0 98.5 271.5 98.5 286.0 98.5 300.5 98.5 315.0 98.5 329.5 98.5 344.0 98.5 358.5 98.5 372.9 98.5 387.4 98.5 401.9 98.5 416.4 98.5 430.9 98.5 445.4 98.5 459.9 98.6 474.4 98.7 488.9 99.1 503.4 99.8 517.9 101.3 532.4 104.9 546.9 112.9 561.4 130.5 575.9 167.8 590.4 239.6 604.9 348.7 619.4 423.1 633.9 246.9 648.4 152.2 662.9 115.9 677.4 103.7 691.9 100.0 706.4 98.9 720.9 98.6 735.4"/><path d="M98.5 10.5 98.5 39.5 98.5 68.5 98.5 97.5 98.5 126.5 98.5 155.5 98.5 184.5 98.5 199.0 98.5 213.5 98.5 228.0 98.5 242.5 98.5 257.0 98.5 271.5 98.5 286.0 98.5 300.5 98.5 315.0 98.5 329.5 98.5 344.0 98.5 358.5 98.5 372.9 98.5 387.4 98.5 401.9 98.5 416.4 98.5 430.9 98.6 445.4 98.6 459.9 98.8 474.4 99.1 488.9 99.7 503.4 101.0 517.9 103.7 532.4 109.3 546.9 120.5 561.4 142.9 575.9 185.5 590.4 258.6 604.9 357.2 619.4 418.3 633.9 170.3 648.4 108.9 662.9 99.7 677.4 98.6 691.9 98.5 706.4 98.5 720.9 98.5 735.4"/><path d="M98.5 10.5 98.5 39.5 98.5 68.5 98.5 97.5 98.5 126.5 98.5 155.5 98.5 184.5 98.5 199.0 98.5 213.5 98.5 228.0 98.5 242.5 98.5 257.0 98.5 271.5 98.5 286.0 98.5 300.5 98.5 315.0 98.5 329.5 98.5 344.0 98.5 358.5 98.5 372.9 98.5 387.4 98.5 401.9 98.5 416.4 98.5 430.9 98.5 445.4 98.5 459.9 98.6 474.4 98.7 488.9 99.1 503.4 99.9 517.9 101.7 532.4 106.2 546.9 116.9 561.4 141.8 575.9 197.8 590.4 313.2 604.9 501.5 619.4 637.5 633.9 326.2 648.4 172.9 662.9 120.0 677.4 104.2 691.9 99.9 706.4 98.8 720.9 98.6 735.4"/><path d="M98.5 10.5 98.5 39.5 98.5 68.5 98.5 97.5 98.5 126.5 98.5 155.5 98.5 184.5 98.5 199.0 98.5 213.5 98.5 228.0 98.5 242.5 98.5 257.0 98.5 271.5 98.5 286.0 98.5 300.5 98.5 315.0 98.5 329.5 98.5 344.0 98.5 358.5 98.5 372.9 98.5 387.4 98.5 401.9 98.5 416.4 98.5 430.9 98.5 445.4 98.6 459.9 98.6 474.4 98.8 488.9 99.1 503.4 100.0 517.9 101.9 532.4 106.4 546.9 116.6 561.4 139.6 575.9 189.2 590.4 287.2 604.9 440.0 619.4 546.3 633.9 405.6 648.4 286.7 662.9 196.6 677.4 146.6 691.9 121.2 706.4 108.9 720.9 103.1 735.4"/><path d="M98.5 10.5 98.5 39.5 98.5 68.5 98.5 97.5 98.5 126.5 98.5 155.5 98.5 184.5 98.5 199.0 98.5 213.5 98.5 228.0 98.5 242.5 98.5 257.0 98.5 271.5 98.5 286.0 98.5 300.5 98.5 315.0 98.5 329.5 98.5 344.0 98.5 358.5 98.5 372.9 98.5 387.4 98.5 401.9 98.5 416.4 98.6 430.9 98.6 445.4 98.7 459.9 99.0 474.4 99.4 488.9 100.4 503.4 102.3 517.9 106.1 532.4 113.6 546.9 128.3 561.4 156.7 575.9 208.4 590.4 293.5 604.9 403.7 619.4 469.6 633.9 313.1 648.4 203.9 662.9 146.4 677.4 119.1 691.9 107.0 706.4 101.9 720.9 99.8 735.4"/><path d="M98.5 10.5 98.5 39.5 98.5 68.5 98.5 97.5 98.5 126.5 98.5 155.5 98.5 184.5 98.5 199.0 98.5 213.5 98.5 228.0 98.5 242.5 98.5 257.0 98.5 271.5 98.5 286.0 98.5 300.5 98.5 315.0 98.5 329.5 98.5 344.0 98.5 358.5 98.5 372.9 98.5 387.4 98.5 401.9 98.5 416.4 98.5 430.9 98.5 445.4 98.6 459.9 98.7 474.4 99.0 488.9 99.6 503.4 100.9 517.9 103.7 532.4 110.0 546.9 123.7 561.4 153.2 575.9 213.8 590.4 327.2 604.9 494.5 619.4 605.6 633.9 254.5 648.4 132.3 662.9 104.7 677.4 99.5 691.9 98.6 706.4 98.5 720.9 98.5 735.4"/><path d="M98.5 10.5 98.5 39.5 98.5 68.5 98.5 97.5 98.5 126.5 98.5 155.5 98.5 184.5 98.5 199.0 98.5 213.5 98.5 228.0 98.5 242.5 98.5 257.0 98.5 271.5 98.5 286.0 98.5 300.5 98.5 315.0 98.5 329.5 98.5 344.0 98.5 358.5 98.5 372.9 98.5 387.4 98.5 401.9 98.5 416.4 98.5 430.9 98.5 445.4 98.5 459.9 98.5 474.4 98.6 488.9 98.7 503.4 99.1 517.9 100.0 532.4 102.4 546.9 108.3 561.4 123.3 575.9 159.8 590.4 241.5 604.9 386.8 619.4 499.7 633.9 369.6 648.4 261.5 662.9 191.2 677.4 146.6 691.9 121.2 706.4 108.9 720.9 103.1 735.4"/></g><g fill="none" stroke="#800000" stroke-width="3.3" stroke-linejoin="miter"><path d="M98.5 10.5 98.5 25.0 98.5 39.5 98.5 54.0 98.5 68.5 98.5 83.0 98.6 97.5 98.6 112.0 98.7 126.5 98.8 141.0 99.0 155.5 99.3 170.0 99.9 184.5 101.0 199.0 102.9 213.5 103.9 228.0 105.3 242.5 107.0 257.0 109.0 271.5 111.6 286.0 114.8 300.5 118.7 315.0 123.5 329.5 129.4 344.0 136.6 358.5 145.2 372.9 155.5 387.4 167.6 401.9 181.6 416.4 197.6 430.9 215.2 445.4 233.8 459.9 252.5 474.4 269.6 488.9 283.1 503.4 290.4 517.9 291.0 523.2 249.8 532.4 243.7 546.9 221.5 561.0 327.6 599.8 257.0 614.3 171.1 628.8 136.4 643.3 104.0 657.8 98.5 672.3 98.5 677.4 98.5 691.9 98.5 706.4 98.5 720.9 98.5 735.4"/><path d="M98.5 10.5 98.5 25.0 98.5 39.5 98.5 54.0 98.5 68.5 98.5 83.0 98.6 97.5 98.6 112.0 98.8 126.5 99.0 141.0 99.3 155.5 99.9 170.0 100.9 184.5 102.7 199.0 105.9 213.5 107.7 228.0 110.0 242.5 112.9 257.0 116.4 271.5 120.8 286.0 126.3 300.5 133.0 315.0 141.2 329.5 151.1 344.0 163.2 358.5 177.5 372.9 194.5 387.4 214.0 401.9 236.2 416.4 260.5 430.9 285.9 445.4 311.0 459.9 333.2 474.4 349.6 488.9 356.5 503.4 356.5 504.4 309.0 517.9 251.0 532.4 173.2 546.9 158.4 561.0 211.3 596.7 175.9 611.2 133.4 625.7 117.8 640.2 100.8 654.7 98.5 669.2 98.5 677.4 98.5 691.9 98.5 706.4 98.5 720.9 98.5 735.4"/><path d="M98.5 10.5 98.5 25.0 98.5 39.5 98.5 54.0 98.5 68.5 98.5 83.0 98.5 97.5 98.6 112.0 98.6 126.5 98.7 141.0 98.9 155.5 99.2 170.0 99.8 184.5 100.9 199.0 102.8 213.5 104.0 228.0 105.6 242.5 107.7 257.0 110.3 271.5 113.7 286.0 118.0 300.5 123.5 315.0 130.5 329.5 139.3 344.0 150.4 358.5 164.0 372.9 180.7 387.4 200.8 401.9 224.3 416.4 250.9 430.9 279.7 445.4 308.6 459.9 334.5 474.4 352.8 488.9 358.4 501.2 257.4 532.4 167.4 546.9 98.5 586.6 98.5 590.4 98.5 604.9 98.5 619.4 98.5 633.9 98.5 648.4 98.5 662.9 98.5 677.4 98.5 691.9 98.5 706.4 98.5 720.9 98.5 735.4"/><path d="M98.5 10.5 98.5 25.0 98.5 39.5 98.5 54.0 98.5 68.5 98.5 83.0 98.5 97.5 98.5 112.0 98.5 126.5 98.6 141.0 98.6 155.5 98.7 170.0 98.9 184.5 99.3 199.0 100.1 213.5 100.7 228.0 101.4 242.5 102.5 257.0 103.9 271.5 105.8 286.0 108.5 300.5 112.0 315.0 116.7 329.5 123.1 344.0 131.5 358.5 142.7 372.9 157.2 387.4 175.8 401.9 199.2 416.4 227.5 430.9 260.2 445.4 295.3 459.9 328.5 474.4 353.0 488.9 360.2 500.5 270.3 532.4 244.9 546.9 224.0 557.6 301.3 606.2 245.9 620.7 182.4 635.2 131.1 649.7 101.1 664.2 98.5 678.7 98.5 691.9 98.5 706.4 98.5 720.9 98.5 735.4"/><path d="M98.5 10.5 98.5 25.0 98.5 39.5 98.5 54.0 98.5 68.5 98.5 83.0 98.5 97.5 98.5 112.0 98.6 126.5 98.6 141.0 98.7 155.5 98.8 170.0 99.1 184.5 99.7 199.0 100.7 213.5 101.4 228.0 102.4 242.5 103.7 257.0 105.5 271.5 107.8 286.0 110.9 300.5 114.9 315.0 120.3 329.5 127.3 344.0 136.5 358.5 148.3 372.9 163.4 387.4 182.4 401.9 205.6 416.4 233.3 430.9 264.6 445.4 297.7 459.9 328.9 474.4 352.2 488.9 360.3 502.0 248.5 532.4 235.7 546.9 205.8 565.2 293.2 597.8 230.6 612.3 157.0 626.8 127.7 641.3 107.0 655.8 98.5 670.3 98.5 677.4 98.5 691.9 98.5 706.4 98.5 720.9 98.5 735.4"/><path d="M98.5 10.5 98.5 25.0 98.5 39.5 98.5 54.0 98.5 68.5 98.5 83.0 98.5 97.5 98.5 112.0 98.5 126.5 98.5 141.0 98.6 155.5 98.6 170.0 98.8 184.5 99.0 199.0 99.5 213.5 99.9 228.0 100.5 242.5 101.3 257.0 102.3 271.5 103.8 286.0 105.9 300.5 108.7 315.0 112.6 329.5 117.9 344.0 125.1 358.5 134.9 372.9 148.0 387.4 165.2 401.9 187.4 416.4 215.2 430.9 248.4 445.4 285.3 459.9 321.7 474.4 350.0 488.9 360.1 501.9 301.7 532.4 201.5 546.9 191.2 569.5 271.6 599.2 225.0 613.7 157.8 628.2 130.2 642.7 102.1 657.2 98.5 671.7 98.5 677.4 98.5 691.9 98.5 706.4 98.5 720.9 98.5 735.4"/><path d="M98.5 10.5 98.5 25.0 98.5 39.5 98.5 54.0 98.5 68.5 98.5 83.0 98.6 97.5 98.6 112.0 98.7 126.5 98.9 141.0 99.2 155.5 99.7 170.0 100.6 184.5 102.3 199.0 105.3 213.5 107.2 228.0 109.5 242.5 112.6 257.0 116.4 271.5 121.2 286.0 127.3 300.5 134.9 315.0 144.3 329.5 156.0 344.0 170.3 358.5 187.6 372.9 208.0 387.4 231.6 401.9 258.0 416.4 286.2 430.9 314.4 445.4 339.5 459.9 357.5 474.4 363.7 487.7 242.5 532.4 201.3 546.9 168.5 566.1 219.8 606.1 189.3 620.6 147.4 635.1 122.4 649.6 100.6 664.1 98.5 678.6 98.5 691.9 98.5 706.4 98.5 720.9 98.5 735.4"/><path d="M98.5 10.5 98.5 25.0 98.5 39.5 98.5 54.0 98.5 68.5 98.5 83.0 98.5 97.5 98.5 112.0 98.6 126.5 98.6 141.0 98.8 155.5 99.0 170.0 99.3 184.5 100.0 199.0 101.2 213.5 102.1 228.0 103.1 242.5 104.5 257.0 106.3 271.5 108.6 286.0 111.6 300.5 115.5 315.0 120.5 329.5 126.8 344.0 134.9 358.5 145.0 372.9 157.6 387.4 173.0 401.9 191.6 416.4 213.3 430.9 237.7 445.4 263.8 459.9 289.2 474.4 310.5 488.9 323.2 503.4 324.8 509.9 275.8 517.9 227.7 532.4 136.6 546.9 98.5 559.7 98.5 561.4 98.5 575.9 98.5 590.4 98.5 604.9 98.5 619.4 98.5 633.9 98.5 648.4 98.5 662.9 98.5 677.4 98.5 691.9 98.5 706.4 98.5 720.9 98.5 735.4"/><path d="M98.5 10.5 98.5 25.0 98.5 39.5 98.5 54.0 98.5 68.5 98.5 83.0 98.5 97.5 98.6 112.0 98.6 126.5 98.8 141.0 99.0 155.5 99.4 170.0 100.1 184.5 101.3 199.0 103.6 213.5 105.1 228.0 107.1 242.5 109.6 257.0 112.8 271.5 117.0 286.0 122.3 300.5 129.1 315.0 137.6 329.5 148.4 344.0 161.9 358.5 178.4 372.9 198.4 387.4 222.0 401.9 249.0 416.4 278.5 430.9 308.6 445.4 336.0 459.9 356.3 474.4 363.7 488.3 255.2 532.4 250.5 546.9 260.6 558.5 338.2 598.6 261.9 613.1 181.6 627.6 130.5 642.1 102.7 656.6 98.5 671.1 98.5 677.4 98.5 691.9 98.5 706.4 98.5 720.9 98.5 735.4"/><path d="M98.5 10.5 98.5 25.0 98.5 39.5 98.5 54.0 98.5 68.5 98.5 83.0 98.5 97.5 98.6 112.0 98.6 126.5 98.7 141.0 98.9 155.5 99.3 170.0 99.9 184.5 101.0 199.0 103.0 213.5 104.3 228.0 105.9 242.5 108.1 257.0 110.8 271.5 114.4 286.0 118.9 300.5 124.6 315.0 131.9 329.5 141.0 344.0 152.4 358.5 166.5 372.9 183.8 387.4 204.4 401.9 228.5 416.4 255.8 430.9 285.1 445.4 314.4 459.9 340.5 474.4 358.5 488.9 363.7 500.5 234.1 532.4 164.4 546.9 132.6 564.5 217.4 604.4 179.6 618.9 144.3 633.4 117.3 647.9 104.0 662.4 98.5 676.9 98.5 677.4 98.5 691.9 98.5 706.4 98.5 720.9 98.5 735.4"/><path d="M98.5 10.5 98.5 25.0 98.5 39.5 98.5 54.0 98.5 68.5 98.5 83.0 98.5 97.5 98.5 112.0 98.5 126.5 98.6 141.0 98.6 155.5 98.7 170.0 98.8 184.5 99.1 199.0 99.6 213.5 100.0 228.0 100.5 242.5 101.1 257.0 102.0 271.5 103.1 286.0 104.7 300.5 106.7 315.0 109.3 329.5 112.8 344.0 117.4 358.5 123.4 372.9 131.0 387.4 140.9 401.9 153.3 416.4 168.6 430.9 187.1 445.4 208.4 459.9 231.8 474.4 255.1 488.9 275.1 503.4 286.9 517.9 288.1 523.8 200.6 532.4 168.4 546.9 140.3 562.4 196.6 598.7 158.8 613.2 133.6 627.7 111.1 642.2 99.9 656.7 98.5 671.2 98.5 677.4 98.5 691.9 98.5 706.4 98.5 720.9 98.5 735.4"/><path d="M98.5 10.5 98.5 25.0 98.5 39.5 98.5 54.0 98.5 68.5 98.5 83.0 98.5 97.5 98.5 112.0 98.6 126.5 98.6 141.0 98.7 155.5 98.9 170.0 99.3 184.5 99.9 199.0 101.0 213.5 101.7 228.0 102.6 242.5 103.7 257.0 105.1 271.5 107.0 286.0 109.3 300.5 112.3 315.0 116.0 329.5 120.7 344.0 126.5 358.5 133.8 372.9 142.8 387.4 153.8 401.9 166.9 416.4 182.4 430.9 200.2 445.4 219.9 459.9 240.6 474.4 260.6 488.9 277.6 503.4 288.3 517.9 290.3 526.6 195.4 532.4 181.9 546.9 163.2 569.5 214.2 600.5 171.2 615.0 136.9 629.4 120.3 643.9 100.2 658.4 98.5 672.9 98.5 677.4 98.5 691.9 98.5 706.4 98.5 720.9 98.5 735.4"/><path d="M98.5 10.5 98.5 25.0 98.5 39.5 98.5 54.0 98.5 68.5 98.5 83.0 98.5 97.5 98.5 112.0 98.6 126.5 98.6 141.0 98.8 155.5 99.0 170.0 99.4 184.5 100.1 199.0 101.5 213.5 102.5 228.0 103.8 242.5 105.4 257.0 107.7 271.5 110.6 286.0 114.4 300.5 119.4 315.0 125.9 329.5 134.3 344.0 145.1 358.5 158.9 372.9 176.1 387.4 197.2 401.9 222.6 416.4 251.8 430.9 283.8 445.4 315.8 459.9 343.7 474.4 361.1 488.9 363.7 496.4 345.5 503.4 284.0 532.4 158.3 546.9 98.5 575.8 98.5 575.9 98.5 590.4 98.5 604.9 98.5 619.4 98.5 633.9 98.5 648.4 98.5 662.9 98.5 677.4 98.5 691.9 98.5 706.4 98.5 720.9 98.5 735.4"/><path d="M98.5 10.5 98.5 25.0 98.5 39.5 98.5 54.0 98.5 68.5 98.5 83.0 98.5 97.5 98.5 112.0 98.5 126.5 98.6 141.0 98.7 155.5 98.8 170.0 99.1 184.5 99.5 199.0 100.4 213.5 101.1 228.0 101.9 242.5 103.0 257.0 104.5 271.5 106.4 286.0 109.0 300.5 112.4 315.0 116.8 329.5 122.6 344.0 130.2 358.5 139.9 372.9 152.3 387.4 167.9 401.9 187.2 416.4 210.5 430.9 237.4 445.4 267.0 459.9 297.0 474.4 323.1 488.9 339.6 503.4 342.2 511.0 284.5 517.9 251.7 532.4 151.4 546.9 128.4 564.3 189.0 592.3 160.6 606.8 134.3 621.3 111.1 635.8 100.6 650.3 98.5 664.8 98.5 677.4 98.5 691.9 98.5 706.4 98.5 720.9 98.5 735.4"/><path d="M98.5 10.5 98.5 25.0 98.5 39.5 98.5 54.0 98.5 68.5 98.5 83.0 98.6 97.5 98.6 112.0 98.7 126.5 98.8 141.0 99.1 155.5 99.5 170.0 100.3 184.5 101.7 199.0 104.2 213.5 105.8 228.0 107.7 242.5 110.2 257.0 113.2 271.5 117.1 286.0 122.0 300.5 128.1 315.0 135.6 329.5 144.9 344.0 156.4 358.5 170.2 372.9 186.8 387.4 206.4 401.9 228.8 416.4 253.8 430.9 280.4 445.4 306.8 459.9 330.5 474.4 347.9 488.9 354.6 503.4 354.6 503.5 341.9 517.9 315.0 532.4 148.1 546.9 120.9 561.3 187.1 601.8 160.6 616.3 128.8 630.8 115.6 645.3 99.9 659.8 98.5 674.3 98.5 677.4 98.5 691.9 98.5 706.4 98.5 720.9 98.5 735.4"/><path d="M98.5 10.5 98.5 25.0 98.5 39.5 98.5 54.0 98.5 68.5 98.5 83.0 98.5 97.5 98.6 112.0 98.7 126.5 98.8 141.0 99.0 155.5 99.4 170.0 100.2 184.5 101.5 199.0 103.9 213.5 105.5 228.0 107.5 242.5 110.0 257.0 113.3 271.5 117.5 286.0 122.8 300.5 129.5 315.0 138.0 329.5 148.6 344.0 161.8 358.5 177.8 372.9 197.2 387.4 220.0 401.9 246.1 416.4 274.7 430.9 304.1 445.4 331.6 459.9 353.1 474.4 363.4 488.9 363.7 491.5 361.1 503.4 303.8 532.4 173.8 546.9 160.6 563.5 250.6 595.3 195.1 609.8 156.1 624.3 125.4 638.8 101.5 653.3 98.5 667.8 98.5 677.4 98.5 691.9 98.5 706.4 98.5 720.9 98.5 735.4"/><path d="M98.5 10.5 98.5 25.0 98.5 39.5 98.5 54.0 98.5 68.5 98.5 83.0 98.5 97.5 98.5 112.0 98.5 126.5 98.5 141.0 98.6 155.5 98.7 170.0 98.8 184.5 99.1 199.0 99.6 213.5 100.1 228.0 100.7 242.5 101.5 257.0 102.7 271.5 104.3 286.0 106.6 300.5 109.7 315.0 114.0 329.5 119.9 344.0 128.0 358.5 138.9 372.9 153.4 387.4 172.4 401.9 196.9 416.4 227.1 430.9 262.5 445.4 300.7 459.9 336.1 474.4 359.8 488.9 363.7 496.7 362.4 503.4 304.2 532.4 153.4 546.9 139.0 567.1 227.1 597.5 183.7 612.0 150.3 626.5 119.3 640.9 102.3 655.4 98.5 669.9 98.5 677.4 98.5 691.9 98.5 706.4 98.5 720.9 98.5 735.4"/><path d="M98.5 10.5 98.5 25.0 98.5 39.5 98.5 54.0 98.5 68.5 98.5 83.0 98.5 97.5 98.5 112.0 98.5 126.5 98.6 141.0 98.6 155.5 98.7 170.0 98.9 184.5 99.2 199.0 99.8 213.5 100.3 228.0 101.0 242.5 102.0 257.0 103.3 271.5 105.1 286.0 107.6 300.5 111.0 315.0 115.6 329.5 121.8 344.0 130.3 358.5 141.6 372.9 156.5 387.4 175.8 401.9 200.2 416.4 229.9 430.9 264.1 445.4 300.2 459.9 332.9 474.4 353.5 488.9 356.2 495.6 342.5 503.4 308.8 532.4 186.0 546.9 98.5 554.2 98.5 561.4 98.5 575.9 98.5 590.4 98.5 604.9 98.5 619.4 98.5 633.9 98.5 648.4 98.5 662.9 98.5 677.4 98.5 691.9 98.5 706.4 98.5 720.9 98.5 735.4"/><path d="M98.5 10.5 98.5 25.0 98.5 39.5 98.5 54.0 98.5 68.5 98.5 83.0 98.5 97.5 98.6 112.0 98.6 126.5 98.7 141.0 98.8 155.5 99.0 170.0 99.5 184.5 100.3 199.0 101.6 213.5 102.5 228.0 103.7 242.5 105.1 257.0 107.0 271.5 109.4 286.0 112.4 300.5 116.3 315.0 121.2 329.5 127.4 344.0 135.1 358.5 144.7 372.9 156.5 387.4 170.9 401.9 188.1 416.4 208.1 430.9 230.6 445.4 254.9 459.9 279.4 474.4 301.4 488.9 317.3 503.4 322.9 517.0 225.7 532.4 148.0 546.9 126.0 569.2 224.7 601.7 188.7 616.2 145.0 630.7 122.9 645.2 103.0 659.7 98.5 674.2 98.5 677.4 98.5 691.9 98.5 706.4 98.5 720.9 98.5 735.4"/><path d="M98.5 10.5 98.5 25.0 98.5 39.5 98.5 54.0 98.5 68.5 98.5 83.0 98.5 97.5 98.6 112.0 98.6 126.5 98.8 141.0 98.9 155.5 99.3 170.0 99.9 184.5 100.9 199.0 102.8 213.5 103.9 228.0 105.3 242.5 107.1 257.0 109.3 271.5 112.1 286.0 115.5 300.5 119.8 315.0 125.2 329.5 131.8 344.0 139.9 358.5 149.7 372.9 161.6 387.4 175.7 401.9 192.1 416.4 210.8 430.9 231.5 445.4 253.2 459.9 274.8 474.4 293.9 488.9 307.7 503.4 313.1 517.9 240.4 532.4 191.0 546.9 159.1 557.8 228.6 601.1 182.8 615.6 138.2 630.1 120.8 644.6 98.7 659.1 98.5 673.6 98.5 677.4 98.5 691.9 98.5 706.4 98.5 720.9 98.5 735.4"/><path d="M98.5 10.5 98.5 25.0 98.5 39.5 98.5 54.0 98.5 68.5 98.5 83.0 98.5 97.5 98.6 112.0 98.6 126.5 98.7 141.0 98.9 155.5 99.3 170.0 99.9 184.5 101.1 199.0 103.2 213.5 104.7 228.0 106.5 242.5 108.9 257.0 112.0 271.5 116.1 286.0 121.2 300.5 127.8 315.0 136.3 329.5 147.0 344.0 160.4 358.5 176.9 372.9 197.0 387.4 220.9 401.9 248.3 416.4 278.3 430.9 309.0 445.4 336.8 459.9 357.0 474.4 363.7 487.2 315.1 532.4 163.8 546.9 136.3 559.4 243.0 598.9 190.6 613.4 141.9 627.9 118.5 642.4 105.7 656.9 98.5 671.4 98.5 677.4 98.5 691.9 98.5 706.4 98.5 720.9 98.5 735.4"/><path d="M98.5 10.5 98.5 25.0 98.5 39.5 98.5 54.0 98.5 68.5 98.5 83.0 98.5 97.5 98.5 112.0 98.5 126.5 98.6 141.0 98.7 155.5 98.8 170.0 99.0 184.5 99.5 199.0 100.3 213.5 100.9 228.0 101.7 242.5 102.7 257.0 104.1 271.5 105.9 286.0 108.4 300.5 111.5 315.0 115.7 329.5 121.2 344.0 128.3 358.5 137.5 372.9 149.2 387.4 164.0 401.9 182.2 416.4 204.2 430.9 229.7 445.4 257.8 459.9 286.1 474.4 310.7 488.9 326.1 503.4 328.3 510.7 283.4 517.9 256.7 532.4 136.6 546.9 123.6 572.7 224.0 592.8 177.8 607.3 140.6 621.8 115.9 636.3 101.6 650.8 98.5 665.3 98.5 677.4 98.5 691.9 98.5 706.4 98.5 720.9 98.5 735.4"/><path d="M98.5 10.5 98.5 25.0 98.5 39.5 98.5 54.0 98.5 68.5 98.5 83.0 98.5 97.5 98.5 112.0 98.5 126.5 98.5 141.0 98.6 155.5 98.6 170.0 98.8 184.5 99.0 199.0 99.5 213.5 99.9 228.0 100.4 242.5 101.2 257.0 102.2 271.5 103.7 286.0 105.7 300.5 108.4 315.0 112.2 329.5 117.3 344.0 124.3 358.5 133.8 372.9 146.4 387.4 163.1 401.9 184.7 416.4 211.6 430.9 243.8 445.4 279.6 459.9 315.0 474.4 342.9 488.9 353.3 502.3 282.7 532.4 166.9 546.9 98.5 589.2 98.5 590.4 98.5 604.9 98.5 619.4 98.5 633.9 98.5 648.4 98.5 662.9 98.5 677.4 98.5 691.9 98.5 706.4 98.5 720.9 98.5 735.4"/><path d="M98.5 10.5 98.5 25.0 98.5 39.5 98.5 54.0 98.5 68.5 98.5 83.0 98.5 97.5 98.5 112.0 98.6 126.5 98.6 141.0 98.7 155.5 98.9 170.0 99.2 184.5 99.7 199.0 100.7 213.5 101.3 228.0 102.2 242.5 103.2 257.0 104.6 271.5 106.3 286.0 108.5 300.5 111.4 315.0 115.0 329.5 119.6 344.0 125.4 358.5 132.7 372.9 141.8 387.4 153.0 401.9 166.5 416.4 182.5 430.9 201.0 445.4 221.6 459.9 243.1 474.4 263.7 488.9 280.7 503.4 290.3 517.9 291.3 523.7 224.8 532.4 221.0 546.9 232.9 569.1 314.1 599.2 231.4 613.7 179.4 628.2 133.9 642.7 107.6 657.2 98.5 671.7 98.5 677.4 98.5 691.9 98.5 706.4 98.5 720.9 98.5 735.4"/><path d="M98.5 10.5 98.5 25.0 98.5 39.5 98.5 54.0 98.5 68.5 98.5 83.0 98.5 97.5 98.6 112.0 98.6 126.5 98.8 141.0 99.0 155.5 99.4 170.0 100.1 184.5 101.3 199.0 103.6 213.5 105.1 228.0 107.1 242.5 109.6 257.0 112.9 271.5 117.0 286.0 122.4 300.5 129.2 315.0 137.8 329.5 148.6 344.0 162.1 358.5 178.7 372.9 198.7 387.4 222.4 401.9 249.4 416.4 278.9 430.9 308.9 445.4 336.3 459.9 356.4 474.4 363.7 488.1 278.5 532.4 149.5 546.9 123.9 568.8 215.2 603.0 172.4 617.5 146.6 632.0 120.9 646.5 99.5 661.0 98.5 675.5 98.5 677.4 98.5 691.9 98.5 706.4 98.5 720.9 98.5 735.4"/><path d="M98.5 10.5 98.5 25.0 98.5 39.5 98.5 54.0 98.5 68.5 98.5 83.0 98.6 97.5 98.6 112.0 98.7 126.5 98.9 141.0 99.2 155.5 99.8 170.0 100.8 184.5 102.5 199.0 105.6 213.5 107.6 228.0 110.0 242.5 113.0 257.0 116.9 271.5 121.7 286.0 127.7 300.5 135.2 315.0 144.5 329.5 156.0 344.0 169.9 358.5 186.5 372.9 206.2 387.4 229.0 401.9 254.5 416.4 281.9 430.9 309.5 445.4 334.9 459.9 354.3 474.4 363.5 488.9 363.7 491.4 345.9 503.4 310.3 532.4 206.6 546.9 190.9 560.1 291.2 599.1 240.2 613.6 165.9 628.1 136.9 642.6 105.6 657.1 98.5 671.6 98.5 677.4 98.5 691.9 98.5 706.4 98.5 720.9 98.5 735.4"/><path d="M98.5 10.5 98.5 25.0 98.5 39.5 98.5 54.0 98.5 68.5 98.5 83.0 98.5 97.5 98.5 112.0 98.5 126.5 98.6 141.0 98.6 155.5 98.7 170.0 98.9 184.5 99.3 199.0 100.0 213.5 100.5 228.0 101.3 242.5 102.3 257.0 103.8 271.5 105.7 286.0 108.3 300.5 111.9 315.0 116.8 329.5 123.3 344.0 132.1 358.5 143.8 372.9 159.1 387.4 178.8 401.9 203.6 416.4 233.6 430.9 268.2 445.4 304.7 459.9 338.0 474.4 360.0 488.9 363.7 496.8 340.9 503.4 312.9 532.4 278.1 546.9 250.5 559.2 338.2 593.2 275.1 607.7 181.8 622.2 128.1 636.7 102.9 651.2 98.5 665.7 98.5 677.4 98.5 691.9 98.5 706.4 98.5 720.9 98.5 735.4"/><path d="M98.5 10.5 98.5 25.0 98.5 39.5 98.5 54.0 98.5 68.5 98.5 83.0 98.5 97.5 98.5 112.0 98.5 126.5 98.6 141.0 98.7 155.5 98.8 170.0 99.1 184.5 99.6 199.0 100.7 213.5 101.4 228.0 102.4 242.5 103.8 257.0 105.7 271.5 108.2 286.0 111.5 300.5 116.0 315.0 121.9 329.5 129.8 344.0 140.2 358.5 153.7 372.9 171.0 387.4 192.8 401.9 219.3 416.4 250.5 430.9 284.9 445.4 319.3 459.9 348.0 474.4 363.1 488.9 363.7 492.3 347.8 503.4 235.9 532.4 153.2 546.9 98.5 561.6 98.5 575.9 98.5 590.4 98.5 604.9 98.5 619.4 98.5 633.9 98.5 648.4 98.5 662.9 98.5 677.4 98.5 691.9 98.5 706.4 98.5 720.9 98.5 735.4"/><path d="M98.5 10.5 98.5 25.0 98.5 39.5 98.5 54.0 98.5 68.5 98.5 83.0 98.5 97.5 98.5 112.0 98.5 126.5 98.6 141.0 98.7 155.5 98.8 170.0 99.0 184.5 99.5 199.0 100.5 213.5 101.2 228.0 102.2 242.5 103.5 257.0 105.3 271.5 107.7 286.0 111.0 300.5 115.5 315.0 121.4 329.5 129.4 344.0 139.9 358.5 153.7 372.9 171.6 387.4 194.1 401.9 221.8 416.4 254.1 430.9 289.6 445.4 324.5 459.9 352.1 474.4 363.7 488.9 363.7 489.1 352.7 503.4 331.3 532.4 246.4 546.9 231.6 570.9 315.6 604.1 231.1 618.6 187.3 633.1 133.2 647.6 104.3 662.1 98.5 676.6 98.5 677.4 98.5 691.9 98.5 706.4 98.5 720.9 98.5 735.4"/><path d="M98.5 10.5 98.5 25.0 98.5 39.5 98.5 54.0 98.5 68.5 98.5 83.0 98.5 97.5 98.5 112.0 98.5 126.5 98.5 141.0 98.6 155.5 98.7 170.0 98.8 184.5 99.1 199.0 99.6 213.5 100.1 228.0 100.7 242.5 101.5 257.0 102.7 271.5 104.3 286.0 106.6 300.5 109.6 315.0 113.8 329.5 119.5 344.0 127.3 358.5 137.8 372.9 151.7 387.4 170.0 401.9 193.4 416.4 222.4 430.9 256.5 445.4 293.8 459.9 329.5 474.4 355.5 488.9 362.3 499.5 324.5 532.4 299.7 546.9 265.3 565.7 323.2 605.2 251.9 619.7 177.0 634.2 135.0 648.7 107.5 663.2 98.5 677.7 98.5 691.9 98.5 706.4 98.5 720.9 98.5 735.4"/><path d="M98.5 10.5 98.5 25.0 98.5 39.5 98.5 54.0 98.5 68.5 98.5 83.0 98.5 97.5 98.6 112.0 98.6 126.5 98.7 141.0 98.9 155.5 99.3 170.0 99.9 184.5 101.1 199.0 103.2 213.5 104.6 228.0 106.4 242.5 108.7 257.0 111.8 271.5 115.7 286.0 120.7 300.5 127.2 315.0 135.4 329.5 145.8 344.0 158.8 358.5 174.9 372.9 194.5 387.4 217.8 401.9 244.7 416.4 274.3 430.9 304.9 445.4 333.2 459.9 354.8 474.4 363.7 488.9 363.7 489.5 351.8 503.4 268.2 532.4 197.9 546.9 163.0 560.9 217.0 596.8 183.8 611.3 138.7 625.8 116.1 640.3 100.9 654.8 98.5 669.3 98.5 677.4 98.5 691.9 98.5 706.4 98.5 720.9 98.5 735.4"/><path d="M98.5 10.5 98.5 25.0 98.5 39.5 98.5 54.0 98.5 68.5 98.5 83.0 98.5 97.5 98.5 112.0 98.5 126.5 98.5 141.0 98.6 155.5 98.7 170.0 98.8 184.5 99.2 199.0 99.8 213.5 100.3 228.0 101.0 242.5 101.9 257.0 103.2 271.5 104.9 286.0 107.3 300.5 110.7 315.0 115.2 329.5 121.3 344.0 129.6 358.5 140.8 372.9 155.5 387.4 174.7 401.9 199.0 416.4 228.9 430.9 263.7 445.4 300.9 459.9 335.6 474.4 359.2 488.9 363.7 497.5 357.0 503.4 253.5 532.4 248.9 546.9 236.4 565.0 303.6 606.3 223.0 620.8 165.0 635.3 129.9 649.8 98.8 664.3 98.5 678.8 98.5 691.9 98.5 706.4 98.5 720.9 98.5 735.4"/><path d="M98.5 10.5 98.5 25.0 98.5 39.5 98.5 54.0 98.5 68.5 98.5 83.0 98.5 97.5 98.5 112.0 98.5 126.5 98.5 141.0 98.6 155.5 98.6 170.0 98.7 184.5 99.0 199.0 99.4 213.5 99.7 228.0 100.2 242.5 100.9 257.0 101.8 271.5 103.0 286.0 104.8 300.5 107.2 315.0 110.5 329.5 114.9 344.0 121.1 358.5 129.3 372.9 140.4 387.4 155.1 401.9 174.1 416.4 198.2 430.9 227.4 445.4 260.8 459.9 295.5 474.4 325.8 488.9 342.9 503.4 343.9 507.5 306.9 517.9 257.6 532.4 166.9 546.9 98.5 573.2 98.5 575.9 98.5 590.4 98.5 604.9 98.5 619.4 98.5 633.9 98.5 648.4 98.5 662.9 98.5 677.4 98.5 691.9 98.5 706.4 98.5 720.9 98.5 735.4"/><path d="M98.5 10.5 98.5 25.0 98.5 39.5 98.5 54.0 98.5 68.5 98.5 83.0 98.5 97.5 98.5 112.0 98.5 126.5 98.5 141.0 98.5 155.5 98.6 170.0 98.6 184.5 98.8 199.0 99.0 213.5 99.2 228.0 99.5 242.5 100.0 257.0 100.5 271.5 101.3 286.0 102.4 300.5 103.9 315.0 106.1 329.5 109.0 344.0 113.0 358.5 118.5 372.9 126.0 387.4 136.0 401.9 149.4 416.4 166.7 430.9 188.4 445.4 214.6 459.9 244.0 474.4 273.3 488.9 296.5 503.4 305.3 517.0 258.9 532.4 254.1 546.9 241.0 557.3 307.2 597.9 225.0 612.4 179.0 626.9 135.4 641.4 108.1 655.9 98.5 670.4 98.5 677.4 98.5 691.9 98.5 706.4 98.5 720.9 98.5 735.4"/><path d="M98.5 10.5 98.5 25.0 98.5 39.5 98.5 54.0 98.5 68.5 98.5 83.0 98.5 97.5 98.5 112.0 98.6 126.5 98.6 141.0 98.7 155.5 98.9 170.0 99.2 184.5 99.8 199.0 100.8 213.5 101.6 228.0 102.5 242.5 103.8 257.0 105.4 271.5 107.6 286.0 110.5 300.5 114.2 315.0 119.0 329.5 125.2 344.0 133.2 358.5 143.4 372.9 156.3 387.4 172.3 401.9 191.8 416.4 215.0 430.9 241.4 445.4 269.9 459.9 298.1 474.4 322.1 488.9 336.2 503.4 337.8 509.6 296.6 517.9 236.0 532.4 231.9 546.9 213.0 559.5 299.0 603.8 234.6 618.3 159.9 632.8 122.9 647.3 105.3 661.8 98.5 676.3 98.5 677.4 98.5 691.9 98.5 706.4 98.5 720.9 98.5 735.4"/><path d="M98.5 10.5 98.5 25.0 98.5 39.5 98.5 54.0 98.5 68.5 98.5 83.0 98.6 97.5 98.6 112.0 98.8 126.5 98.9 141.0 99.3 155.5 99.9 170.0 101.0 184.5 102.9 199.0 106.2 213.5 108.2 228.0 110.7 242.5 113.9 257.0 117.9 271.5 122.9 286.0 129.1 300.5 136.8 315.0 146.2 329.5 157.8 344.0 171.8 358.5 188.5 372.9 208.2 387.4 230.8 401.9 256.0 416.4 282.9 430.9 310.1 445.4 334.9 459.9 354.1 474.4 363.4 488.9 363.7 491.9 346.3 503.4 265.9 532.4 175.5 546.9 157.5 562.6 250.5 599.4 204.2 613.9 156.8 628.4 120.2 642.9 104.8 657.4 98.5 671.9 98.5 677.4 98.5 691.9 98.5 706.4 98.5 720.9 98.5 735.4"/><path d="M98.5 10.5 98.5 25.0 98.5 39.5 98.5 54.0 98.5 68.5 98.5 83.0 98.5 97.5 98.6 112.0 98.6 126.5 98.7 141.0 98.8 155.5 99.0 170.0 99.4 184.5 100.2 199.0 101.5 213.5 102.3 228.0 103.3 242.5 104.5 257.0 106.1 271.5 108.1 286.0 110.7 300.5 113.8 315.0 117.8 329.5 122.8 344.0 128.9 358.5 136.4 372.9 145.6 387.4 156.7 401.9 169.9 416.4 185.3 430.9 202.7 445.4 221.7 459.9 241.4 474.4 260.4 488.9 276.2 503.4 286.2 517.9 288.0 526.5 251.0 532.4 246.4 546.9 263.1 567.4 338.2 595.0 264.4 609.5 199.0 624.0 142.0 638.5 100.9 653.0 98.5 667.5 98.5 677.4 98.5 691.9 98.5 706.4 98.5 720.9 98.5 735.4"/><path d="M98.5 10.5 98.5 25.0 98.5 39.5 98.5 54.0 98.5 68.5 98.5 83.0 98.5 97.5 98.5 112.0 98.5 126.5 98.6 141.0 98.6 155.5 98.7 170.0 98.8 184.5 99.1 199.0 99.6 213.5 100.0 228.0 100.5 242.5 101.2 257.0 102.1 271.5 103.4 286.0 105.0 300.5 107.1 315.0 110.0 329.5 113.8 344.0 118.8 358.5 125.3 372.9 133.7 387.4 144.5 401.9 158.2 416.4 175.3 430.9 195.8 445.4 219.6 459.9 245.6 474.4 271.5 488.9 293.3 503.4 305.4 517.9 306.3 522.4 270.5 532.4 136.2 546.9 98.5 582.1 98.5 590.4 98.5 604.9 98.5 619.4 98.5 633.9 98.5 648.4 98.5 662.9 98.5 677.4 98.5 691.9 98.5 706.4 98.5 720.9 98.5 735.4"/><path d="M98.5 10.5 98.5 25.0 98.5 39.5 98.5 54.0 98.5 68.5 98.5 83.0 98.5 97.5 98.5 112.0 98.6 126.5 98.7 141.0 98.8 155.5 99.0 170.0 99.4 184.5 100.2 199.0 101.5 213.5 102.4 228.0 103.5 242.5 105.0 257.0 106.8 271.5 109.2 286.0 112.3 300.5 116.2 315.0 121.2 329.5 127.5 344.0 135.5 358.5 145.4 372.9 157.7 387.4 172.7 401.9 190.8 416.4 211.8 430.9 235.7 445.4 261.5 459.9 287.4 474.4 310.5 488.9 327.0 503.4 332.1 515.8 254.3 532.4 249.6 546.9 245.2 572.7 307.2 600.5 231.4 615.0 167.6 629.5 128.4 644.0 105.8 658.5 98.5 672.9 98.5 677.4 98.5 691.9 98.5 706.4 98.5 720.9 98.5 735.4"/><path d="M98.5 10.5 98.5 25.0 98.5 39.5 98.5 54.0 98.5 68.5 98.5 83.0 98.5 97.5 98.6 112.0 98.6 126.5 98.7 141.0 98.9 155.5 99.2 170.0 99.8 184.5 100.8 199.0 102.7 213.5 103.9 228.0 105.6 242.5 107.8 257.0 110.6 271.5 114.3 286.0 119.0 300.5 125.1 315.0 132.9 329.5 142.8 344.0 155.4 358.5 171.0 372.9 190.2 387.4 213.1 401.9 239.9 416.4 269.7 430.9 300.8 445.4 330.2 459.9 353.1 474.4 363.6 488.9 363.7 490.5 349.8 503.4 278.1 532.4 197.2 546.9 173.0 559.7 225.0 604.5 179.4 619.0 146.4 633.5 114.8 648.0 101.9 662.5 98.5 677.0 98.5 677.4 98.5 691.9 98.5 706.4 98.5 720.9 98.5 735.4"/><path d="M98.5 10.5 98.5 25.0 98.5 39.5 98.5 54.0 98.5 68.5 98.5 83.0 98.5 97.5 98.6 112.0 98.6 126.5 98.7 141.0 98.9 155.5 99.3 170.0 99.9 184.5 100.9 199.0 102.8 213.5 104.0 228.0 105.6 242.5 107.5 257.0 110.0 271.5 113.2 286.0 117.2 300.5 122.3 315.0 128.7 329.5 136.7 344.0 146.6 358.5 158.8 372.9 173.7 387.4 191.5 401.9 212.5 416.4 236.3 430.9 262.4 445.4 289.5 459.9 315.1 474.4 335.8 488.9 347.4 503.4 348.4 508.8 336.5 517.9 275.6 532.4 237.1 546.9 213.6 557.3 285.9 601.5 226.1 616.0 167.6 630.5 121.8 645.0 101.3 659.5 98.5 674.0 98.5 677.4 98.5 691.9 98.5 706.4 98.5 720.9 98.5 735.4"/><path d="M98.5 10.5 98.5 25.0 98.5 39.5 98.5 54.0 98.5 68.5 98.5 83.0 98.5 97.5 98.5 112.0 98.5 126.5 98.6 141.0 98.6 155.5 98.8 170.0 99.0 184.5 99.5 199.0 100.3 213.5 101.0 228.0 101.8 242.5 103.0 257.0 104.6 271.5 106.8 286.0 109.8 300.5 113.8 315.0 119.1 329.5 126.3 344.0 135.7 358.5 148.1 372.9 164.2 387.4 184.7 401.9 210.1 416.4 240.4 430.9 274.6 445.4 309.9 459.9 341.1 474.4 360.3 488.9 362.6 495.3 346.8 503.4 317.9 532.4 232.4 546.9 213.7 567.8 293.0 598.3 216.1 612.8 177.7 627.3 123.2 641.8 105.5 656.3 98.5 670.8 98.5 677.4 98.5 691.9 98.5 706.4 98.5 720.9 98.5 735.4"/><path d="M98.5 10.5 98.5 25.0 98.5 39.5 98.5 54.0 98.5 68.5 98.5 83.0 98.5 97.5 98.5 112.0 98.5 126.5 98.5 141.0 98.6 155.5 98.6 170.0 98.7 184.5 98.9 199.0 99.2 213.5 99.5 228.0 99.9 242.5 100.5 257.0 101.2 271.5 102.3 286.0 103.7 300.5 105.8 315.0 108.5 329.5 112.4 344.0 117.6 358.5 124.8 372.9 134.4 387.4 147.2 401.9 164.1 416.4 185.7 430.9 212.3 445.4 243.5 459.9 277.0 474.4 308.1 488.9 329.0 503.4 332.5 511.4 280.9 517.9 246.3 532.4 133.1 546.9 98.5 584.7 98.5 590.4 98.5 604.9 98.5 619.4 98.5 633.9 98.5 648.4 98.5 662.9 98.5 677.4 98.5 691.9 98.5 706.4 98.5 720.9 98.5 735.4"/><path d="M98.5 10.5 98.5 25.0 98.5 39.5 98.5 54.0 98.5 68.5 98.5 83.0 98.5 97.5 98.5 112.0 98.5 126.5 98.5 141.0 98.5 155.5 98.6 170.0 98.6 184.5 98.7 199.0 98.9 213.5 99.1 228.0 99.3 242.5 99.7 257.0 100.1 271.5 100.7 286.0 101.6 300.5 102.8 315.0 104.4 329.5 106.7 344.0 109.7 358.5 113.9 372.9 119.6 387.4 127.3 401.9 137.5 416.4 150.9 430.9 168.0 445.4 189.1 459.9 213.9 474.4 240.7 488.9 266.0 503.4 283.7 517.9 287.6 527.2 250.7 532.4 246.2 546.9 232.8 564.6 338.2 603.1 242.5 617.6 184.0 632.1 129.6 646.6 108.0 661.1 98.5 675.6 98.5 677.4 98.5 691.9 98.5 706.4 98.5 720.9 98.5 735.4"/><path d="M98.5 10.5 98.5 25.0 98.5 39.5 98.5 54.0 98.5 68.5 98.5 83.0 98.5 97.5 98.6 112.0 98.6 126.5 98.7 141.0 98.9 155.5 99.3 170.0 99.9 184.5 100.9 199.0 102.7 213.5 103.8 228.0 105.2 242.5 107.0 257.0 109.2 271.5 112.0 286.0 115.4 300.5 119.7 315.0 125.1 329.5 131.7 344.0 139.8 358.5 149.6 372.9 161.5 387.4 175.7 401.9 192.2 416.4 211.0 430.9 231.8 445.4 253.8 459.9 275.6 474.4 295.0 488.9 309.2 503.4 314.7 517.9 314.7 518.1 206.8 532.4 203.5 546.9 215.0 568.4 303.0 593.1 238.2 607.6 160.6 622.1 131.5 636.5 100.5 651.0 98.5 665.5 98.5 677.4 98.5 691.9 98.5 706.4 98.5 720.9 98.5 735.4"/><path d="M98.5 10.5 98.5 25.0 98.5 39.5 98.5 54.0 98.5 68.5 98.5 83.0 98.5 97.5 98.6 112.0 98.6 126.5 98.8 141.0 99.0 155.5 99.3 170.0 99.9 184.5 101.1 199.0 103.1 213.5 104.4 228.0 106.0 242.5 108.1 257.0 110.7 271.5 114.0 286.0 118.3 300.5 123.6 315.0 130.3 329.5 138.7 344.0 149.2 358.5 162.0 372.9 177.6 387.4 196.2 401.9 218.0 416.4 242.8 430.9 269.9 445.4 297.8 459.9 324.0 474.4 344.9 488.9 356.1 503.4 356.8 507.9 309.5 517.9 264.7 532.4 163.3 546.9 150.0 566.2 215.8 600.9 182.7 615.4 144.2 629.9 121.6 644.4 102.6 658.9 98.5 673.4 98.5 677.4 98.5 691.9 98.5 706.4 98.5 720.9 98.5 735.4"/><path d="M98.5 10.5 98.5 25.0 98.5 39.5 98.5 54.0 98.5 68.5 98.5 83.0 98.5 97.5 98.5 112.0 98.6 126.5 98.7 141.0 98.8 155.5 99.0 170.0 99.5 184.5 100.3 199.0 101.8 213.5 102.8 228.0 104.2 242.5 105.9 257.0 108.2 271.5 111.2 286.0 115.0 300.5 120.0 315.0 126.4 329.5 134.6 344.0 145.0 358.5 158.1 372.9 174.5 387.4 194.5 401.9 218.4 416.4 246.0 430.9 276.4 445.4 307.6 459.9 336.0 474.4 356.7 488.9 363.5 501.6 296.0 532.4 270.9 546.9 251.1 563.7 325.0 601.9 259.0 616.4 173.8 630.9 137.4 645.4 108.3 659.9 98.5 674.4 98.5 677.4 98.5 691.9 98.5 706.4 98.5 720.9 98.5 735.4"/><path d="M98.5 10.5 98.5 25.0 98.5 39.5 98.5 54.0 98.5 68.5 98.5 83.0 98.5 97.5 98.6 112.0 98.6 126.5 98.8 141.0 99.0 155.5 99.3 170.0 99.9 184.5 101.1 199.0 103.0 213.5 104.3 228.0 105.8 242.5 107.8 257.0 110.2 271.5 113.4 286.0 117.3 300.5 122.2 315.0 128.4 329.5 136.0 344.0 145.4 358.5 157.0 372.9 170.9 387.4 187.4 401.9 206.7 416.4 228.6 430.9 252.6 445.4 277.4 459.9 301.0 474.4 320.5 488.9 332.3 503.4 333.9 510.8 305.0 517.9 305.1 532.4 214.1 546.9 98.5 560.0 98.5 561.4 98.5 575.9 98.5 590.4 98.5 604.9 98.5 619.4 98.5 633.9 98.5 648.4 98.5 662.9 98.5 677.4 98.5 691.9 98.5 706.4 98.5 720.9 98.5 735.4"/><path d="M98.5 10.5 98.5 25.0 98.5 39.5 98.5 54.0 98.5 68.5 98.5 83.0 98.6 97.5 98.6 112.0 98.8 126.5 98.9 141.0 99.3 155.5 99.9 170.0 100.9 184.5 102.8 199.0 106.0 213.5 108.0 228.0 110.5 242.5 113.6 257.0 117.5 271.5 122.4 286.0 128.5 300.5 136.1 315.0 145.4 329.5 156.7 344.0 170.5 358.5 187.0 372.9 206.4 387.4 228.7 401.9 253.7 416.4 280.5 430.9 307.7 445.4 332.9 459.9 352.7 474.4 363.1 488.9 363.7 493.3 355.5 503.4 321.3 532.4 181.3 546.9 151.1 571.5 205.7 593.3 174.0 607.8 131.3 622.3 118.0 636.8 102.0 651.3 98.5 665.8 98.5 677.4 98.5 691.9 98.5 706.4 98.5 720.9 98.5 735.4"/><path d="M98.5 10.5 98.5 25.0 98.5 39.5 98.5 54.0 98.5 68.5 98.5 83.0 98.5 97.5 98.5 112.0 98.6 126.5 98.6 141.0 98.7 155.5 98.9 170.0 99.1 184.5 99.7 199.0 100.6 213.5 101.2 228.0 102.0 242.5 103.1 257.0 104.4 271.5 106.2 286.0 108.4 300.5 111.3 315.0 115.0 329.5 119.7 344.0 125.7 358.5 133.3 372.9 142.8 387.4 154.6 401.9 168.9 416.4 186.0 430.9 205.8 445.4 228.0 459.9 251.4 474.4 273.9 488.9 292.6 503.4 303.3 517.9 304.4 523.7 233.2 532.4 229.2 546.9 252.1 567.1 338.2 596.4 253.5 610.9 199.2 625.4 141.6 639.9 99.7 654.4 98.5 668.9 98.5 677.4 98.5 691.9 98.5 706.4 98.5 720.9 98.5 735.4"/><path d="M98.5 10.5 98.5 25.0 98.5 39.5 98.5 54.0 98.5 68.5 98.5 83.0 98.5 97.5 98.5 112.0 98.5 126.5 98.5 141.0 98.6 155.5 98.7 170.0 98.9 184.5 99.2 199.0 99.8 213.5 100.3 228.0 101.1 242.5 102.0 257.0 103.4 271.5 105.2 286.0 107.8 300.5 111.3 315.0 116.1 329.5 122.6 344.0 131.3 358.5 143.1 372.9 158.7 387.4 178.9 401.9 204.5 416.4 235.6 430.9 271.3 445.4 308.8 459.9 342.0 474.4 361.9 488.9 363.7 494.3 348.8 503.4 241.8 532.4 148.4 546.9 131.5 564.6 237.2 601.8 192.6 616.3 147.1 630.8 116.2 645.3 99.3 659.8 98.5 674.3 98.5 677.4 98.5 691.9 98.5 706.4 98.5 720.9 98.5 735.4"/><path d="M98.5 10.5 98.5 25.0 98.5 39.5 98.5 54.0 98.5 68.5 98.5 83.0 98.6 97.5 98.6 112.0 98.7 126.5 98.8 141.0 99.1 155.5 99.5 170.0 100.2 184.5 101.6 199.0 103.9 213.5 105.4 228.0 107.2 242.5 109.5 257.0 112.4 271.5 116.1 286.0 120.7 300.5 126.4 315.0 133.6 329.5 142.4 344.0 153.2 358.5 166.3 372.9 181.9 387.4 200.4 401.9 221.6 416.4 245.2 430.9 270.4 445.4 295.5 459.9 318.1 474.4 334.8 488.9 341.6 503.4 341.6 504.0 316.1 517.9 228.3 532.4 224.4 546.9 231.1 564.8 286.9 601.4 234.2 615.9 169.2 630.4 123.2 644.9 106.3 659.4 98.5 673.9 98.5 677.4 98.5 691.9 98.5 706.4 98.5 720.9 98.5 735.4"/><path d="M98.5 10.5 98.5 25.0 98.5 39.5 98.5 54.0 98.5 68.5 98.5 83.0 98.5 97.5 98.5 112.0 98.6 126.5 98.6 141.0 98.7 155.5 98.9 170.0 99.3 184.5 99.9 199.0 101.1 213.5 102.0 228.0 103.1 242.5 104.7 257.0 106.7 271.5 109.3 286.0 112.8 300.5 117.4 315.0 123.4 329.5 131.3 344.0 141.4 358.5 154.3 372.9 170.7 387.4 190.9 401.9 215.4 416.4 243.9 430.9 275.4 445.4 307.5 459.9 336.0 474.4 354.6 488.9 358.0 497.4 356.5 503.4 245.9 532.4 158.8 546.9 98.5 550.2 98.5 561.4 98.5 575.9 98.5 590.4 98.5 604.9 98.5 619.4 98.5 633.9 98.5 648.4 98.5 662.9 98.5 677.4 98.5 691.9 98.5 706.4 98.5 720.9 98.5 735.4"/><path d="M98.5 10.5 98.5 25.0 98.5 39.5 98.5 54.0 98.5 68.5 98.5 83.0 98.5 97.5 98.5 112.0 98.6 126.5 98.6 141.0 98.8 155.5 99.0 170.0 99.3 184.5 100.0 199.0 101.3 213.5 102.2 228.0 103.3 242.5 104.7 257.0 106.6 271.5 109.1 286.0 112.3 300.5 116.4 315.0 121.7 329.5 128.5 344.0 137.1 358.5 148.0 372.9 161.6 387.4 178.3 401.9 198.4 416.4 222.0 430.9 248.6 445.4 276.9 459.9 304.3 474.4 327.2 488.9 340.2 503.4 341.4 508.9 326.6 517.9 297.8 532.4 179.4 546.9 163.4 565.3 249.0 605.7 192.2 620.2 157.0 634.7 125.2 649.2 101.8 663.7 98.5 678.2 98.5 691.9 98.5 706.4 98.5 720.9 98.5 735.4"/><path d="M98.5 10.5 98.5 25.0 98.5 39.5 98.5 54.0 98.5 68.5 98.5 83.0 98.5 97.5 98.6 112.0 98.6 126.5 98.7 141.0 98.8 155.5 99.1 170.0 99.6 184.5 100.5 199.0 102.2 213.5 103.2 228.0 104.7 242.5 106.5 257.0 108.8 271.5 111.9 286.0 115.8 300.5 120.8 315.0 127.2 329.5 135.3 344.0 145.6 358.5 158.3 372.9 174.1 387.4 193.2 401.9 215.7 416.4 241.5 430.9 269.8 445.4 298.6 459.9 324.8 474.4 344.1 488.9 351.0 502.5 268.3 532.4 263.2 546.9 251.6 564.7 338.2 596.1 263.3 610.6 194.2 625.1 130.9 639.6 105.3 654.1 98.5 668.6 98.5 677.4 98.5 691.9 98.5 706.4 98.5 720.9 98.5 735.4"/><path d="M98.5 10.5 98.5 25.0 98.5 39.5 98.5 54.0 98.5 68.5 98.5 83.0 98.5 97.5 98.5 112.0 98.5 126.5 98.5 141.0 98.6 155.5 98.7 170.0 98.8 184.5 99.1 199.0 99.7 213.5 100.2 228.0 100.9 242.5 101.8 257.0 103.0 271.5 104.7 286.0 107.1 300.5 110.4 315.0 114.8 329.5 120.8 344.0 129.0 358.5 140.0 372.9 154.6 387.4 173.7 401.9 198.0 416.4 227.8 430.9 262.6 445.4 300.1 459.9 335.0 474.4 359.0 488.9 363.7 497.7 343.5 503.4 296.4 532.4 254.9 546.9 238.0 564.5 305.2 599.4 246.9 613.9 184.1 628.4 128.8 642.9 108.8 657.4 98.5 671.9 98.5 677.4 98.5 691.9 98.5 706.4 98.5 720.9 98.5 735.4"/><path d="M98.5 10.5 98.5 25.0 98.5 39.5 98.5 54.0 98.5 68.5 98.5 83.0 98.5 97.5 98.6 112.0 98.6 126.5 98.7 141.0 98.9 155.5 99.3 170.0 99.9 184.5 101.0 199.0 102.9 213.5 104.1 228.0 105.7 242.5 107.7 257.0 110.3 271.5 113.6 286.0 117.7 300.5 123.0 315.0 129.6 329.5 137.9 344.0 148.1 358.5 160.8 372.9 176.2 387.4 194.6 401.9 216.2 416.4 240.6 430.9 267.1 445.4 294.2 459.9 319.2 474.4 338.3 488.9 347.0 503.4 347.1 505.3 307.9 517.9 291.7 532.4 192.2 546.9 173.4 559.0 272.2 606.4 213.4 620.8 170.0 635.3 120.4 649.8 105.0 664.3 98.5 678.8 98.5 691.9 98.5 706.4 98.5 720.9 98.5 735.4"/><path d="M98.5 10.5 98.5 25.0 98.5 39.5 98.5 54.0 98.5 68.5 98.5 83.0 98.6 97.5 98.6 112.0 98.7 126.5 98.8 141.0 99.1 155.5 99.5 170.0 100.3 184.5 101.6 199.0 104.0 213.5 105.4 228.0 107.2 242.5 109.5 257.0 112.3 271.5 115.9 286.0 120.3 300.5 125.9 315.0 132.7 329.5 141.2 344.0 151.5 358.5 164.0 372.9 179.0 387.4 196.5 401.9 216.8 416.4 239.4 430.9 263.7 445.4 288.3 459.9 311.1 474.4 329.0 488.9 338.4 503.4 338.9 507.8 328.7 517.9 225.1 532.4 129.8 546.9 98.5 579.5 98.5 590.4 98.5 604.9 98.5 619.4 98.5 633.9 98.5 648.4 98.5 662.9 98.5 677.4 98.5 691.9 98.5 706.4 98.5 720.9 98.5 735.4"/><path d="M98.5 10.5 98.5 25.0 98.5 39.5 98.5 54.0 98.5 68.5 98.5 83.0 98.5 97.5 98.5 112.0 98.6 126.5 98.6 141.0 98.7 155.5 98.9 170.0 99.2 184.5 99.7 199.0 100.8 213.5 101.5 228.0 102.5 242.5 103.8 257.0 105.6 271.5 107.8 286.0 110.8 300.5 114.8 315.0 119.9 329.5 126.6 344.0 135.3 358.5 146.4 372.9 160.4 387.4 178.0 401.9 199.5 416.4 224.9 430.9 253.7 445.4 284.3 459.9 313.6 474.4 336.7 488.9 347.1 503.4 347.2 504.8 296.6 517.9 309.3 532.4 189.3 546.9 155.3 568.7 257.5 593.1 194.2 607.6 148.1 622.1 124.9 636.6 101.6 651.1 98.5 665.6 98.5 677.4 98.5 691.9 98.5 706.4 98.5 720.9 98.5 735.4"/><path d="M98.5 10.5 98.5 25.0 98.5 39.5 98.5 54.0 98.5 68.5 98.5 83.0 98.5 97.5 98.5 112.0 98.6 126.5 98.6 141.0 98.7 155.5 98.8 170.0 99.1 184.5 99.5 199.0 100.4 213.5 101.0 228.0 101.7 242.5 102.7 257.0 104.0 271.5 105.6 286.0 107.8 300.5 110.5 315.0 114.1 329.5 118.7 344.0 124.6 358.5 132.0 372.9 141.4 387.4 153.2 401.9 167.5 416.4 184.7 430.9 204.7 445.4 227.1 459.9 250.5 474.4 272.9 488.9 290.8 503.4 299.8 517.9 300.2 521.1 274.1 532.4 195.9 546.9 185.1 567.0 251.8 595.4 201.9 609.9 161.7 624.4 119.7 638.9 101.9 653.4 98.5 667.9 98.5 677.4 98.5 691.9 98.5 706.4 98.5 720.9 98.5 735.4"/><path d="M98.5 10.5 98.5 25.0 98.5 39.5 98.5 54.0 98.5 68.5 98.5 83.0 98.5 97.5 98.5 112.0 98.6 126.5 98.6 141.0 98.8 155.5 99.0 170.0 99.4 184.5 100.2 199.0 101.5 213.5 102.5 228.0 103.8 242.5 105.4 257.0 107.6 271.5 110.4 286.0 114.1 300.5 118.9 315.0 125.2 329.5 133.2 344.0 143.5 358.5 156.6 372.9 172.9 387.4 193.0 401.9 217.2 416.4 245.2 430.9 276.2 445.4 308.0 459.9 337.0 474.4 357.6 488.9 363.7 500.7 256.0 532.4 237.1 546.9 208.8 563.4 305.7 596.8 241.0 611.3 169.9 625.8 132.4 640.3 100.2 654.8 98.5 669.3 98.5 677.4 98.5 691.9 98.5 706.4 98.5 720.9 98.5 735.4"/><path d="M98.5 10.5 98.5 25.0 98.5 39.5 98.5 54.0 98.5 68.5 98.5 83.0 98.6 97.5 98.6 112.0 98.7 126.5 98.8 141.0 99.0 155.5 99.4 170.0 100.2 184.5 101.5 199.0 103.7 213.5 105.2 228.0 106.9 242.5 109.2 257.0 112.0 271.5 115.6 286.0 120.1 300.5 125.7 315.0 132.7 329.5 141.3 344.0 151.9 358.5 164.8 372.9 180.3 387.4 198.7 401.9 219.9 416.4 243.7 430.9 269.3 445.4 295.3 459.9 319.3 474.4 338.0 488.9 347.3 503.4 347.7 506.8 315.8 517.9 223.1 532.4 219.4 546.9 266.7 561.4 334.0 599.7 267.4 614.2 186.1 628.7 128.0 643.2 108.2 657.7 98.5 672.2 98.5 677.4 98.5 691.9 98.5 706.4 98.5 720.9 98.5 735.4"/><path d="M98.5 10.5 98.5 25.0 98.5 39.5 98.5 54.0 98.5 68.5 98.5 83.0 98.5 97.5 98.5 112.0 98.5 126.5 98.6 141.0 98.7 155.5 98.8 170.0 99.1 184.5 99.6 199.0 100.6 213.5 101.4 228.0 102.4 242.5 103.7 257.0 105.5 271.5 107.9 286.0 111.0 300.5 115.2 315.0 120.8 329.5 128.2 344.0 137.9 358.5 150.4 372.9 166.5 387.4 186.7 401.9 211.5 416.4 240.9 430.9 273.9 445.4 308.1 459.9 338.9 474.4 359.6 488.9 363.7 497.8 338.6 503.4 273.0 532.4 148.5 546.9 98.5 571.1 98.5 575.9 98.5 590.4 98.5 604.9 98.5 619.4 98.5 633.9 98.5 648.4 98.5 662.9 98.5 677.4 98.5 691.9 98.5 706.4 98.5 720.9 98.5 735.4"/><path d="M98.5 10.5 98.5 25.0 98.5 39.5 98.5 54.0 98.5 68.5 98.5 83.0 98.5 97.5 98.5 112.0 98.5 126.5 98.5 141.0 98.5 155.5 98.6 170.0 98.6 184.5 98.8 199.0 99.0 213.5 99.2 228.0 99.5 242.5 100.0 257.0 100.5 271.5 101.3 286.0 102.4 300.5 104.0 315.0 106.1 329.5 109.1 344.0 113.1 358.5 118.7 372.9 126.3 387.4 136.6 401.9 150.2 416.4 168.0 430.9 190.6 445.4 217.9 459.9 248.9 474.4 280.4 488.9 306.4 503.4 318.0 517.9 318.0 518.7 226.1 532.4 222.3 546.9 242.7 560.9 324.7 593.4 244.4 607.9 182.7 622.4 129.9 636.9 99.4 651.4 98.5 665.9 98.5 677.4 98.5 691.9 98.5 706.4 98.5 720.9 98.5 735.4"/><path d="M98.5 10.5 98.5 25.0 98.5 39.5 98.5 54.0 98.5 68.5 98.5 83.0 98.5 97.5 98.5 112.0 98.5 126.5 98.5 141.0 98.6 155.5 98.6 170.0 98.7 184.5 99.0 199.0 99.4 213.5 99.7 228.0 100.2 242.5 100.8 257.0 101.7 271.5 102.8 286.0 104.5 300.5 106.7 315.0 109.7 329.5 113.8 344.0 119.4 358.5 126.9 372.9 136.9 387.4 150.1 401.9 167.2 416.4 188.8 430.9 215.0 445.4 245.3 459.9 277.4 474.4 306.7 488.9 325.9 503.4 328.9 511.0 279.4 517.9 293.9 532.4 158.1 546.9 134.7 559.7 244.3 599.6 201.8 614.1 154.9 628.6 126.3 643.1 99.3 657.6 98.5 672.1 98.5 677.4 98.5 691.9 98.5 706.4 98.5 720.9 98.5 735.4"/><path d="M98.5 10.5 98.5 25.0 98.5 39.5 98.5 54.0 98.5 68.5 98.5 83.0 98.5 97.5 98.5 112.0 98.6 126.5 98.7 141.0 98.8 155.5 99.0 170.0 99.4 184.5 100.1 199.0 101.4 213.5 102.2 228.0 103.2 242.5 104.5 257.0 106.1 271.5 108.2 286.0 110.9 300.5 114.2 315.0 118.5 329.5 123.8 344.0 130.5 358.5 138.7 372.9 148.9 387.4 161.2 401.9 176.0 416.4 193.4 430.9 213.2 445.4 235.0 459.9 257.6 474.4 279.1 488.9 296.9 503.4 307.2 517.9 308.4 524.4 225.6 532.4 220.1 546.9 206.7 557.5 290.8 606.3 241.8 620.8 178.4 635.3 124.1 649.8 100.7 664.3 98.5 678.8 98.5 691.9 98.5 706.4 98.5 720.9 98.5 735.4"/><path d="M98.5 10.5 98.5 25.0 98.5 39.5 98.5 54.0 98.5 68.5 98.5 83.0 98.5 97.5 98.6 112.0 98.6 126.5 98.7 141.0 98.8 155.5 99.1 170.0 99.5 184.5 100.3 199.0 101.7 213.5 102.7 228.0 103.9 242.5 105.4 257.0 107.4 271.5 110.0 286.0 113.2 300.5 117.4 315.0 122.6 329.5 129.3 344.0 137.7 358.5 148.1 372.9 161.0 387.4 176.6 401.9 195.2 416.4 216.8 430.9 240.8 445.4 266.2 459.9 291.0 474.4 312.0 488.9 324.9 503.4 326.9 511.2 290.2 517.9 264.6 532.4 144.5 546.9 127.8 569.6 183.4 602.7 157.1 617.2 132.8 631.7 110.5 646.2 98.8 660.7 98.5 675.2 98.5 677.4 98.5 691.9 98.5 706.4 98.5 720.9 98.5 735.4"/><path d="M98.5 10.5 98.5 25.0 98.5 39.5 98.5 54.0 98.5 68.5 98.5 83.0 98.5 97.5 98.6 112.0 98.6 126.5 98.7 141.0 98.9 155.5 99.2 170.0 99.8 184.5 100.8 199.0 102.7 213.5 103.8 228.0 105.2 242.5 107.0 257.0 109.3 271.5 112.2 286.0 115.9 300.5 120.4 315.0 126.2 329.5 133.3 344.0 142.1 358.5 152.9 372.9 165.9 387.4 181.4 401.9 199.6 416.4 220.2 430.9 242.9 445.4 266.4 459.9 289.0 474.4 307.9 488.9 319.5 503.4 321.4 511.4 286.9 517.9 266.5 532.4 196.9 546.9 98.5 570.2 98.5 575.9 98.5 590.4 98.5 604.9 98.5 619.4 98.5 633.9 98.5 648.4 98.5 662.9 98.5 677.4 98.5 691.9 98.5 706.4 98.5 720.9 98.5 735.4"/><path d="M98.5 10.5 98.5 25.0 98.5 39.5 98.5 54.0 98.5 68.5 98.5 83.0 98.5 97.5 98.6 112.0 98.6 126.5 98.7 141.0 98.9 155.5 99.2 170.0 99.7 184.5 100.6 199.0 102.3 213.5 103.5 228.0 104.9 242.5 106.7 257.0 109.1 271.5 112.2 286.0 116.0 300.5 121.0 315.0 127.3 329.5 135.3 344.0 145.3 358.5 157.7 372.9 172.9 387.4 191.4 401.9 213.1 416.4 238.1 430.9 265.6 445.4 294.0 459.9 320.6 474.4 341.5 488.9 351.6 503.4 351.9 506.2 315.8 517.9 259.2 532.4 254.4 546.9 239.9 559.3 326.6 596.8 239.3 611.3 186.6 625.8 133.7 640.3 99.9 654.8 98.5 669.3 98.5 677.4 98.5 691.9 98.5 706.4 98.5 720.9 98.5 735.4"/><path d="M98.5 10.5 98.5 25.0 98.5 39.5 98.5 54.0 98.5 68.5 98.5 83.0 98.6 97.5 98.6 112.0 98.7 126.5 98.8 141.0 99.1 155.5 99.6 170.0 100.4 184.5 101.9 199.0 104.5 213.5 106.1 228.0 108.2 242.5 110.8 257.0 114.1 271.5 118.3 286.0 123.6 300.5 130.2 315.0 138.4 329.5 148.6 344.0 161.1 358.5 176.3 372.9 194.4 387.4 215.6 401.9 239.7 416.4 266.2 430.9 293.9 445.4 320.4 459.9 342.5 474.4 356.1 488.9 358.3 496.8 338.8 503.4 272.3 532.4 222.0 546.9 193.6 563.1 282.1 599.0 231.5 613.5 154.9 628.0 122.2 642.5 105.4 657.0 98.5 671.5 98.5 677.4 98.5 691.9 98.5 706.4 98.5 720.9 98.5 735.4"/><path d="M98.5 10.5 98.5 39.5 98.5 68.5 98.5 97.5 98.6 126.5 98.8 155.5 99.4 184.5 100.3 199.0 101.9 213.5 103.1 228.0 104.7 242.5 106.9 257.0 109.8 271.5 113.7 286.0 119.0 300.5 126.0 315.0 135.2 329.5 147.3 344.0 162.9 358.5 182.6 372.9 206.9 387.4 235.7 401.9 267.8 416.4 300.7 430.9 329.2 445.4 345.9 459.9 340.3 474.4 297.8 488.9 226.3 503.4 155.5 517.9 113.6 532.4 100.4 546.9 98.6 561.4 98.5 575.9 98.5 590.4 98.5 604.9 98.5 619.4 98.5 633.9 98.5 648.4 98.5 662.9 98.5 677.4 98.5 691.9 98.5 706.4 98.5 720.9 98.5 735.4"/><path d="M98.5 10.5 98.5 39.5 98.5 68.5 98.5 97.5 98.6 126.5 99.0 155.5 100.2 184.5 101.7 199.0 104.5 213.5 106.5 228.0 109.1 242.5 112.5 257.0 117.1 271.5 123.1 286.0 130.9 300.5 141.0 315.0 153.9 329.5 170.2 344.0 190.3 358.5 214.4 372.9 242.1 387.4 272.0 401.9 301.3 416.4 325.3 430.9 337.6 445.4 329.7 459.9 294.0 474.4 235.9 488.9 173.2 503.4 127.1 517.9 105.2 532.4 99.3 546.9 98.5 561.4 98.5 575.9 98.5 590.4 98.5 604.9 98.5 619.4 98.5 633.9 98.5 648.4 98.5 662.9 98.5 677.4 98.5 691.9 98.5 706.4 98.5 720.9 98.5 735.4"/><path d="M98.5 10.5 98.5 39.5 98.5 68.5 98.5 97.5 98.6 126.5 98.8 155.5 99.7 184.5 100.7 199.0 102.8 213.5 104.5 228.0 106.7 242.5 109.8 257.0 114.1 271.5 119.9 286.0 127.7 300.5 138.3 315.0 152.2 329.5 170.4 344.0 193.5 358.5 221.8 372.9 254.6 387.4 289.5 401.9 321.3 416.4 341.9 430.9 339.9 445.4 298.8 459.9 225.6 474.4 152.8 488.9 111.5 503.4 99.8 517.9 98.5 532.4 98.5 546.9 98.5 561.4 98.5 575.9 98.5 590.4 98.5 604.9 98.5 619.4 98.5 633.9 98.5 648.4 98.5 662.9 98.5 677.4 98.5 691.9 98.5 706.4 98.5 720.9 98.5 735.4"/><path d="M98.5 10.5 98.5 39.5 98.5 68.5 98.5 97.5 98.6 126.5 99.0 155.5 100.3 184.5 102.0 199.0 105.0 213.5 107.4 228.0 110.5 242.5 114.7 257.0 120.4 271.5 127.8 286.0 137.7 300.5 150.5 315.0 166.9 329.5 187.3 344.0 211.9 358.5 240.1 372.9 269.7 387.4 297.1 401.9 315.8 416.4 318.5 430.9 301.3 445.4 263.9 459.9 213.2 474.4 162.5 488.9 125.3 503.4 106.1 517.9 99.8 532.4 98.6 546.9 98.5 561.4 98.5 575.9 98.5 590.4 98.5 604.9 98.5 619.4 98.5 633.9 98.5 648.4 98.5 662.9 98.5 677.4 98.5 691.9 98.5 706.4 98.5 720.9 98.5 735.4"/><path d="M98.5 10.5 98.5 39.5 98.5 68.5 98.5 97.5 98.6 126.5 99.0 155.5 100.2 184.5 101.8 199.0 104.8 213.5 107.1 228.0 110.3 242.5 114.7 257.0 120.6 271.5 128.6 286.0 139.3 300.5 153.3 315.0 171.3 329.5 193.9 344.0 221.2 358.5 252.0 372.9 283.6 387.4 310.5 401.9 324.7 416.4 314.9 430.9 270.7 445.4 203.2 459.9 141.7 474.4 108.7 488.9 99.6 503.4 98.5 517.9 98.5 532.4 98.5 546.9 98.5 561.4 98.5 575.9 98.5 590.4 98.5 604.9 98.5 619.4 98.5 633.9 98.5 648.4 98.5 662.9 98.5 677.4 98.5 691.9 98.5 706.4 98.5 720.9 98.5 735.4"/><path d="M98.5 10.5 98.5 39.5 98.5 68.5 98.5 97.5 98.6 126.5 98.9 155.5 100.0 184.5 101.5 199.0 104.5 213.5 107.0 228.0 110.5 242.5 115.4 257.0 122.1 271.5 131.5 286.0 144.2 300.5 161.2 315.0 183.4 329.5 211.1 344.0 243.7 358.5 278.4 372.9 309.1 387.4 326.0 401.9 319.0 416.4 285.1 430.9 229.6 445.4 169.6 459.9 125.5 474.4 104.8 488.9 99.2 503.4 98.5 517.9 98.5 532.4 98.5 546.9 98.5 561.4 98.5 575.9 98.5 590.4 98.5 604.9 98.5 619.4 98.5 633.9 98.5 648.4 98.5 662.9 98.5 677.4 98.5 691.9 98.5 706.4 98.5 720.9 98.5 735.4"/><path d="M98.5 10.5 98.5 39.5 98.6 68.5 98.8 97.5 99.4 126.5 101.4 155.5 107.7 184.5 115.0 199.0 127.7 213.5 135.6 228.0 145.4 242.5 157.5 257.0 172.3 271.5 190.0 286.0 210.7 300.5 234.2 315.0 259.7 329.5 285.7 344.0 309.6 358.5 327.8 372.9 335.7 387.4 335.7 388.6 314.4 401.9 244.6 416.4 160.8 430.9 111.5 445.4 99.4 459.9 98.5 474.4 98.5 488.9 98.5 503.4 98.5 517.9 98.5 532.4 98.5 546.9 98.5 561.4 98.5 575.9 98.5 590.4 98.5 604.9 98.5 619.4 98.5 633.9 98.5 648.4 98.5 662.9 98.5 677.4 98.5 691.9 98.5 706.4 98.5 720.9 98.5 735.4"/><path d="M98.5 10.5 98.5 39.5 98.6 68.5 98.8 97.5 99.5 126.5 101.8 155.5 109.0 184.5 117.0 199.0 131.2 213.5 139.7 228.0 150.3 242.5 163.2 257.0 178.8 271.5 197.4 286.0 218.9 300.5 243.1 315.0 269.1 329.5 295.2 344.0 318.8 358.5 336.3 372.9 343.3 387.4 343.3 387.7 318.9 401.9 247.0 416.4 162.5 430.9 112.4 445.4 99.5 459.9 98.5 474.4 98.5 488.9 98.5 503.4 98.5 517.9 98.5 532.4 98.5 546.9 98.5 561.4 98.5 575.9 98.5 590.4 98.5 604.9 98.5 619.4 98.5 633.9 98.5 648.4 98.5 662.9 98.5 677.4 98.5 691.9 98.5 706.4 98.5 720.9 98.5 735.4"/><path d="M98.5 10.5 98.5 39.5 98.6 68.5 98.7 97.5 99.1 126.5 100.6 155.5 105.5 184.5 111.3 199.0 122.0 213.5 129.3 228.0 138.6 242.5 150.5 257.0 165.5 271.5 184.0 286.0 206.2 300.5 231.9 315.0 260.3 329.5 289.2 344.0 314.9 358.5 331.9 372.9 335.3 382.0 333.8 387.4 313.4 401.9 270.0 416.4 212.5 430.9 157.7 445.4 120.6 459.9 103.8 474.4 99.2 488.9 98.5 503.4 98.5 517.9 98.5 532.4 98.5 546.9 98.5 561.4 98.5 575.9 98.5 590.4 98.5 604.9 98.5 619.4 98.5 633.9 98.5 648.4 98.5 662.9 98.5 677.4 98.5 691.9 98.5 706.4 98.5 720.9 98.5 735.4"/><path d="M98.5 10.5 98.5 39.5 98.6 68.5 98.9 97.5 99.9 126.5 102.8 155.5 111.8 184.5 121.8 199.0 139.4 213.5 149.7 228.0 162.2 242.5 177.4 257.0 195.4 271.5 216.5 286.0 240.5 300.5 266.8 315.0 294.1 329.5 320.5 344.0 342.7 358.5 356.8 372.9 359.5 381.8 355.6 387.4 307.1 401.9 217.7 416.4 138.2 430.9 104.2 445.4 98.7 459.9 98.5 474.4 98.5 488.9 98.5 503.4 98.5 517.9 98.5 532.4 98.5 546.9 98.5 561.4 98.5 575.9 98.5 590.4 98.5 604.9 98.5 619.4 98.5 633.9 98.5 648.4 98.5 662.9 98.5 677.4 98.5 691.9 98.5 706.4 98.5 720.9 98.5 735.4"/><path d="M98.5 10.5 98.5 39.5 98.6 68.5 98.7 97.5 99.1 126.5 100.6 155.5 105.5 184.5 111.3 199.0 121.6 213.5 128.5 228.0 137.3 242.5 148.4 257.0 162.2 271.5 179.3 286.0 200.0 300.5 224.1 315.0 251.3 329.5 280.1 344.0 307.7 358.5 330.0 372.9 341.6 387.4 342.1 390.9 328.2 401.9 267.0 416.4 182.0 430.9 121.2 445.4 100.9 459.9 98.6 474.4 98.5 488.9 98.5 503.4 98.5 517.9 98.5 532.4 98.5 546.9 98.5 561.4 98.5 575.9 98.5 590.4 98.5 604.9 98.5 619.4 98.5 633.9 98.5 648.4 98.5 662.9 98.5 677.4 98.5 691.9 98.5 706.4 98.5 720.9 98.5 735.4"/><path d="M98.5 10.5 98.6 83.0 99.5 123.6 102.5 155.5 121.6 196.1 162.2 228.0 209.7 252.6 251.5 278.7 282.1 299.0 293.6 329.5 293.6 365.7 277.0 378.7 238.8 397.6 187.8 416.4 149.5 430.9 124.0 445.4 106.2 459.9 98.5 474.4 98.5 488.9 98.5 503.4 98.5 517.9 98.5 532.4 98.5 546.9 98.5 561.4 98.5 575.9 98.5 590.4 98.5 604.9 98.5 619.4 98.5 633.9 98.5 648.4 98.5 662.9 98.5 677.4 98.5 691.9 98.5 706.4 98.5 720.9 98.5 735.4"/></g><path d="M98.85 10.5V735.4" stroke="#800000" stroke-width="2.1"/></g>
<g clip-path="url(#cr)"><path d="M754.2 635.2 L761.5 635.2 L768.8 635.2 L776.2 635.2 L783.5 635.2 L790.8 635.2 L798.1 635.2 L805.4 635.2 L812.7 635.2 L820.1 635.2 L827.4 635.2 L834.7 635.2 L842.0 635.2 L849.3 635.2 L856.6 635.2 L864.0 635.2 L871.3 620.8 L878.6 606.3 L885.9 606.3 L893.2 591.8 L900.5 591.8 L907.9 591.8 L915.2 577.4 L922.5 577.4 L924.8 525.3 L929.8 519.5 L937.1 505.0 L944.4 490.5 L951.8 447.1 L959.1 403.7 L966.4 389.3 L973.7 374.8 L981.0 331.4 L988.3 288.0 L995.7 259.1 L1003.0 215.7 L1010.3 201.2 L1017.6 215.7 L1024.9 244.6 L1032.2 302.5 L1039.6 345.9 L1046.9 360.3 L1054.2 389.3 L1061.5 389.3 L1068.8 447.1 L1076.1 490.5 L1083.5 505.0 L1090.8 519.5 L1098.1 519.5 L1105.4 519.5 L1110.4 519.5 L1112.7 606.3 L1120.1 606.3 L1127.4 606.3 L1134.7 606.3 L1142.0 505.0 L1149.3 505.0 L1156.6 505.0 L1164.0 505.0 L1171.3 505.0 L1178.6 505.0 L1185.9 505.0 L1193.2 505.0 L1200.5 505.0 L1207.9 505.0 L1215.2 505.0 L1222.5 505.0 L1229.8 505.0 L1237.1 505.0 L1244.4 505.0 L1251.8 490.5 L1259.1 490.5 L1266.4 476.1 L1273.7 476.1 L1281.0 476.1 L1288.3 476.1 L1295.7 476.1 L1303.0 476.1 L1310.3 490.5" fill="none" stroke="#000080" stroke-width="3" stroke-linejoin="round"/><g fill="#fff" stroke="#000080" stroke-width="1.5"><circle cx="754.2" cy="635.2" r="5.4"/><circle cx="761.5" cy="635.2" r="5.4"/><circle cx="768.8" cy="635.2" r="5.4"/><circle cx="776.2" cy="635.2" r="5.4"/><circle cx="783.5" cy="635.2" r="5.4"/><circle cx="790.8" cy="635.2" r="5.4"/><circle cx="798.1" cy="635.2" r="5.4"/><circle cx="805.4" cy="635.2" r="5.4"/><circle cx="812.7" cy="635.2" r="5.4"/><circle cx="820.1" cy="635.2" r="5.4"/><circle cx="827.4" cy="635.2" r="5.4"/><circle cx="834.7" cy="635.2" r="5.4"/><circle cx="842.0" cy="635.2" r="5.4"/><circle cx="849.3" cy="635.2" r="5.4"/><circle cx="856.6" cy="635.2" r="5.4"/><circle cx="864.0" cy="635.2" r="5.4"/><circle cx="871.3" cy="620.8" r="5.4"/><circle cx="878.6" cy="606.3" r="5.4"/><circle cx="885.9" cy="606.3" r="5.4"/><circle cx="893.2" cy="591.8" r="5.4"/><circle cx="900.5" cy="591.8" r="5.4"/><circle cx="907.9" cy="591.8" r="5.4"/><circle cx="915.2" cy="577.4" r="5.4"/><circle cx="922.5" cy="577.4" r="5.4"/><circle cx="929.8" cy="519.5" r="5.4"/><circle cx="937.1" cy="505.0" r="5.4"/><circle cx="944.4" cy="490.5" r="5.4"/><circle cx="951.8" cy="447.1" r="5.4"/><circle cx="959.1" cy="403.7" r="5.4"/><circle cx="966.4" cy="389.3" r="5.4"/><circle cx="973.7" cy="374.8" r="5.4"/><circle cx="981.0" cy="331.4" r="5.4"/><circle cx="988.3" cy="288.0" r="5.4"/><circle cx="995.7" cy="259.1" r="5.4"/><circle cx="1003.0" cy="215.7" r="5.4"/><circle cx="1010.3" cy="201.2" r="5.4"/><circle cx="1017.6" cy="215.7" r="5.4"/><circle cx="1024.9" cy="244.6" r="5.4"/><circle cx="1032.2" cy="302.5" r="5.4"/><circle cx="1039.6" cy="345.9" r="5.4"/><circle cx="1046.9" cy="360.3" r="5.4"/><circle cx="1054.2" cy="389.3" r="5.4"/><circle cx="1061.5" cy="389.3" r="5.4"/><circle cx="1068.8" cy="447.1" r="5.4"/><circle cx="1076.1" cy="490.5" r="5.4"/><circle cx="1083.5" cy="505.0" r="5.4"/><circle cx="1090.8" cy="519.5" r="5.4"/><circle cx="1098.1" cy="519.5" r="5.4"/><circle cx="1105.4" cy="519.5" r="5.4"/><circle cx="1112.7" cy="606.3" r="5.4"/><circle cx="1120.1" cy="606.3" r="5.4"/><circle cx="1127.4" cy="606.3" r="5.4"/><circle cx="1134.7" cy="606.3" r="5.4"/><circle cx="1142.0" cy="505.0" r="5.4"/><circle cx="1149.3" cy="505.0" r="5.4"/><circle cx="1156.6" cy="505.0" r="5.4"/><circle cx="1164.0" cy="505.0" r="5.4"/><circle cx="1171.3" cy="505.0" r="5.4"/><circle cx="1178.6" cy="505.0" r="5.4"/><circle cx="1185.9" cy="505.0" r="5.4"/><circle cx="1193.2" cy="505.0" r="5.4"/><circle cx="1200.5" cy="505.0" r="5.4"/><circle cx="1207.9" cy="505.0" r="5.4"/><circle cx="1215.2" cy="505.0" r="5.4"/><circle cx="1222.5" cy="505.0" r="5.4"/><circle cx="1229.8" cy="505.0" r="5.4"/><circle cx="1237.1" cy="505.0" r="5.4"/><circle cx="1244.4" cy="505.0" r="5.4"/><circle cx="1251.8" cy="490.5" r="5.4"/><circle cx="1259.1" cy="490.5" r="5.4"/><circle cx="1266.4" cy="476.1" r="5.4"/><circle cx="1273.7" cy="476.1" r="5.4"/><circle cx="1281.0" cy="476.1" r="5.4"/><circle cx="1288.3" cy="476.1" r="5.4"/><circle cx="1295.7" cy="476.1" r="5.4"/><circle cx="1303.0" cy="476.1" r="5.4"/><circle cx="1310.3" cy="490.5" r="5.4"/></g><path d="M1047.5 360.3 L1049.6 389.3 L1057.3 389.3 L1062.5 392.2 L1066.3 418.2 L1067.5 432.7 L1071.5 461.6 L1076.0 490.5 L1078.1 505.0 L1082.5 505.0 L1084.0 519.5 L1089.2 519.5 L1100.7 519.5 L1112.8 519.5 L1117.7 606.3 L1125.4 606.3 L1131.5 606.3 L1137.2 505.0 L1138.2 505.0 L1151.7 505.0 L1166.6 505.0 L1181.6 505.0 L1197.5 505.0 L1214.2 505.0 L1232.0 505.0 L1244.2 505.0 L1248.4 490.5 L1250.4 490.5 L1263.5 490.5 L1267.7 476.1 L1270.0 476.1 L1290.7 476.1 L1305.3 476.1 L1310.3 490.5" fill="none" stroke="#800000" stroke-width="3.5" stroke-linejoin="round"/><g fill="#800000"><rect x="1041.8" y="354.6" width="11.4" height="11.4"/><rect x="1051.6" y="383.6" width="11.4" height="11.4"/><rect x="1061.8" y="427.0" width="11.4" height="11.4"/><rect x="1072.4" y="499.3" width="11.4" height="11.4"/><rect x="1083.5" y="513.8" width="11.4" height="11.4"/><rect x="1095.0" y="513.8" width="11.4" height="11.4"/><rect x="1107.1" y="513.8" width="11.4" height="11.4"/><rect x="1119.7" y="600.6" width="11.4" height="11.4"/><rect x="1132.5" y="499.3" width="11.4" height="11.4"/><rect x="1146.0" y="499.3" width="11.4" height="11.4"/><rect x="1160.9" y="499.3" width="11.4" height="11.4"/><rect x="1175.9" y="499.3" width="11.4" height="11.4"/><rect x="1191.8" y="499.3" width="11.4" height="11.4"/><rect x="1208.5" y="499.3" width="11.4" height="11.4"/><rect x="1226.3" y="499.3" width="11.4" height="11.4"/><rect x="1244.7" y="484.8" width="11.4" height="11.4"/><rect x="1264.3" y="470.4" width="11.4" height="11.4"/><rect x="1285.0" y="470.4" width="11.4" height="11.4"/><rect x="1304.6" y="484.8" width="11.4" height="11.4"/><rect x="1083.3" y="513.8" width="35.3" height="11.4"/></g></g>
<g style="font-family:'Liberation Serif',serif" font-size="36" fill="#000"><text x="89.3" y="753.0" text-anchor="end">50</text><text x="89.3" y="608.4" text-anchor="end">60</text><text x="89.3" y="463.8" text-anchor="end">70</text><text x="89.3" y="319.3" text-anchor="end">80</text><text x="89.3" y="174.7" text-anchor="end">90</text><text x="89.3" y="30.1" text-anchor="end">100</text><text x="98.5" y="782.5" text-anchor="middle">0.00</text><text x="226.0" y="782.5" text-anchor="middle">0.05</text><text x="353.5" y="782.5" text-anchor="middle">0.10</text><text x="481.0" y="782.5" text-anchor="middle">0.15</text><text x="608.5" y="782.5" text-anchor="middle">0.20</text><text x="753.8" y="782.5" text-anchor="middle">300</text><text x="893.8" y="782.5" text-anchor="middle">500</text><text x="1033.9" y="782.5" text-anchor="middle">700</text><text x="1173.9" y="782.5" text-anchor="middle">900</text><text x="1314.0" y="782.5" text-anchor="middle">1100</text></g>
<g style="font-family:'Liberation Serif',serif" font-size="39" fill="#000">
<text x="169" y="825.3">Weighting Function [km<tspan dy="-16.8" font-size="31">-1</tspan><tspan dy="16.8">]</tspan></text>
<text x="885" y="823.4">Wavenumber [cm<tspan dy="-16.8" font-size="31">-1</tspan><tspan dy="16.8">]</tspan></text>
<text transform="translate(32,345.5) rotate(-90)" text-anchor="middle">Altitude [km]</text>
</g>
<g style="font-family:'Liberation Serif',serif" font-weight="bold" font-size="41" fill="#000"><text x="188" y="66">a</text><text x="818" y="73.5">b</text></g>
<rect x="380" y="71.6" width="209" height="88.9" fill="#fff" stroke="#000" stroke-width="1.4"/>
<path d="M392 93.7H430.5" stroke="#000080" stroke-width="1.6"/>
<path d="M393.5 137.5H429" stroke="#800000" stroke-width="5.5" stroke-linecap="round"/>
<g style="font-family:'Liberation Serif',serif" font-weight="bold" font-size="36"><text x="443" y="105.5" fill="#000080">PMV</text><text x="443" y="149.3" fill="#800000">MERTIS</text></g>
<rect x="1043.6" y="68.5" width="210.4" height="88.6" fill="#fff" stroke="#000" stroke-width="1.4"/>
<path d="M1058 90.7H1093" stroke="#000080" stroke-width="5.5" stroke-linecap="round"/>
<circle cx="1075.1" cy="90.7" r="5.3" fill="#fff" stroke="#000080" stroke-width="1.5"/>
<path d="M1058 135H1093" stroke="#800000" stroke-width="5.5" stroke-linecap="round"/>
<rect x="1069.5" y="129.2" width="11.6" height="11.6" fill="#800000"/>
<g style="font-family:'Liberation Serif',serif" font-weight="bold" font-size="36"><text x="1107.8" y="102.2" fill="#000080">PMV</text><text x="1107.8" y="145.2" fill="#800000">MERTIS</text></g>
</svg></body></html>
